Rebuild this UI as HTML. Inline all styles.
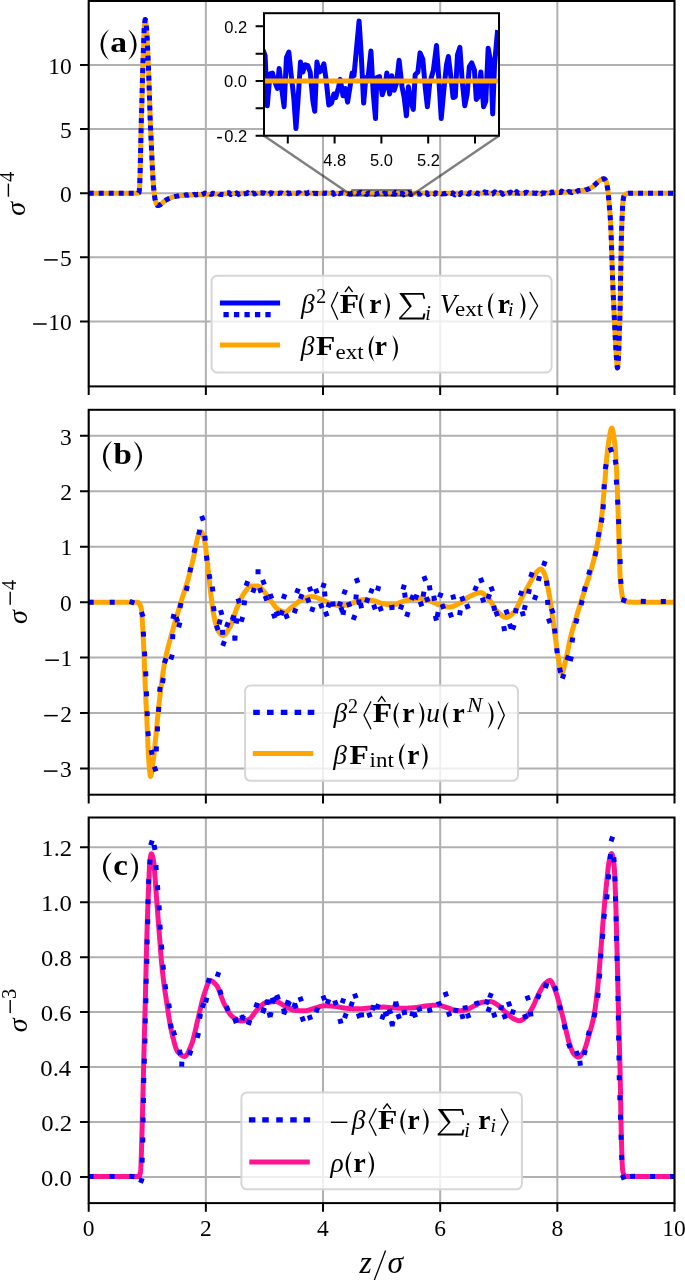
<!DOCTYPE html>
<html><head><meta charset="utf-8"><style>
html,body{margin:0;padding:0;background:#fff;}
body{width:685px;height:1280px;overflow:hidden;}
svg{display:block;will-change:transform;}
</style></head><body>
<svg width="685" height="1280" viewBox="0 0 685 1280">
<rect width="685" height="1280" fill="#fff"/>
<defs>
<clipPath id="clipa"><rect x="88.7" y="1.0" width="585.8" height="385.4"/></clipPath>
<clipPath id="clipb"><rect x="88.7" y="409.8" width="585.8" height="384.90000000000003"/></clipPath>
<clipPath id="clipc"><rect x="88.7" y="817.5" width="585.8" height="385.5999999999999"/></clipPath>
<clipPath id="clipi"><rect x="264" y="13.2" width="235" height="122.5"/></clipPath>
</defs>
<path d="M88.70,1.00V386.40M205.86,1.00V386.40M323.02,1.00V386.40M440.18,1.00V386.40M557.34,1.00V386.40M674.50,1.00V386.40M88.70,321.40H674.50M88.70,257.30H674.50M88.70,193.20H674.50M88.70,129.10H674.50M88.70,65.00H674.50" stroke="#b0b0b0" stroke-width="2" fill="none"/>
<g clip-path="url(#clipa)">
<path d="M88.70,193.20 L88.95,193.20 L89.20,193.20 L89.45,193.20 L89.70,193.20 L89.95,193.20 L90.20,193.20 L90.45,193.20 L90.70,193.20 L90.95,193.20 L91.20,193.20 L91.45,193.20 L91.70,193.20 L91.95,193.20 L92.20,193.20 L92.45,193.20 L92.70,193.20 L92.95,193.20 L93.20,193.20 L93.45,193.20 L93.70,193.20 L93.95,193.20 L94.20,193.20 L94.45,193.20 L94.70,193.20 L94.95,193.20 L95.20,193.20 L95.45,193.20 L95.70,193.20 L95.95,193.20 L96.20,193.20 L96.45,193.20 L96.70,193.20 L96.95,193.20 L97.20,193.20 L97.45,193.20 L97.70,193.20 L97.95,193.20 L98.20,193.20 L98.45,193.20 L98.70,193.20 L98.95,193.20 L99.20,193.20 L99.45,193.20 L99.70,193.20 L99.95,193.20 L100.20,193.20 L100.45,193.20 L100.70,193.20 L100.95,193.20 L101.20,193.20 L101.45,193.20 L101.70,193.20 L101.95,193.20 L102.20,193.20 L102.45,193.20 L102.70,193.20 L102.95,193.20 L103.20,193.20 L103.45,193.20 L103.70,193.20 L103.95,193.20 L104.20,193.20 L104.45,193.20 L104.70,193.20 L104.95,193.20 L105.20,193.20 L105.45,193.20 L105.70,193.20 L105.95,193.20 L106.20,193.20 L106.45,193.20 L106.70,193.20 L106.95,193.20 L107.20,193.20 L107.45,193.20 L107.70,193.20 L107.95,193.20 L108.20,193.20 L108.45,193.20 L108.70,193.20 L108.95,193.20 L109.20,193.20 L109.45,193.20 L109.70,193.20 L109.95,193.20 L110.20,193.20 L110.45,193.20 L110.70,193.20 L110.95,193.20 L111.20,193.20 L111.45,193.20 L111.70,193.20 L111.95,193.20 L112.20,193.20 L112.45,193.20 L112.70,193.20 L112.95,193.20 L113.20,193.20 L113.45,193.20 L113.70,193.20 L113.95,193.20 L114.20,193.20 L114.45,193.20 L114.70,193.20 L114.95,193.20 L115.20,193.20 L115.45,193.20 L115.70,193.20 L115.95,193.20 L116.20,193.20 L116.45,193.20 L116.70,193.20 L116.95,193.20 L117.20,193.20 L117.45,193.20 L117.70,193.20 L117.95,193.20 L118.20,193.20 L118.45,193.20 L118.70,193.20 L118.95,193.20 L119.20,193.20 L119.45,193.20 L119.70,193.20 L119.95,193.20 L120.20,193.20 L120.45,193.20 L120.70,193.20 L120.95,193.20 L121.20,193.20 L121.45,193.20 L121.70,193.20 L121.95,193.20 L122.20,193.20 L122.45,193.20 L122.70,193.20 L122.95,193.20 L123.20,193.20 L123.45,193.20 L123.70,193.20 L123.95,193.20 L124.20,193.20 L124.45,193.20 L124.70,193.20 L124.95,193.20 L125.20,193.20 L125.45,193.20 L125.70,193.20 L125.95,193.20 L126.20,193.20 L126.45,193.20 L126.70,193.20 L126.95,193.20 L127.20,193.20 L127.45,193.20 L127.70,193.20 L127.95,193.20 L128.20,193.20 L128.45,193.20 L128.70,193.20 L128.95,193.20 L129.20,193.20 L129.45,193.20 L129.70,193.20 L129.95,193.20 L130.20,193.20 L130.45,193.20 L130.70,193.20 L130.95,193.20 L131.20,193.20 L131.45,193.20 L131.70,193.20 L131.95,193.20 L132.20,193.20 L132.45,193.20 L132.70,193.20 L132.95,193.20 L133.20,193.20 L133.45,193.20 L133.70,193.20 L133.95,193.20 L134.20,193.20 L134.45,193.20 L134.70,193.20 L134.95,193.20 L135.20,193.20 L135.45,193.20 L135.70,193.20 L135.95,193.20 L136.20,193.20 L136.45,193.20 L136.70,193.20 L136.95,193.20 L137.20,193.20 L137.45,193.20 L137.70,193.19 L137.95,193.17 L138.20,193.12 L138.45,193.05 L138.70,192.90 L138.95,192.17 L139.20,190.87 L139.45,189.06 L139.70,184.87 L139.95,178.24 L140.20,170.30 L140.45,158.93 L140.70,146.20 L140.95,135.70 L141.20,125.94 L141.45,116.86 L141.70,108.49 L141.95,99.93 L142.20,90.12 L142.45,79.72 L142.70,70.73 L142.95,62.92 L143.20,55.70 L143.45,48.68 L143.70,41.17 L143.95,34.16 L144.20,29.20 L144.45,25.88 L144.70,22.94 L144.95,20.71 L145.20,19.52 L145.45,19.59 L145.70,20.68 L145.95,22.52 L146.20,24.89 L146.45,27.56 L146.70,30.41 L146.95,34.37 L147.20,39.26 L147.45,44.66 L147.70,50.10 L147.95,55.58 L148.20,61.41 L148.45,67.58 L148.70,74.10 L148.95,81.22 L149.20,88.87 L149.45,96.59 L149.70,104.29 L149.95,112.16 L150.20,119.54 L150.45,125.89 L150.70,131.52 L150.95,136.78 L151.20,141.94 L151.45,147.30 L151.70,153.01 L151.95,158.82 L152.20,164.39 L152.45,169.39 L152.70,173.81 L152.95,178.04 L153.20,181.98 L153.45,185.50 L153.70,188.48 L153.95,190.92 L154.20,193.17 L154.45,195.23 L154.70,197.07 L154.95,198.65 L155.20,199.93 L155.45,200.86 L155.70,201.66 L155.95,202.43 L156.20,203.14 L156.45,203.78 L156.70,204.35 L156.95,204.83 L157.20,205.20 L157.45,205.46 L157.70,205.59 L157.95,205.59 L158.20,205.56 L158.45,205.50 L158.70,205.42 L158.95,205.32 L159.20,205.21 L159.45,205.08 L159.70,204.96 L159.95,204.83 L160.20,204.70 L160.45,204.56 L160.70,204.41 L160.95,204.24 L161.20,204.04 L161.45,203.84 L161.70,203.62 L161.95,203.40 L162.20,203.17 L162.45,202.93 L162.70,202.68 L162.95,202.44 L163.20,202.20 L163.45,201.96 L163.70,201.73 L163.95,201.51 L164.20,201.29 L164.45,201.09 L164.70,200.90 L164.95,200.73 L165.20,200.57 L165.45,200.42 L165.70,200.26 L165.95,200.11 L166.20,199.96 L166.45,199.81 L166.70,199.67 L166.95,199.53 L167.20,199.38 L167.45,199.25 L167.70,199.11 L167.95,198.98 L168.20,198.85 L168.45,198.72 L168.70,198.60 L168.95,198.48 L169.20,198.36 L169.45,198.25 L169.70,198.14 L169.95,198.03 L170.20,197.93 L170.45,197.83 L170.70,197.74 L170.95,197.65 L171.20,197.57 L171.45,197.48 L171.70,197.41 L171.95,197.33 L172.20,197.25 L172.45,197.18 L172.70,197.11 L172.95,197.03 L173.20,196.96 L173.45,196.90 L173.70,196.83 L173.95,196.77 L174.20,196.70 L174.45,196.64 L174.70,196.58 L174.95,196.52 L175.20,196.47 L175.45,196.41 L175.70,196.36 L175.95,196.31 L176.20,196.26 L176.45,196.22 L176.70,196.17 L176.95,196.13 L177.20,196.09 L177.45,196.05 L177.70,196.01 L177.95,195.98 L178.20,195.95 L178.45,195.91 L178.70,195.88 L178.95,195.85 L179.20,195.82 L179.45,195.79 L179.70,195.76 L179.95,195.73 L180.20,195.71 L180.45,195.68 L180.70,195.65 L180.95,195.63 L181.20,195.60 L181.45,195.58 L181.70,195.56 L181.95,195.54 L182.20,195.51 L182.45,195.49 L182.70,195.47 L182.95,195.45 L183.20,195.43 L183.45,195.41 L183.70,195.39 L183.95,195.37 L184.20,195.36 L184.45,195.34 L184.70,195.32 L184.95,195.30 L185.20,195.29 L185.45,195.27 L185.70,195.25 L185.95,195.24 L186.20,195.22 L186.45,195.21 L186.70,195.19 L186.95,195.18 L187.20,195.16 L187.45,195.15 L187.70,195.13 L187.95,195.12 L188.20,195.11 L188.45,195.09 L188.70,195.08 L188.95,195.07 L189.20,195.05 L189.45,195.04 L189.70,195.03 L189.95,195.02 L190.20,195.00 L190.45,194.99 L190.70,194.98 L190.95,194.97 L191.20,194.96 L191.45,194.95 L191.70,194.93 L191.95,194.92 L192.20,194.91 L192.45,194.90 L192.70,194.89 L192.95,194.88 L193.20,194.87 L193.45,194.86 L193.70,194.85 L193.95,194.84 L194.20,194.83 L194.45,194.82 L194.70,194.81 L194.95,194.80 L195.20,194.79 L195.45,194.78 L195.70,194.77 L195.95,194.77 L196.20,194.76 L196.45,194.75 L196.70,194.74 L196.95,194.73 L197.20,194.73 L197.45,194.72 L197.70,194.71 L197.95,194.70 L198.20,194.70 L198.45,194.69 L198.70,194.68 L198.95,194.67 L199.20,194.67 L199.45,194.66 L199.70,194.65 L199.95,194.65 L200.20,194.64 L200.45,194.63 L200.70,194.63 L200.95,194.62 L201.20,194.61 L201.45,194.61 L201.70,194.60 L201.95,194.59 L202.20,194.59 L202.45,194.58 L202.70,194.57 L202.95,194.56 L203.20,194.56 L203.45,194.55 L203.70,194.54 L203.95,194.53 L204.20,194.53 L204.45,194.52 L204.70,194.51 L204.95,194.50 L205.20,194.49 L205.45,194.48 L205.70,194.48 L205.95,194.47 L206.20,194.46 L206.45,194.45 L206.70,194.44 L206.95,194.43 L207.20,194.42 L207.45,194.41 L207.70,194.40 L207.95,194.39 L208.20,194.38 L208.45,194.37 L208.70,194.36 L208.95,194.35 L209.20,194.34 L209.45,194.33 L209.70,194.32 L209.95,194.31 L210.20,194.30 L210.45,194.29 L210.70,194.28 L210.95,194.27 L211.20,194.26 L211.45,194.25 L211.70,194.24 L211.95,194.22 L212.20,194.21 L212.45,194.20 L212.70,194.19 L212.95,194.18 L213.20,194.17 L213.45,194.16 L213.70,194.15 L213.95,194.14 L214.20,194.13 L214.45,194.12 L214.70,194.11 L214.95,194.10 L215.20,194.09 L215.45,194.08 L215.70,194.07 L215.95,194.06 L216.20,194.05 L216.45,194.04 L216.70,194.03 L216.95,194.02 L217.20,194.01 L217.45,194.00 L217.70,193.99 L217.95,193.98 L218.20,193.97 L218.45,193.96 L218.70,193.95 L218.95,193.93 L219.20,193.92 L219.45,193.91 L219.70,193.90 L219.95,193.89 L220.20,193.88 L220.45,193.87 L220.70,193.86 L220.95,193.85 L221.20,193.84 L221.45,193.83 L221.70,193.82 L221.95,193.81 L222.20,193.80 L222.45,193.79 L222.70,193.78 L222.95,193.77 L223.20,193.76 L223.45,193.75 L223.70,193.74 L223.95,193.73 L224.20,193.72 L224.45,193.71 L224.70,193.70 L224.95,193.69 L225.20,193.68 L225.45,193.67 L225.70,193.67 L225.95,193.66 L226.20,193.65 L226.45,193.64 L226.70,193.64 L226.95,193.63 L227.20,193.62 L227.45,193.61 L227.70,193.61 L227.95,193.60 L228.20,193.60 L228.45,193.59 L228.70,193.58 L228.95,193.58 L229.20,193.57 L229.45,193.56 L229.70,193.56 L229.95,193.55 L230.20,193.55 L230.45,193.54 L230.70,193.53 L230.95,193.53 L231.20,193.52 L231.45,193.51 L231.70,193.51 L231.95,193.50 L232.20,193.50 L232.45,193.49 L232.70,193.48 L232.95,193.48 L233.20,193.47 L233.45,193.47 L233.70,193.46 L233.95,193.45 L234.20,193.45 L234.45,193.44 L234.70,193.44 L234.95,193.43 L235.20,193.43 L235.45,193.42 L235.70,193.42 L235.95,193.41 L236.20,193.41 L236.45,193.40 L236.70,193.40 L236.95,193.39 L237.20,193.39 L237.45,193.38 L237.70,193.38 L237.95,193.37 L238.20,193.37 L238.45,193.36 L238.70,193.36 L238.95,193.36 L239.20,193.35 L239.45,193.35 L239.70,193.34 L239.95,193.34 L240.20,193.34 L240.45,193.33 L240.70,193.33 L240.95,193.33 L241.20,193.32 L241.45,193.32 L241.70,193.32 L241.95,193.32 L242.20,193.31 L242.45,193.31 L242.70,193.31 L242.95,193.31 L243.20,193.31 L243.45,193.31 L243.70,193.30 L243.95,193.30 L244.20,193.30 L244.45,193.30 L244.70,193.30 L244.95,193.30 L245.20,193.30 L245.45,193.30 L245.70,193.30 L245.95,193.30 L246.20,193.30 L246.45,193.30 L246.70,193.30 L246.95,193.30 L247.20,193.30 L247.45,193.30 L247.70,193.30 L247.95,193.30 L248.20,193.30 L248.45,193.30 L248.70,193.30 L248.95,193.30 L249.20,193.30 L249.45,193.30 L249.70,193.30 L249.95,193.30 L250.20,193.30 L250.45,193.30 L250.70,193.29 L250.95,193.29 L251.20,193.29 L251.45,193.29 L251.70,193.29 L251.95,193.29 L252.20,193.29 L252.45,193.29 L252.70,193.29 L252.95,193.29 L253.20,193.29 L253.45,193.29 L253.70,193.29 L253.95,193.29 L254.20,193.29 L254.45,193.29 L254.70,193.29 L254.95,193.29 L255.20,193.29 L255.45,193.29 L255.70,193.29 L255.95,193.29 L256.20,193.29 L256.45,193.29 L256.70,193.29 L256.95,193.29 L257.20,193.29 L257.45,193.29 L257.70,193.29 L257.95,193.29 L258.20,193.29 L258.45,193.29 L258.70,193.29 L258.95,193.29 L259.20,193.29 L259.45,193.29 L259.70,193.29 L259.95,193.29 L260.20,193.29 L260.45,193.29 L260.70,193.29 L260.95,193.29 L261.20,193.29 L261.45,193.29 L261.70,193.29 L261.95,193.29 L262.20,193.29 L262.45,193.29 L262.70,193.29 L262.95,193.29 L263.20,193.28 L263.45,193.28 L263.70,193.28 L263.95,193.28 L264.20,193.28 L264.45,193.28 L264.70,193.28 L264.95,193.28 L265.20,193.28 L265.45,193.28 L265.70,193.28 L265.95,193.28 L266.20,193.28 L266.45,193.28 L266.70,193.28 L266.95,193.28 L267.20,193.28 L267.45,193.28 L267.70,193.28 L267.95,193.28 L268.20,193.28 L268.45,193.28 L268.70,193.28 L268.95,193.28 L269.20,193.28 L269.45,193.28 L269.70,193.28 L269.95,193.28 L270.20,193.28 L270.45,193.28 L270.70,193.28 L270.95,193.28 L271.20,193.28 L271.45,193.28 L271.70,193.28 L271.95,193.28 L272.20,193.28 L272.45,193.28 L272.70,193.28 L272.95,193.28 L273.20,193.28 L273.45,193.28 L273.70,193.28 L273.95,193.28 L274.20,193.28 L274.45,193.28 L274.70,193.28 L274.95,193.28 L275.20,193.28 L275.45,193.28 L275.70,193.28 L275.95,193.28 L276.20,193.28 L276.45,193.28 L276.70,193.28 L276.95,193.28 L277.20,193.28 L277.45,193.28 L277.70,193.28 L277.95,193.28 L278.20,193.28 L278.45,193.28 L278.70,193.27 L278.95,193.27 L279.20,193.27 L279.45,193.27 L279.70,193.27 L279.95,193.27 L280.20,193.27 L280.45,193.27 L280.70,193.27 L280.95,193.27 L281.20,193.27 L281.45,193.27 L281.70,193.27 L281.95,193.27 L282.20,193.27 L282.45,193.27 L282.70,193.27 L282.95,193.27 L283.20,193.27 L283.45,193.27 L283.70,193.27 L283.95,193.27 L284.20,193.27 L284.45,193.27 L284.70,193.27 L284.95,193.27 L285.20,193.27 L285.45,193.27 L285.70,193.27 L285.95,193.27 L286.20,193.27 L286.45,193.27 L286.70,193.27 L286.95,193.27 L287.20,193.27 L287.45,193.27 L287.70,193.27 L287.95,193.27 L288.20,193.27 L288.45,193.27 L288.70,193.27 L288.95,193.27 L289.20,193.27 L289.45,193.27 L289.70,193.27 L289.95,193.27 L290.20,193.27 L290.45,193.27 L290.70,193.27 L290.95,193.27 L291.20,193.27 L291.45,193.27 L291.70,193.27 L291.95,193.27 L292.20,193.27 L292.45,193.27 L292.70,193.27 L292.95,193.27 L293.20,193.27 L293.45,193.27 L293.70,193.27 L293.95,193.27 L294.20,193.27 L294.45,193.27 L294.70,193.27 L294.95,193.27 L295.20,193.27 L295.45,193.27 L295.70,193.27 L295.95,193.27 L296.20,193.27 L296.45,193.27 L296.70,193.27 L296.95,193.27 L297.20,193.27 L297.45,193.27 L297.70,193.27 L297.95,193.27 L298.20,193.27 L298.45,193.27 L298.70,193.27 L298.95,193.27 L299.20,193.27 L299.45,193.26 L299.70,193.26 L299.95,193.26 L300.20,193.26 L300.45,193.26 L300.70,193.26 L300.95,193.26 L301.20,193.26 L301.45,193.26 L301.70,193.26 L301.95,193.26 L302.20,193.26 L302.45,193.26 L302.70,193.26 L302.95,193.26 L303.20,193.26 L303.45,193.26 L303.70,193.26 L303.95,193.26 L304.20,193.26 L304.45,193.26 L304.70,193.26 L304.95,193.26 L305.20,193.26 L305.45,193.26 L305.70,193.26 L305.95,193.26 L306.20,193.26 L306.45,193.26 L306.70,193.26 L306.95,193.26 L307.20,193.26 L307.45,193.26 L307.70,193.26 L307.95,193.26 L308.20,193.26 L308.45,193.26 L308.70,193.26 L308.95,193.26 L309.20,193.26 L309.45,193.26 L309.70,193.26 L309.95,193.26 L310.20,193.26 L310.45,193.26 L310.70,193.26 L310.95,193.26 L311.20,193.26 L311.45,193.26 L311.70,193.26 L311.95,193.26 L312.20,193.26 L312.45,193.26 L312.70,193.26 L312.95,193.26 L313.20,193.26 L313.45,193.26 L313.70,193.26 L313.95,193.26 L314.20,193.26 L314.45,193.26 L314.70,193.26 L314.95,193.26 L315.20,193.26 L315.45,193.26 L315.70,193.26 L315.95,193.26 L316.20,193.26 L316.45,193.26 L316.70,193.26 L316.95,193.26 L317.20,193.26 L317.45,193.26 L317.70,193.26 L317.95,193.26 L318.20,193.26 L318.45,193.26 L318.70,193.26 L318.95,193.26 L319.20,193.26 L319.45,193.26 L319.70,193.26 L319.95,193.26 L320.20,193.26 L320.45,193.26 L320.70,193.26 L320.95,193.26 L321.20,193.26 L321.45,193.26 L321.70,193.26 L321.95,193.26 L322.20,193.26 L322.45,193.26 L322.70,193.26 L322.95,193.26 L323.20,193.26 L323.45,193.26 L323.70,193.26 L323.95,193.26 L324.20,193.26 L324.45,193.26 L324.70,193.26 L324.95,193.26 L325.20,193.26 L325.45,193.26 L325.70,193.26 L325.95,193.26 L326.20,193.26 L326.45,193.26 L326.70,193.26 L326.95,193.26 L327.20,193.26 L327.45,193.26 L327.70,193.26 L327.95,193.26 L328.20,193.26 L328.45,193.26 L328.70,193.26 L328.95,193.26 L329.20,193.26 L329.45,193.26 L329.70,193.26 L329.95,193.26 L330.20,193.26 L330.45,193.26 L330.70,193.26 L330.95,193.26 L331.20,193.26 L331.45,193.26 L331.70,193.26 L331.95,193.26 L332.20,193.26 L332.45,193.26 L332.70,193.26 L332.95,193.26 L333.20,193.26 L333.45,193.26 L333.70,193.26 L333.95,193.26 L334.20,193.26 L334.45,193.26 L334.70,193.26 L334.95,193.26 L335.20,193.26 L335.45,193.26 L335.70,193.26 L335.95,193.25 L336.20,193.25 L336.45,193.25 L336.70,193.25 L336.95,193.25 L337.20,193.25 L337.45,193.25 L337.70,193.25 L337.95,193.25 L338.20,193.25 L338.45,193.25 L338.70,193.25 L338.95,193.25 L339.20,193.25 L339.45,193.25 L339.70,193.25 L339.95,193.25 L340.20,193.25 L340.45,193.25 L340.70,193.25 L340.95,193.25 L341.20,193.25 L341.45,193.25 L341.70,193.25 L341.95,193.25 L342.20,193.25 L342.45,193.25 L342.70,193.25 L342.95,193.25 L343.20,193.25 L343.45,193.25 L343.70,193.25 L343.95,193.25 L344.20,193.25 L344.45,193.25 L344.70,193.25 L344.95,193.25 L345.20,193.25 L345.45,193.25 L345.70,193.25 L345.95,193.25 L346.20,193.25 L346.45,193.25 L346.70,193.25 L346.95,193.25 L347.20,193.25 L347.45,193.25 L347.70,193.25 L347.95,193.25 L348.20,193.25 L348.45,193.25 L348.70,193.25 L348.95,193.25 L349.20,193.25 L349.45,193.25 L349.70,193.25 L349.95,193.25 L350.20,193.25 L350.45,193.25 L350.70,193.25 L350.95,193.25 L351.20,193.25 L351.45,193.25 L351.70,193.25 L351.95,193.25 L352.20,193.25 L352.45,193.25 L352.70,193.25 L352.95,193.25 L353.20,193.25 L353.45,193.25 L353.70,193.25 L353.95,193.25 L354.20,193.25 L354.45,193.25 L354.70,193.25 L354.95,193.25 L355.20,193.25 L355.45,193.25 L355.70,193.25 L355.95,193.25 L356.20,193.25 L356.45,193.25 L356.70,193.25 L356.95,193.25 L357.20,193.25 L357.45,193.25 L357.70,193.25 L357.95,193.25 L358.20,193.25 L358.45,193.25 L358.70,193.25 L358.95,193.25 L359.20,193.25 L359.45,193.25 L359.70,193.25 L359.95,193.25 L360.20,193.25 L360.45,193.25 L360.70,193.25 L360.95,193.25 L361.20,193.25 L361.45,193.25 L361.70,193.25 L361.95,193.25 L362.20,193.25 L362.45,193.25 L362.70,193.25 L362.95,193.25 L363.20,193.25 L363.45,193.25 L363.70,193.25 L363.95,193.25 L364.20,193.25 L364.45,193.25 L364.70,193.25 L364.95,193.25 L365.20,193.25 L365.45,193.25 L365.70,193.25 L365.95,193.25 L366.20,193.25 L366.45,193.25 L366.70,193.25 L366.95,193.25 L367.20,193.25 L367.45,193.25 L367.70,193.25 L367.95,193.25 L368.20,193.25 L368.45,193.25 L368.70,193.25 L368.95,193.25 L369.20,193.25 L369.45,193.25 L369.70,193.25 L369.95,193.25 L370.20,193.25 L370.45,193.25 L370.70,193.25 L370.95,193.25 L371.20,193.25 L371.45,193.25 L371.70,193.25 L371.95,193.25 L372.20,193.25 L372.45,193.25 L372.70,193.25 L372.95,193.25 L373.20,193.25 L373.45,193.25 L373.70,193.25 L373.95,193.25 L374.20,193.25 L374.45,193.25 L374.70,193.25 L374.95,193.25 L375.20,193.25 L375.45,193.25 L375.70,193.25 L375.95,193.25 L376.20,193.25 L376.45,193.25 L376.70,193.25 L376.95,193.25 L377.20,193.25 L377.45,193.25 L377.70,193.25 L377.95,193.25 L378.20,193.25 L378.45,193.25 L378.70,193.25 L378.95,193.25 L379.20,193.25 L379.45,193.25 L379.70,193.25 L379.95,193.25 L380.20,193.25 L380.45,193.25 L380.70,193.25 L380.95,193.25 L381.20,193.25 L381.45,193.25 L381.70,193.25 L381.95,193.25 L382.20,193.25 L382.45,193.25 L382.70,193.25 L382.95,193.25 L383.20,193.25 L383.45,193.25 L383.70,193.25 L383.95,193.25 L384.20,193.25 L384.45,193.25 L384.70,193.25 L384.95,193.25 L385.20,193.25 L385.45,193.25 L385.70,193.25 L385.95,193.25 L386.20,193.25 L386.45,193.25 L386.70,193.25 L386.95,193.25 L387.20,193.25 L387.45,193.25 L387.70,193.25 L387.95,193.25 L388.20,193.25 L388.45,193.25 L388.70,193.25 L388.95,193.25 L389.20,193.25 L389.45,193.25 L389.70,193.25 L389.95,193.25 L390.20,193.25 L390.45,193.25 L390.70,193.25 L390.95,193.25 L391.20,193.25 L391.45,193.25 L391.70,193.25 L391.95,193.25 L392.20,193.25 L392.45,193.25 L392.70,193.25 L392.95,193.25 L393.20,193.25 L393.45,193.25 L393.70,193.25 L393.95,193.25 L394.20,193.25 L394.45,193.25 L394.70,193.25 L394.95,193.25 L395.20,193.25 L395.45,193.25 L395.70,193.25 L395.95,193.25 L396.20,193.25 L396.45,193.25 L396.70,193.25 L396.95,193.25 L397.20,193.25 L397.45,193.25 L397.70,193.25 L397.95,193.25 L398.20,193.25 L398.45,193.25 L398.70,193.25 L398.95,193.25 L399.20,193.25 L399.45,193.25 L399.70,193.25 L399.95,193.25 L400.20,193.25 L400.45,193.25 L400.70,193.25 L400.95,193.25 L401.20,193.25 L401.45,193.25 L401.70,193.25 L401.95,193.25 L402.20,193.25 L402.45,193.25 L402.70,193.25 L402.95,193.25 L403.20,193.25 L403.45,193.25 L403.70,193.25 L403.95,193.25 L404.20,193.25 L404.45,193.25 L404.70,193.25 L404.95,193.25 L405.20,193.25 L405.45,193.25 L405.70,193.25 L405.95,193.25 L406.20,193.25 L406.45,193.25 L406.70,193.25 L406.95,193.25 L407.20,193.25 L407.45,193.25 L407.70,193.25 L407.95,193.25 L408.20,193.25 L408.45,193.25 L408.70,193.25 L408.95,193.25 L409.20,193.25 L409.45,193.25 L409.70,193.25 L409.95,193.25 L410.20,193.25 L410.45,193.25 L410.70,193.25 L410.95,193.25 L411.20,193.25 L411.45,193.25 L411.70,193.25 L411.95,193.25 L412.20,193.25 L412.45,193.25 L412.70,193.25 L412.95,193.25 L413.20,193.25 L413.45,193.25 L413.70,193.25 L413.95,193.25 L414.20,193.25 L414.45,193.25 L414.70,193.25 L414.95,193.25 L415.20,193.25 L415.45,193.25 L415.70,193.25 L415.95,193.25 L416.20,193.25 L416.45,193.25 L416.70,193.25 L416.95,193.25 L417.20,193.25 L417.45,193.25 L417.70,193.25 L417.95,193.25 L418.20,193.25 L418.45,193.25 L418.70,193.25 L418.95,193.25 L419.20,193.25 L419.45,193.25 L419.70,193.25 L419.95,193.25 L420.20,193.25 L420.45,193.25 L420.70,193.25 L420.95,193.25 L421.20,193.25 L421.45,193.25 L421.70,193.25 L421.95,193.25 L422.20,193.25 L422.45,193.25 L422.70,193.25 L422.95,193.25 L423.20,193.25 L423.45,193.25 L423.70,193.25 L423.95,193.25 L424.20,193.25 L424.45,193.25 L424.70,193.25 L424.95,193.25 L425.20,193.25 L425.45,193.25 L425.70,193.25 L425.95,193.25 L426.20,193.25 L426.45,193.25 L426.70,193.25 L426.95,193.25 L427.20,193.25 L427.45,193.25 L427.70,193.25 L427.95,193.25 L428.20,193.25 L428.45,193.25 L428.70,193.25 L428.95,193.25 L429.20,193.25 L429.45,193.25 L429.70,193.25 L429.95,193.25 L430.20,193.25 L430.45,193.25 L430.70,193.25 L430.95,193.25 L431.20,193.25 L431.45,193.25 L431.70,193.25 L431.95,193.25 L432.20,193.25 L432.45,193.25 L432.70,193.25 L432.95,193.25 L433.20,193.25 L433.45,193.25 L433.70,193.25 L433.95,193.25 L434.20,193.25 L434.45,193.25 L434.70,193.25 L434.95,193.25 L435.20,193.25 L435.45,193.25 L435.70,193.25 L435.95,193.25 L436.20,193.25 L436.45,193.25 L436.70,193.25 L436.95,193.25 L437.20,193.25 L437.45,193.25 L437.70,193.25 L437.95,193.25 L438.20,193.25 L438.45,193.25 L438.70,193.25 L438.95,193.25 L439.20,193.25 L439.45,193.25 L439.70,193.25 L439.95,193.25 L440.20,193.25 L440.45,193.25 L440.70,193.25 L440.95,193.25 L441.20,193.25 L441.45,193.25 L441.70,193.25 L441.95,193.25 L442.20,193.25 L442.45,193.25 L442.70,193.25 L442.95,193.25 L443.20,193.25 L443.45,193.25 L443.70,193.25 L443.95,193.25 L444.20,193.25 L444.45,193.25 L444.70,193.25 L444.95,193.25 L445.20,193.25 L445.45,193.25 L445.70,193.25 L445.95,193.25 L446.20,193.25 L446.45,193.25 L446.70,193.25 L446.95,193.25 L447.20,193.25 L447.45,193.25 L447.70,193.25 L447.95,193.25 L448.20,193.25 L448.45,193.25 L448.70,193.25 L448.95,193.25 L449.20,193.25 L449.45,193.25 L449.70,193.25 L449.95,193.25 L450.20,193.25 L450.45,193.25 L450.70,193.25 L450.95,193.25 L451.20,193.24 L451.45,193.24 L451.70,193.24 L451.95,193.24 L452.20,193.24 L452.45,193.24 L452.70,193.24 L452.95,193.24 L453.20,193.24 L453.45,193.24 L453.70,193.24 L453.95,193.24 L454.20,193.24 L454.45,193.24 L454.70,193.24 L454.95,193.24 L455.20,193.24 L455.45,193.24 L455.70,193.24 L455.95,193.24 L456.20,193.24 L456.45,193.24 L456.70,193.24 L456.95,193.24 L457.20,193.24 L457.45,193.24 L457.70,193.24 L457.95,193.24 L458.20,193.24 L458.45,193.24 L458.70,193.24 L458.95,193.24 L459.20,193.24 L459.45,193.24 L459.70,193.24 L459.95,193.24 L460.20,193.24 L460.45,193.24 L460.70,193.24 L460.95,193.24 L461.20,193.24 L461.45,193.24 L461.70,193.24 L461.95,193.24 L462.20,193.24 L462.45,193.24 L462.70,193.24 L462.95,193.24 L463.20,193.24 L463.45,193.24 L463.70,193.24 L463.95,193.24 L464.20,193.24 L464.45,193.24 L464.70,193.24 L464.95,193.24 L465.20,193.24 L465.45,193.24 L465.70,193.24 L465.95,193.24 L466.20,193.24 L466.45,193.24 L466.70,193.24 L466.95,193.24 L467.20,193.24 L467.45,193.24 L467.70,193.24 L467.95,193.24 L468.20,193.24 L468.45,193.24 L468.70,193.24 L468.95,193.24 L469.20,193.24 L469.45,193.24 L469.70,193.24 L469.95,193.24 L470.20,193.24 L470.45,193.24 L470.70,193.24 L470.95,193.24 L471.20,193.24 L471.45,193.24 L471.70,193.24 L471.95,193.24 L472.20,193.24 L472.45,193.24 L472.70,193.24 L472.95,193.24 L473.20,193.24 L473.45,193.24 L473.70,193.24 L473.95,193.24 L474.20,193.24 L474.45,193.24 L474.70,193.24 L474.95,193.24 L475.20,193.24 L475.45,193.24 L475.70,193.24 L475.95,193.24 L476.20,193.24 L476.45,193.24 L476.70,193.24 L476.95,193.24 L477.20,193.24 L477.45,193.24 L477.70,193.24 L477.95,193.24 L478.20,193.24 L478.45,193.24 L478.70,193.24 L478.95,193.24 L479.20,193.24 L479.45,193.24 L479.70,193.24 L479.95,193.24 L480.20,193.24 L480.45,193.24 L480.70,193.24 L480.95,193.24 L481.20,193.24 L481.45,193.24 L481.70,193.24 L481.95,193.24 L482.20,193.24 L482.45,193.24 L482.70,193.24 L482.95,193.24 L483.20,193.24 L483.45,193.24 L483.70,193.24 L483.95,193.24 L484.20,193.24 L484.45,193.24 L484.70,193.24 L484.95,193.24 L485.20,193.24 L485.45,193.24 L485.70,193.24 L485.95,193.24 L486.20,193.23 L486.45,193.23 L486.70,193.23 L486.95,193.23 L487.20,193.23 L487.45,193.23 L487.70,193.23 L487.95,193.23 L488.20,193.23 L488.45,193.23 L488.70,193.23 L488.95,193.23 L489.20,193.23 L489.45,193.23 L489.70,193.23 L489.95,193.23 L490.20,193.23 L490.45,193.23 L490.70,193.23 L490.95,193.23 L491.20,193.23 L491.45,193.23 L491.70,193.23 L491.95,193.23 L492.20,193.23 L492.45,193.23 L492.70,193.23 L492.95,193.23 L493.20,193.23 L493.45,193.23 L493.70,193.23 L493.95,193.23 L494.20,193.23 L494.45,193.23 L494.70,193.23 L494.95,193.23 L495.20,193.23 L495.45,193.23 L495.70,193.23 L495.95,193.23 L496.20,193.23 L496.45,193.23 L496.70,193.23 L496.95,193.23 L497.20,193.23 L497.45,193.23 L497.70,193.23 L497.95,193.23 L498.20,193.23 L498.45,193.23 L498.70,193.23 L498.95,193.23 L499.20,193.23 L499.45,193.23 L499.70,193.23 L499.95,193.23 L500.20,193.23 L500.45,193.23 L500.70,193.23 L500.95,193.23 L501.20,193.23 L501.45,193.23 L501.70,193.23 L501.95,193.23 L502.20,193.23 L502.45,193.23 L502.70,193.23 L502.95,193.23 L503.20,193.23 L503.45,193.23 L503.70,193.23 L503.95,193.23 L504.20,193.23 L504.45,193.23 L504.70,193.23 L504.95,193.23 L505.20,193.23 L505.45,193.23 L505.70,193.23 L505.95,193.23 L506.20,193.23 L506.45,193.23 L506.70,193.22 L506.95,193.22 L507.20,193.22 L507.45,193.22 L507.70,193.22 L507.95,193.22 L508.20,193.22 L508.45,193.22 L508.70,193.22 L508.95,193.22 L509.20,193.22 L509.45,193.22 L509.70,193.22 L509.95,193.22 L510.20,193.22 L510.45,193.22 L510.70,193.22 L510.95,193.22 L511.20,193.22 L511.45,193.22 L511.70,193.22 L511.95,193.22 L512.20,193.22 L512.45,193.22 L512.70,193.22 L512.95,193.22 L513.20,193.22 L513.45,193.22 L513.70,193.22 L513.95,193.22 L514.20,193.22 L514.45,193.22 L514.70,193.22 L514.95,193.22 L515.20,193.22 L515.45,193.22 L515.70,193.22 L515.95,193.22 L516.20,193.22 L516.45,193.22 L516.70,193.22 L516.95,193.22 L517.20,193.22 L517.45,193.22 L517.70,193.22 L517.95,193.22 L518.20,193.22 L518.45,193.22 L518.70,193.22 L518.95,193.22 L519.20,193.22 L519.45,193.22 L519.70,193.22 L519.95,193.22 L520.20,193.22 L520.45,193.22 L520.70,193.22 L520.95,193.22 L521.20,193.22 L521.45,193.22 L521.70,193.22 L521.95,193.22 L522.20,193.21 L522.45,193.21 L522.70,193.21 L522.95,193.21 L523.20,193.21 L523.45,193.21 L523.70,193.21 L523.95,193.21 L524.20,193.21 L524.45,193.21 L524.70,193.21 L524.95,193.21 L525.20,193.21 L525.45,193.21 L525.70,193.21 L525.95,193.21 L526.20,193.21 L526.45,193.21 L526.70,193.21 L526.95,193.21 L527.20,193.21 L527.45,193.21 L527.70,193.21 L527.95,193.21 L528.20,193.21 L528.45,193.21 L528.70,193.21 L528.95,193.21 L529.20,193.21 L529.45,193.21 L529.70,193.21 L529.95,193.21 L530.20,193.21 L530.45,193.21 L530.70,193.21 L530.95,193.21 L531.20,193.21 L531.45,193.21 L531.70,193.21 L531.95,193.21 L532.20,193.21 L532.45,193.21 L532.70,193.21 L532.95,193.21 L533.20,193.21 L533.45,193.21 L533.70,193.21 L533.95,193.21 L534.20,193.21 L534.45,193.21 L534.70,193.20 L534.95,193.20 L535.20,193.20 L535.45,193.20 L535.70,193.20 L535.95,193.20 L536.20,193.20 L536.45,193.20 L536.70,193.20 L536.95,193.20 L537.20,193.20 L537.45,193.20 L537.70,193.20 L537.95,193.20 L538.20,193.20 L538.45,193.20 L538.70,193.20 L538.95,193.20 L539.20,193.20 L539.45,193.20 L539.70,193.20 L539.95,193.20 L540.20,193.20 L540.45,193.20 L540.70,193.20 L540.95,193.20 L541.20,193.20 L541.45,193.19 L541.70,193.19 L541.95,193.19 L542.20,193.19 L542.45,193.19 L542.70,193.18 L542.95,193.18 L543.20,193.18 L543.45,193.17 L543.70,193.17 L543.95,193.17 L544.20,193.16 L544.45,193.16 L544.70,193.15 L544.95,193.15 L545.20,193.14 L545.45,193.14 L545.70,193.13 L545.95,193.13 L546.20,193.12 L546.45,193.11 L546.70,193.11 L546.95,193.10 L547.20,193.10 L547.45,193.09 L547.70,193.08 L547.95,193.08 L548.20,193.07 L548.45,193.06 L548.70,193.05 L548.95,193.05 L549.20,193.04 L549.45,193.03 L549.70,193.02 L549.95,193.01 L550.20,193.01 L550.45,193.00 L550.70,192.99 L550.95,192.98 L551.20,192.97 L551.45,192.96 L551.70,192.95 L551.95,192.94 L552.20,192.93 L552.45,192.92 L552.70,192.91 L552.95,192.90 L553.20,192.89 L553.45,192.88 L553.70,192.87 L553.95,192.86 L554.20,192.85 L554.45,192.84 L554.70,192.83 L554.95,192.82 L555.20,192.81 L555.45,192.80 L555.70,192.79 L555.95,192.78 L556.20,192.77 L556.45,192.76 L556.70,192.75 L556.95,192.74 L557.20,192.73 L557.45,192.72 L557.70,192.70 L557.95,192.69 L558.20,192.68 L558.45,192.67 L558.70,192.66 L558.95,192.65 L559.20,192.64 L559.45,192.63 L559.70,192.61 L559.95,192.60 L560.20,192.59 L560.45,192.58 L560.70,192.57 L560.95,192.55 L561.20,192.54 L561.45,192.53 L561.70,192.51 L561.95,192.50 L562.20,192.48 L562.45,192.46 L562.70,192.45 L562.95,192.43 L563.20,192.41 L563.45,192.40 L563.70,192.38 L563.95,192.36 L564.20,192.34 L564.45,192.32 L564.70,192.30 L564.95,192.28 L565.20,192.26 L565.45,192.24 L565.70,192.22 L565.95,192.20 L566.20,192.18 L566.45,192.16 L566.70,192.13 L566.95,192.11 L567.20,192.09 L567.45,192.07 L567.70,192.04 L567.95,192.02 L568.20,192.00 L568.45,191.97 L568.70,191.95 L568.95,191.92 L569.20,191.90 L569.45,191.88 L569.70,191.85 L569.95,191.83 L570.20,191.80 L570.45,191.78 L570.70,191.75 L570.95,191.72 L571.20,191.70 L571.45,191.67 L571.70,191.65 L571.95,191.62 L572.20,191.59 L572.45,191.57 L572.70,191.54 L572.95,191.52 L573.20,191.49 L573.45,191.46 L573.70,191.44 L573.95,191.41 L574.20,191.38 L574.45,191.36 L574.70,191.33 L574.95,191.31 L575.20,191.28 L575.45,191.25 L575.70,191.23 L575.95,191.20 L576.20,191.18 L576.45,191.15 L576.70,191.12 L576.95,191.10 L577.20,191.07 L577.45,191.05 L577.70,191.02 L577.95,191.00 L578.20,190.97 L578.45,190.94 L578.70,190.92 L578.95,190.89 L579.20,190.86 L579.45,190.83 L579.70,190.80 L579.95,190.77 L580.20,190.74 L580.45,190.71 L580.70,190.68 L580.95,190.65 L581.20,190.62 L581.45,190.59 L581.70,190.55 L581.95,190.52 L582.20,190.48 L582.45,190.44 L582.70,190.40 L582.95,190.37 L583.20,190.33 L583.45,190.28 L583.70,190.24 L583.95,190.20 L584.20,190.15 L584.45,190.11 L584.70,190.06 L584.95,190.01 L585.20,189.96 L585.45,189.90 L585.70,189.84 L585.95,189.78 L586.20,189.72 L586.45,189.65 L586.70,189.57 L586.95,189.50 L587.20,189.42 L587.45,189.33 L587.70,189.24 L587.95,189.15 L588.20,189.06 L588.45,188.96 L588.70,188.86 L588.95,188.76 L589.20,188.66 L589.45,188.55 L589.70,188.43 L589.95,188.32 L590.20,188.20 L590.45,188.08 L590.70,187.96 L590.95,187.83 L591.20,187.70 L591.45,187.57 L591.70,187.43 L591.95,187.28 L592.20,187.11 L592.45,186.92 L592.70,186.73 L592.95,186.53 L593.20,186.32 L593.45,186.10 L593.70,185.88 L593.95,185.64 L594.20,185.41 L594.45,185.17 L594.70,184.93 L594.95,184.69 L595.20,184.45 L595.45,184.21 L595.70,183.97 L595.95,183.73 L596.20,183.50 L596.45,183.27 L596.70,183.05 L596.95,182.84 L597.20,182.63 L597.45,182.41 L597.70,182.19 L597.95,181.96 L598.20,181.72 L598.45,181.49 L598.70,181.26 L598.95,181.03 L599.20,180.81 L599.45,180.60 L599.70,180.40 L599.95,180.21 L600.20,180.03 L600.45,179.87 L600.70,179.74 L600.95,179.62 L601.20,179.52 L601.45,179.42 L601.70,179.32 L601.95,179.23 L602.20,179.14 L602.45,179.06 L602.70,178.98 L602.95,178.92 L603.20,178.87 L603.45,178.83 L603.70,178.81 L603.95,178.80 L604.20,178.86 L604.45,178.98 L604.70,179.18 L604.95,179.43 L605.20,179.74 L605.45,180.10 L605.70,180.49 L605.95,180.93 L606.20,181.41 L606.45,182.18 L606.70,183.22 L606.95,184.50 L607.20,185.96 L607.45,187.54 L607.70,189.20 L607.95,191.11 L608.20,193.40 L608.45,195.96 L608.70,198.68 L608.95,201.45 L609.20,204.19 L609.45,206.97 L609.70,209.90 L609.95,213.07 L610.20,216.58 L610.45,220.57 L610.70,225.26 L610.95,230.60 L611.20,236.64 L611.45,243.93 L611.70,251.87 L611.95,259.62 L612.20,267.45 L612.45,275.21 L612.70,282.20 L612.95,288.21 L613.20,293.65 L613.45,298.84 L613.70,304.05 L613.95,309.51 L614.20,315.13 L614.45,320.72 L614.70,326.16 L614.95,331.31 L615.20,336.40 L615.45,341.44 L615.70,346.23 L615.95,350.58 L616.20,354.30 L616.45,357.79 L616.70,361.32 L616.95,364.45 L617.20,366.77 L617.45,367.87 L617.70,367.25 L617.95,364.88 L618.20,361.29 L618.45,356.99 L618.70,352.23 L618.95,345.15 L619.20,336.76 L619.45,328.85 L619.70,322.46 L619.95,315.73 L620.20,306.20 L620.45,285.78 L620.70,271.60 L620.95,260.45 L621.20,247.85 L621.45,235.96 L621.70,227.90 L621.95,221.58 L622.20,215.73 L622.45,209.71 L622.70,204.58 L622.95,201.59 L623.20,199.73 L623.45,198.20 L623.70,197.00 L623.95,196.13 L624.20,195.60 L624.45,195.27 L624.70,194.97 L624.95,194.71 L625.20,194.47 L625.45,194.27 L625.70,194.10 L625.95,193.95 L626.20,193.83 L626.45,193.73 L626.70,193.65 L626.95,193.59 L627.20,193.53 L627.45,193.48 L627.70,193.44 L627.95,193.39 L628.20,193.35 L628.45,193.31 L628.70,193.28 L628.95,193.25 L629.20,193.23 L629.45,193.22 L629.70,193.20 L629.95,193.20 L630.20,193.20 L630.45,193.20 L630.70,193.20 L630.95,193.20 L631.20,193.20 L631.45,193.20 L631.70,193.20 L631.95,193.20 L632.20,193.20 L632.45,193.20 L632.70,193.20 L632.95,193.20 L633.20,193.20 L633.45,193.20 L633.70,193.20 L633.95,193.20 L634.20,193.20 L634.45,193.20 L634.70,193.20 L634.95,193.20 L635.20,193.20 L635.45,193.20 L635.70,193.20 L635.95,193.20 L636.20,193.20 L636.45,193.20 L636.70,193.20 L636.95,193.20 L637.20,193.20 L637.45,193.20 L637.70,193.20 L637.95,193.20 L638.20,193.20 L638.45,193.20 L638.70,193.20 L638.95,193.20 L639.20,193.20 L639.45,193.20 L639.70,193.20 L639.95,193.20 L640.20,193.20 L640.45,193.20 L640.70,193.20 L640.95,193.20 L641.20,193.20 L641.45,193.20 L641.70,193.20 L641.95,193.20 L642.20,193.20 L642.45,193.20 L642.70,193.20 L642.95,193.20 L643.20,193.20 L643.45,193.20 L643.70,193.20 L643.95,193.20 L644.20,193.20 L644.45,193.20 L644.70,193.20 L644.95,193.20 L645.20,193.20 L645.45,193.20 L645.70,193.20 L645.95,193.20 L646.20,193.20 L646.45,193.20 L646.70,193.20 L646.95,193.20 L647.20,193.20 L647.45,193.20 L647.70,193.20 L647.95,193.20 L648.20,193.20 L648.45,193.20 L648.70,193.20 L648.95,193.20 L649.20,193.20 L649.45,193.20 L649.70,193.20 L649.95,193.20 L650.20,193.20 L650.45,193.20 L650.70,193.20 L650.95,193.20 L651.20,193.20 L651.45,193.20 L651.70,193.20 L651.95,193.20 L652.20,193.20 L652.45,193.20 L652.70,193.20 L652.95,193.20 L653.20,193.20 L653.45,193.20 L653.70,193.20 L653.95,193.20 L654.20,193.20 L654.45,193.20 L654.70,193.20 L654.95,193.20 L655.20,193.20 L655.45,193.20 L655.70,193.20 L655.95,193.20 L656.20,193.20 L656.45,193.20 L656.70,193.20 L656.95,193.20 L657.20,193.20 L657.45,193.20 L657.70,193.20 L657.95,193.20 L658.20,193.20 L658.45,193.20 L658.70,193.20 L658.95,193.20 L659.20,193.20 L659.45,193.20 L659.70,193.20 L659.95,193.20 L660.20,193.20 L660.45,193.20 L660.70,193.20 L660.95,193.20 L661.20,193.20 L661.45,193.20 L661.70,193.20 L661.95,193.20 L662.20,193.20 L662.45,193.20 L662.70,193.20 L662.95,193.20 L663.20,193.20 L663.45,193.20 L663.70,193.20 L663.95,193.20 L664.20,193.20 L664.45,193.20 L664.70,193.20 L664.95,193.20 L665.20,193.20 L665.45,193.20 L665.70,193.20 L665.95,193.20 L666.20,193.20 L666.45,193.20 L666.70,193.20 L666.95,193.20 L667.20,193.20 L667.45,193.20 L667.70,193.20 L667.95,193.20 L668.20,193.20 L668.45,193.20 L668.70,193.20 L668.95,193.20 L669.20,193.20 L669.45,193.20 L669.70,193.20 L669.95,193.20 L670.20,193.20 L670.45,193.20 L670.70,193.20 L670.95,193.20 L671.20,193.20 L671.45,193.20 L671.70,193.20 L671.95,193.20 L672.20,193.20 L672.45,193.20 L672.70,193.20 L672.95,193.20 L673.20,193.20 L673.45,193.20 L673.70,193.20 L673.95,193.20 L674.20,193.20 L674.45,193.20 L674.50,193.20" stroke="#ffa500" stroke-width="5" fill="none" stroke-linejoin="round"/>
<path d="M88.70,193.20 L88.95,193.20 L89.20,193.20 L89.45,193.20 L89.70,193.20 L89.95,193.20 L90.20,193.20 L90.45,193.20 L90.70,193.20 L90.95,193.20 L91.20,193.20 L91.45,193.20 L91.70,193.20 L91.95,193.20 L92.20,193.20 L92.45,193.20 L92.70,193.20 L92.95,193.20 L93.20,193.20 L93.45,193.20 L93.70,193.20 L93.95,193.20 L94.20,193.20 L94.45,193.20 L94.70,193.20 L94.95,193.20 L95.20,193.20 L95.45,193.20 L95.70,193.20 L95.95,193.20 L96.20,193.20 L96.45,193.20 L96.70,193.20 L96.95,193.20 L97.20,193.20 L97.45,193.20 L97.70,193.20 L97.95,193.20 L98.20,193.20 L98.45,193.20 L98.70,193.20 L98.95,193.20 L99.20,193.20 L99.45,193.20 L99.70,193.20 L99.95,193.20 L100.20,193.20 L100.45,193.20 L100.70,193.20 L100.95,193.20 L101.20,193.20 L101.45,193.20 L101.70,193.20 L101.95,193.20 L102.20,193.20 L102.45,193.20 L102.70,193.20 L102.95,193.20 L103.20,193.20 L103.45,193.20 L103.70,193.20 L103.95,193.20 L104.20,193.20 L104.45,193.20 L104.70,193.20 L104.95,193.20 L105.20,193.20 L105.45,193.20 L105.70,193.20 L105.95,193.20 L106.20,193.20 L106.45,193.20 L106.70,193.20 L106.95,193.20 L107.20,193.20 L107.45,193.20 L107.70,193.20 L107.95,193.20 L108.20,193.20 L108.45,193.20 L108.70,193.20 L108.95,193.20 L109.20,193.20 L109.45,193.20 L109.70,193.20 L109.95,193.20 L110.20,193.20 L110.45,193.20 L110.70,193.20 L110.95,193.20 L111.20,193.20 L111.45,193.20 L111.70,193.20 L111.95,193.20 L112.20,193.20 L112.45,193.20 L112.70,193.20 L112.95,193.20 L113.20,193.20 L113.45,193.20 L113.70,193.20 L113.95,193.20 L114.20,193.20 L114.45,193.20 L114.70,193.20 L114.95,193.20 L115.20,193.20 L115.45,193.20 L115.70,193.20 L115.95,193.20 L116.20,193.20 L116.45,193.20 L116.70,193.20 L116.95,193.20 L117.20,193.20 L117.45,193.20 L117.70,193.20 L117.95,193.20 L118.20,193.20 L118.45,193.20 L118.70,193.20 L118.95,193.20 L119.20,193.20 L119.45,193.20 L119.70,193.20 L119.95,193.20 L120.20,193.20 L120.45,193.20 L120.70,193.20 L120.95,193.20 L121.20,193.20 L121.45,193.20 L121.70,193.20 L121.95,193.20 L122.20,193.20 L122.45,193.20 L122.70,193.20 L122.95,193.20 L123.20,193.20 L123.45,193.20 L123.70,193.20 L123.95,193.20 L124.20,193.20 L124.45,193.20 L124.70,193.20 L124.95,193.20 L125.20,193.20 L125.45,193.20 L125.70,193.20 L125.95,193.20 L126.20,193.20 L126.45,193.20 L126.70,193.20 L126.95,193.20 L127.20,193.20 L127.45,193.20 L127.70,193.20 L127.95,193.20 L128.20,193.20 L128.45,193.20 L128.70,193.20 L128.95,193.20 L129.20,193.20 L129.45,193.20 L129.70,193.20 L129.95,193.20 L130.20,193.20 L130.45,193.20 L130.70,193.20 L130.95,193.20 L131.20,193.20 L131.45,193.20 L131.70,193.20 L131.95,193.20 L132.20,193.20 L132.45,193.20 L132.70,193.20 L132.95,193.20 L133.20,193.20 L133.45,193.20 L133.70,193.20 L133.95,193.20 L134.20,193.20 L134.45,193.20 L134.70,193.20 L134.95,193.20 L135.20,193.20 L135.45,193.20 L135.70,193.20 L135.95,193.20 L136.20,193.20 L136.45,193.20 L136.70,193.20 L136.95,193.20 L137.20,193.20 L137.45,193.20 L137.70,193.19 L137.95,193.17 L138.20,193.12 L138.45,193.05 L138.70,192.90 L138.95,192.17 L139.20,190.87 L139.45,189.06 L139.70,184.87 L139.95,178.24 L140.20,170.30 L140.45,158.93 L140.70,146.20 L140.95,135.70 L141.20,125.94 L141.45,116.86 L141.70,108.49 L141.95,99.93 L142.20,90.12 L142.45,79.72 L142.70,70.73 L142.95,62.92 L143.20,55.70 L143.45,48.68 L143.70,41.17 L143.95,34.16 L144.20,29.20 L144.45,25.88 L144.70,22.94 L144.95,20.71 L145.20,19.52 L145.45,19.59 L145.70,20.68 L145.95,22.52 L146.20,24.89 L146.45,27.56 L146.70,30.41 L146.95,34.37 L147.20,39.26 L147.45,44.66 L147.70,50.10 L147.95,55.58 L148.20,61.41 L148.45,67.58 L148.70,74.10 L148.95,81.22 L149.20,88.87 L149.45,96.59 L149.70,104.29 L149.95,112.16 L150.20,119.54 L150.45,125.89 L150.70,131.52 L150.95,136.78 L151.20,141.94 L151.45,147.30 L151.70,153.01 L151.95,158.82 L152.20,164.39 L152.45,169.39 L152.70,173.81 L152.95,178.04 L153.20,181.98 L153.45,185.50 L153.70,188.48 L153.95,190.92 L154.20,193.17 L154.45,195.23 L154.70,197.07 L154.95,198.65 L155.20,199.93 L155.45,200.86 L155.70,201.66 L155.95,202.43 L156.20,203.14 L156.45,203.78 L156.70,204.35 L156.95,204.83 L157.20,205.20 L157.45,205.46 L157.70,205.59 L157.95,205.59 L158.20,205.56 L158.45,205.50 L158.70,205.42 L158.95,205.32 L159.20,205.21 L159.45,205.08 L159.70,204.96 L159.95,204.83 L160.20,204.70 L160.45,204.56 L160.70,204.41 L160.95,204.24 L161.20,204.04 L161.45,203.84 L161.70,203.62 L161.95,203.40 L162.20,203.17 L162.45,202.93 L162.70,202.68 L162.95,202.44 L163.20,202.20 L163.45,201.96 L163.70,201.73 L163.95,201.51 L164.20,201.29 L164.45,201.09 L164.70,200.90 L164.95,200.73 L165.20,200.57 L165.45,200.42 L165.70,200.26 L165.95,200.11 L166.20,199.96 L166.45,199.81 L166.70,199.67 L166.95,199.53 L167.20,199.38 L167.45,199.25 L167.70,199.11 L167.95,198.98 L168.20,198.85 L168.45,198.72 L168.70,198.60 L168.95,198.48 L169.20,198.36 L169.45,198.25 L169.70,198.14 L169.95,198.03 L170.20,197.93 L170.45,197.83 L170.70,197.74 L170.95,197.65 L171.20,197.57 L171.45,197.48 L171.70,197.41 L171.95,197.33 L172.20,197.25 L172.45,197.18 L172.70,197.11 L172.95,197.03 L173.20,196.96 L173.45,196.90 L173.70,196.83 L173.95,196.77 L174.20,196.70 L174.45,196.64 L174.70,196.58 L174.95,196.52 L175.70,196.35 L176.70,196.12 L177.70,195.98 L178.70,195.82 L179.70,195.56 L180.70,195.70 L181.70,195.77 L182.70,195.86 L183.70,195.55 L184.70,195.24 L185.70,195.08 L186.70,194.73 L187.70,195.22 L188.70,194.88 L189.70,194.51 L190.70,194.75 L191.70,195.42 L192.70,195.21 L193.70,194.50 L194.70,194.35 L195.70,194.91 L196.70,194.79 L197.70,194.33 L198.70,194.42 L199.70,194.97 L200.70,195.78 L201.70,194.39 L202.70,193.96 L203.70,193.98 L204.70,193.06 L205.70,193.45 L206.70,193.69 L207.70,194.76 L208.70,194.54 L209.70,193.44 L210.70,194.25 L211.70,194.19 L212.70,193.20 L213.70,193.45 L214.70,193.67 L215.70,193.48 L216.70,193.85 L217.70,192.82 L218.70,193.30 L219.70,194.37 L220.70,194.54 L221.70,194.59 L222.70,194.61 L223.70,194.77 L224.70,193.45 L225.70,193.86 L226.70,192.85 L227.70,192.87 L228.70,192.44 L229.70,193.68 L230.70,194.47 L231.70,193.70 L232.70,194.37 L233.70,193.51 L234.70,193.37 L235.70,193.53 L236.70,192.87 L237.70,193.37 L238.70,194.48 L239.70,193.24 L240.70,193.57 L241.70,193.44 L242.70,194.20 L243.70,193.96 L244.70,193.76 L245.70,193.79 L246.70,193.57 L247.70,192.62 L248.70,193.71 L249.70,192.89 L250.70,193.11 L251.70,193.67 L252.70,192.99 L253.70,193.18 L254.70,193.94 L255.70,193.54 L256.70,192.82 L257.70,191.56 L258.70,192.12 L259.70,192.76 L260.70,192.88 L261.70,192.67 L262.70,193.27 L263.70,193.07 L264.70,193.10 L265.70,193.62 L266.70,192.99 L267.70,192.93 L268.70,194.35 L269.70,194.23 L270.70,192.80 L271.70,192.95 L272.70,193.56 L273.70,194.05 L274.70,193.63 L275.70,193.03 L276.70,192.77 L277.70,193.45 L278.70,193.58 L279.70,193.07 L280.70,193.06 L281.70,193.01 L282.70,193.56 L283.70,193.07 L284.70,193.37 L285.70,193.83 L286.70,193.72 L287.70,192.94 L288.70,193.79 L289.70,193.22 L290.70,193.34 L291.70,192.97 L292.70,192.18 L293.70,192.99 L294.70,193.47 L295.70,193.29 L296.70,193.39 L297.70,192.99 L298.70,192.73 L299.70,193.01 L300.70,194.23 L301.70,194.12 L302.70,193.17 L303.70,193.44 L304.70,193.14 L305.70,192.91 L306.70,193.61 L307.70,193.18 L308.70,192.26 L309.70,192.41 L310.70,193.10 L311.70,193.35 L312.70,193.94 L313.70,193.16 L314.70,193.48 L315.70,193.65 L316.70,193.28 L317.70,193.66 L318.70,193.71 L319.70,192.92 L320.70,193.63 L321.70,192.86 L322.70,193.01 L323.70,193.27 L324.70,193.48 L325.70,192.97 L326.70,193.08 L327.70,193.17 L328.70,193.75 L329.70,193.06 L330.70,193.12 L331.70,193.13 L332.70,192.52 L333.70,194.37 L334.70,193.82 L335.70,192.46 L336.70,193.66 L337.70,193.01 L338.70,193.21 L339.70,193.79 L340.70,193.11 L341.70,192.88 L342.70,192.87 L343.70,193.06 L344.70,192.37 L345.70,192.24 L346.70,192.90 L347.70,193.77 L348.70,193.82 L349.70,194.30 L350.70,194.01 L351.70,193.14 L352.70,193.07 L353.70,192.16 L354.70,192.29 L355.70,192.50 L356.70,193.16 L357.70,193.65 L358.70,193.10 L359.70,192.82 L360.70,192.31 L361.70,192.84 L362.70,193.35 L363.70,193.54 L364.70,192.94 L365.70,194.12 L366.70,194.33 L367.70,193.47 L368.70,192.95 L369.70,192.96 L370.70,193.26 L371.70,193.28 L372.70,193.50 L373.70,193.76 L374.70,194.14 L375.70,194.16 L376.70,193.45 L377.70,193.43 L378.70,193.13 L379.70,192.86 L380.70,194.12 L381.70,193.44 L382.70,194.19 L383.70,193.52 L384.70,193.30 L385.70,193.88 L386.70,193.51 L387.70,193.46 L388.70,193.21 L389.70,192.95 L390.70,193.06 L391.70,192.87 L392.70,193.96 L393.70,193.53 L394.70,194.12 L395.70,192.23 L396.70,192.66 L397.70,193.55 L398.70,193.22 L399.70,193.76 L400.70,193.83 L401.70,193.25 L402.70,193.42 L403.70,194.82 L404.70,194.01 L405.70,193.46 L406.70,193.09 L407.70,193.22 L408.70,192.60 L409.70,192.86 L410.70,194.49 L411.70,194.36 L412.70,193.83 L413.70,193.97 L414.70,194.49 L415.70,193.98 L416.70,194.47 L417.70,194.28 L418.70,193.58 L419.70,194.19 L420.70,192.40 L421.70,192.42 L422.70,193.26 L423.70,192.83 L424.70,192.96 L425.70,192.88 L426.70,192.76 L427.70,194.52 L428.70,194.19 L429.70,193.36 L430.70,193.93 L431.70,193.42 L432.70,193.66 L433.70,193.63 L434.70,194.18 L435.70,192.87 L436.70,193.33 L437.70,193.48 L438.70,192.67 L439.70,193.55 L440.70,193.03 L441.70,193.90 L442.70,193.88 L443.70,193.73 L444.70,193.44 L445.70,193.74 L446.70,192.47 L447.70,192.87 L448.70,192.93 L449.70,193.25 L450.70,193.28 L451.70,193.56 L452.70,192.94 L453.70,194.02 L454.70,194.87 L455.70,193.66 L456.70,193.19 L457.70,193.39 L458.70,193.97 L459.70,194.52 L460.70,193.04 L461.70,192.65 L462.70,192.55 L463.70,192.42 L464.70,192.13 L465.70,193.06 L466.70,192.71 L467.70,193.77 L468.70,194.06 L469.70,192.90 L470.70,192.47 L471.70,192.69 L472.70,193.84 L473.70,193.11 L474.70,192.26 L475.70,192.88 L476.70,193.42 L477.70,192.98 L478.70,193.94 L479.70,193.73 L480.70,193.53 L481.70,192.89 L482.70,193.02 L483.70,193.14 L484.70,192.01 L485.70,192.87 L486.70,192.36 L487.70,192.82 L488.70,192.45 L489.70,193.96 L490.70,193.86 L491.70,193.76 L492.70,193.91 L493.70,192.74 L494.70,191.74 L495.70,192.54 L496.70,193.63 L497.70,193.48 L498.70,193.66 L499.70,193.90 L500.70,192.66 L501.70,193.04 L502.70,194.32 L503.70,193.37 L504.70,192.03 L505.70,192.65 L506.70,192.93 L507.70,193.34 L508.70,192.85 L509.70,193.07 L510.70,192.08 L511.70,193.17 L512.70,194.25 L513.70,194.26 L514.70,192.72 L515.70,193.05 L516.70,191.72 L517.70,192.70 L518.70,193.25 L519.70,192.68 L520.70,193.17 L521.70,193.37 L522.70,193.74 L523.70,193.49 L524.70,193.36 L525.70,192.24 L526.70,192.16 L527.70,192.70 L528.70,193.26 L529.70,193.27 L530.70,193.99 L531.70,193.09 L532.70,192.88 L533.70,193.29 L534.70,193.14 L535.70,193.41 L536.70,193.01 L537.70,193.82 L538.70,193.35 L539.70,193.71 L540.70,193.43 L541.70,193.97 L542.70,192.78 L543.70,193.13 L544.70,193.04 L545.70,193.16 L546.70,193.79 L547.70,192.75 L548.70,192.10 L549.70,192.20 L550.70,192.90 L551.70,192.02 L552.70,192.54 L553.70,192.22 L554.70,191.94 L555.70,192.34 L556.70,192.86 L557.70,192.46 L558.70,192.26 L559.70,192.48 L560.70,192.41 L561.70,191.04 L562.70,191.62 L563.70,192.33 L564.70,192.90 L565.70,193.54 L566.70,192.95 L567.70,192.24 L568.70,191.46 L569.70,191.68 L570.70,192.18 L571.70,192.49 L572.70,191.36 L573.70,191.36 L574.70,191.81 L575.70,192.39 L576.70,191.68 L577.70,190.81 L578.70,190.49 L579.70,190.52 L580.70,190.36 L581.70,190.75 L582.70,190.87 L583.70,190.59 L584.70,190.44 L585.70,189.86 L586.70,189.61 L587.70,189.21 L588.70,188.85 L589.70,188.53 L590.20,188.20 L590.45,188.08 L590.70,187.96 L590.95,187.83 L591.20,187.70 L591.45,187.57 L591.70,187.43 L591.95,187.28 L592.20,187.11 L592.45,186.92 L592.70,186.73 L592.95,186.53 L593.20,186.32 L593.45,186.10 L593.70,185.88 L593.95,185.64 L594.20,185.41 L594.45,185.17 L594.70,184.93 L594.95,184.69 L595.20,184.45 L595.45,184.21 L595.70,183.97 L595.95,183.73 L596.20,183.50 L596.45,183.27 L596.70,183.05 L596.95,182.84 L597.20,182.63 L597.45,182.41 L597.70,182.19 L597.95,181.96 L598.20,181.72 L598.45,181.49 L598.70,181.26 L598.95,181.03 L599.20,180.81 L599.45,180.60 L599.70,180.40 L599.95,180.21 L600.20,180.03 L600.45,179.87 L600.70,179.74 L600.95,179.62 L601.20,179.52 L601.45,179.42 L601.70,179.32 L601.95,179.23 L602.20,179.14 L602.45,179.06 L602.70,178.98 L602.95,178.92 L603.20,178.87 L603.45,178.83 L603.70,178.81 L603.95,178.80 L604.20,178.86 L604.45,178.98 L604.70,179.18 L604.95,179.43 L605.20,179.74 L605.45,180.10 L605.70,180.49 L605.95,180.93 L606.20,181.41 L606.45,182.18 L606.70,183.22 L606.95,184.50 L607.20,185.96 L607.45,187.54 L607.70,189.20 L607.95,191.11 L608.20,193.40 L608.45,195.96 L608.70,198.68 L608.95,201.45 L609.20,204.19 L609.45,206.97 L609.70,209.90 L609.95,213.07 L610.20,216.58 L610.45,220.57 L610.70,225.26 L610.95,230.60 L611.20,236.64 L611.45,243.93 L611.70,251.87 L611.95,259.62 L612.20,267.45 L612.45,275.21 L612.70,282.20 L612.95,288.21 L613.20,293.65 L613.45,298.84 L613.70,304.05 L613.95,309.51 L614.20,315.13 L614.45,320.72 L614.70,326.16 L614.95,331.31 L615.20,336.40 L615.45,341.44 L615.70,346.23 L615.95,350.58 L616.20,354.30 L616.45,357.79 L616.70,361.32 L616.95,364.45 L617.20,366.77 L617.45,367.87 L617.70,367.25 L617.95,364.88 L618.20,361.29 L618.45,356.99 L618.70,352.23 L618.95,345.15 L619.20,336.76 L619.45,328.85 L619.70,322.46 L619.95,315.73 L620.20,306.20 L620.45,285.78 L620.70,271.60 L620.95,260.45 L621.20,247.85 L621.45,235.96 L621.70,227.90 L621.95,221.58 L622.20,215.73 L622.45,209.71 L622.70,204.58 L622.95,201.59 L623.20,199.73 L623.45,198.20 L623.70,197.00 L623.95,196.13 L624.20,195.60 L624.45,195.27 L624.70,194.97 L624.95,194.71 L625.20,194.47 L625.45,194.27 L625.70,194.10 L625.95,193.95 L626.20,193.83 L626.45,193.73 L626.70,193.65 L626.95,193.59 L627.20,193.53 L627.45,193.48 L627.70,193.44 L627.95,193.39 L628.20,193.35 L628.45,193.31 L628.70,193.28 L628.95,193.25 L629.20,193.23 L629.45,193.22 L629.70,193.20 L629.95,193.20 L630.20,193.20 L630.45,193.20 L630.70,193.20 L630.95,193.20 L631.20,193.20 L631.45,193.20 L631.70,193.20 L631.95,193.20 L632.20,193.20 L632.45,193.20 L632.70,193.20 L632.95,193.20 L633.20,193.20 L633.45,193.20 L633.70,193.20 L633.95,193.20 L634.20,193.20 L634.45,193.20 L634.70,193.20 L634.95,193.20 L635.20,193.20 L635.45,193.20 L635.70,193.20 L635.95,193.20 L636.20,193.20 L636.45,193.20 L636.70,193.20 L636.95,193.20 L637.20,193.20 L637.45,193.20 L637.70,193.20 L637.95,193.20 L638.20,193.20 L638.45,193.20 L638.70,193.20 L638.95,193.20 L639.20,193.20 L639.45,193.20 L639.70,193.20 L639.95,193.20 L640.20,193.20 L640.45,193.20 L640.70,193.20 L640.95,193.20 L641.20,193.20 L641.45,193.20 L641.70,193.20 L641.95,193.20 L642.20,193.20 L642.45,193.20 L642.70,193.20 L642.95,193.20 L643.20,193.20 L643.45,193.20 L643.70,193.20 L643.95,193.20 L644.20,193.20 L644.45,193.20 L644.70,193.20 L644.95,193.20 L645.20,193.20 L645.45,193.20 L645.70,193.20 L645.95,193.20 L646.20,193.20 L646.45,193.20 L646.70,193.20 L646.95,193.20 L647.20,193.20 L647.45,193.20 L647.70,193.20 L647.95,193.20 L648.20,193.20 L648.45,193.20 L648.70,193.20 L648.95,193.20 L649.20,193.20 L649.45,193.20 L649.70,193.20 L649.95,193.20 L650.20,193.20 L650.45,193.20 L650.70,193.20 L650.95,193.20 L651.20,193.20 L651.45,193.20 L651.70,193.20 L651.95,193.20 L652.20,193.20 L652.45,193.20 L652.70,193.20 L652.95,193.20 L653.20,193.20 L653.45,193.20 L653.70,193.20 L653.95,193.20 L654.20,193.20 L654.45,193.20 L654.70,193.20 L654.95,193.20 L655.20,193.20 L655.45,193.20 L655.70,193.20 L655.95,193.20 L656.20,193.20 L656.45,193.20 L656.70,193.20 L656.95,193.20 L657.20,193.20 L657.45,193.20 L657.70,193.20 L657.95,193.20 L658.20,193.20 L658.45,193.20 L658.70,193.20 L658.95,193.20 L659.20,193.20 L659.45,193.20 L659.70,193.20 L659.95,193.20 L660.20,193.20 L660.45,193.20 L660.70,193.20 L660.95,193.20 L661.20,193.20 L661.45,193.20 L661.70,193.20 L661.95,193.20 L662.20,193.20 L662.45,193.20 L662.70,193.20 L662.95,193.20 L663.20,193.20 L663.45,193.20 L663.70,193.20 L663.95,193.20 L664.20,193.20 L664.45,193.20 L664.70,193.20 L664.95,193.20 L665.20,193.20 L665.45,193.20 L665.70,193.20 L665.95,193.20 L666.20,193.20 L666.45,193.20 L666.70,193.20 L666.95,193.20 L667.20,193.20 L667.45,193.20 L667.70,193.20 L667.95,193.20 L668.20,193.20 L668.45,193.20 L668.70,193.20 L668.95,193.20 L669.20,193.20 L669.45,193.20 L669.70,193.20 L669.95,193.20 L670.20,193.20 L670.45,193.20 L670.70,193.20 L670.95,193.20 L671.20,193.20 L671.45,193.20 L671.70,193.20 L671.95,193.20 L672.20,193.20 L672.45,193.20 L672.70,193.20 L672.95,193.20 L673.20,193.20 L673.45,193.20 L673.70,193.20 L673.95,193.20 L674.20,193.20 L674.45,193.20 L674.50,193.20" stroke="#0000ff" stroke-width="5" fill="none" stroke-dasharray="5 5" stroke-linejoin="round"/>
</g>
<path d="M264,135.7L352.31,195.76M499,135.7L410.89,195.76" stroke="#000" stroke-opacity="0.5" stroke-width="2.4" fill="none"/>
<rect x="352.31" y="189.99" width="58.58" height="5.77" stroke="#000" stroke-width="2" fill="none" stroke-opacity="0.5"/>
<rect x="88.70" y="1.00" width="585.80" height="385.40" stroke="#000" stroke-width="2" fill="none"/><path d="M80.00,321.40H88.70M80.00,257.30H88.70M80.00,193.20H88.70M80.00,129.10H88.70M80.00,65.00H88.70M88.70,386.40V395.10M205.86,386.40V395.10M323.02,386.40V395.10M440.18,386.40V395.10M557.34,386.40V395.10M674.50,386.40V395.10" stroke="#000" stroke-width="2" fill="none"/><text x="48.20" y="330.10" font-family='"Liberation Serif", serif' font-size="23.5" fill="#000" >10</text><rect x="33.06" y="323.25" width="13.6" height="1.5" fill="#000"/><text x="59.97" y="266.00" font-family='"Liberation Serif", serif' font-size="23.5" fill="#000" >5</text><rect x="44.13" y="259.15" width="13.6" height="1.5" fill="#000"/><text x="59.95" y="201.90" font-family='"Liberation Serif", serif' font-size="23.5" fill="#000" >0</text><text x="59.97" y="137.80" font-family='"Liberation Serif", serif' font-size="23.5" fill="#000" >5</text><text x="48.20" y="73.70" font-family='"Liberation Serif", serif' font-size="23.5" fill="#000" >10</text>
<path d="M108.90,29.50A18.04,18.04 0 0 0 108.90,60.00L108.26,59.04A22.37,22.37 0 0 1 108.26,30.46Z" fill="#000"/>
<text transform="translate(110.32,52.00) scale(1.12,1)" font-family='"Liberation Serif", serif' font-size="30" font-weight="bold" fill="#000" >a</text>
<path d="M128.20,29.50A18.04,18.04 0 0 1 128.20,60.00L128.84,59.04A22.37,22.37 0 0 0 128.84,30.46Z" fill="#000"/>
<rect x="211.6" y="275.7" width="340" height="96.8" rx="5.5" ry="5.5" fill="#fff" fill-opacity="0.8" stroke="#d6d6d6" stroke-width="2"/>
<path d="M219.9,303H280.1" stroke="#0000ff" stroke-width="5.2"/>
<path d="M223.45,314.70L228.75,314.70M233.95,314.70L239.25,314.70M244.45,314.70L249.75,314.70M254.95,314.70L260.25,314.70M265.35,314.70L270.65,314.70" stroke="blue" stroke-width="5.3" fill="none" stroke-linecap="butt"/>
<path d="M219.9,345.1H280.1" stroke="#ffa500" stroke-width="5"/>
<rect x="264" y="13.2" width="235" height="122.5" fill="#fff"/>
<g clip-path="url(#clipi)">
<path d="M263.00,50.00 L265.11,55.62 L267.30,105.80 L270.04,73.87 L272.41,72.96 L274.60,81.17 L277.34,88.47 L279.16,68.39 L281.90,90.29 L284.09,106.72 L286.46,57.45 L288.83,51.97 L291.02,73.87 L293.76,97.59 L295.95,128.61 L298.32,95.77 L300.51,62.01 L302.88,72.04 L305.26,64.74 L307.81,65.66 L310.18,72.04 L312.92,101.24 L314.74,111.28 L316.93,62.01 L319.31,72.04 L321.50,70.22 L323.87,63.83 L326.06,79.34 L328.80,104.89 L331.53,103.07 L333.91,93.94 L335.73,97.59 L338.47,87.55 L340.29,79.34 L343.03,95.77 L345.22,88.47 L347.59,102.15 L350.33,84.82 L352.15,72.96 L353.98,75.69 L356.72,46.50 L359.09,20.95 L361.28,55.62 L363.65,103.07 L365.84,77.52 L368.21,76.61 L370.95,51.06 L373.14,92.12 L375.51,118.58 L376.82,77.52 L379.56,76.61 L382.30,94.85 L385.04,85.73 L386.86,72.96 L389.60,93.94 L391.79,75.69 L394.16,90.29 L396.53,82.99 L399.09,60.18 L402.01,86.64 L404.20,97.59 L406.39,115.84 L408.39,86.64 L410.58,101.24 L413.32,109.45 L415.15,74.78 L417.88,72.04 L420.07,52.88 L422.81,59.27 L425.18,86.64 L427.37,106.72 L429.74,82.99 L433.39,70.22 L436.50,45.58 L438.87,79.34 L441.24,118.58 L443.98,88.47 L446.53,64.74 L448.36,56.53 L450.73,75.69 L453.10,97.59 L455.29,96.68 L457.48,54.71 L459.85,47.41 L462.23,81.17 L464.78,105.80 L467.15,93.94 L469.34,66.57 L471.72,62.92 L474.45,70.22 L476.28,99.42 L478.47,96.68 L480.84,72.04 L483.58,106.72 L485.77,101.24 L488.14,48.32 L490.88,62.92 L492.70,114.01 L494.53,64.74 L497.63,30.07" stroke="#0000ff" stroke-width="5" fill="none" stroke-linejoin="round"/>
<path d="M264,81H499" stroke="#ffa500" stroke-width="5"/>
</g>
<rect x="264" y="13.2" width="235" height="122.5" stroke="#000" stroke-width="2" fill="none"/>
<path d="M255.6,135.70H264M255.6,108.35H264M255.6,81.00H264M255.6,53.65H264M255.6,26.30H264M287.80,135.7V143.5M334.60,135.7V143.5M381.40,135.7V143.5M428.20,135.7V143.5M475.00,135.7V143.5" stroke="#000" stroke-width="2" fill="none"/>
<text x="224.29" y="32.50" font-family='"Liberation Sans", sans-serif' font-size="16.5" fill="#000" >0.2</text>
<text x="224.11" y="87.00" font-family='"Liberation Sans", sans-serif' font-size="16.5" fill="#000" >0.0</text>
<text x="224.29" y="141.50" font-family='"Liberation Sans", sans-serif' font-size="16.5" fill="#000" >0.2</text>
<rect x="217.1" y="136.9" width="4.8" height="1.5" fill="#000"/>
<text x="323.30" y="165.80" font-family='"Liberation Sans", sans-serif' font-size="16.5" fill="#000" >4.8</text>
<text x="370.12" y="165.80" font-family='"Liberation Sans", sans-serif' font-size="16.5" fill="#000" >5.0</text>
<text x="417.02" y="165.80" font-family='"Liberation Sans", sans-serif' font-size="16.5" fill="#000" >5.2</text>
<path d="M88.70,409.80V794.70M205.86,409.80V794.70M323.02,409.80V794.70M440.18,409.80V794.70M557.34,409.80V794.70M674.50,409.80V794.70M88.70,768.50H674.50M88.70,713.05H674.50M88.70,657.60H674.50M88.70,602.15H674.50M88.70,546.70H674.50M88.70,491.25H674.50M88.70,435.80H674.50" stroke="#b0b0b0" stroke-width="2" fill="none"/>
<g clip-path="url(#clipb)">
<path d="M88.70,602.20 L88.95,602.20 L89.20,602.20 L89.45,602.20 L89.70,602.20 L89.95,602.20 L90.20,602.20 L90.45,602.20 L90.70,602.20 L90.95,602.20 L91.20,602.20 L91.45,602.20 L91.70,602.20 L91.95,602.20 L92.20,602.20 L92.45,602.20 L92.70,602.20 L92.95,602.20 L93.20,602.20 L93.45,602.20 L93.70,602.20 L93.95,602.20 L94.20,602.20 L94.45,602.20 L94.70,602.20 L94.95,602.20 L95.20,602.20 L95.45,602.20 L95.70,602.20 L95.95,602.20 L96.20,602.20 L96.45,602.20 L96.70,602.20 L96.95,602.20 L97.20,602.20 L97.45,602.20 L97.70,602.20 L97.95,602.20 L98.20,602.20 L98.45,602.20 L98.70,602.20 L98.95,602.20 L99.20,602.20 L99.45,602.20 L99.70,602.20 L99.95,602.20 L100.20,602.20 L100.45,602.20 L100.70,602.20 L100.95,602.20 L101.20,602.20 L101.45,602.20 L101.70,602.20 L101.95,602.20 L102.20,602.20 L102.45,602.20 L102.70,602.20 L102.95,602.20 L103.20,602.20 L103.45,602.20 L103.70,602.20 L103.95,602.20 L104.20,602.20 L104.45,602.20 L104.70,602.20 L104.95,602.20 L105.20,602.20 L105.45,602.20 L105.70,602.20 L105.95,602.20 L106.20,602.20 L106.45,602.20 L106.70,602.20 L106.95,602.20 L107.20,602.20 L107.45,602.20 L107.70,602.20 L107.95,602.20 L108.20,602.20 L108.45,602.20 L108.70,602.20 L108.95,602.20 L109.20,602.20 L109.45,602.20 L109.70,602.20 L109.95,602.20 L110.20,602.20 L110.45,602.20 L110.70,602.20 L110.95,602.20 L111.20,602.20 L111.45,602.20 L111.70,602.20 L111.95,602.20 L112.20,602.20 L112.45,602.20 L112.70,602.20 L112.95,602.20 L113.20,602.20 L113.45,602.20 L113.70,602.20 L113.95,602.20 L114.20,602.20 L114.45,602.20 L114.70,602.20 L114.95,602.20 L115.20,602.20 L115.45,602.20 L115.70,602.20 L115.95,602.20 L116.20,602.20 L116.45,602.20 L116.70,602.20 L116.95,602.20 L117.20,602.20 L117.45,602.20 L117.70,602.20 L117.95,602.20 L118.20,602.20 L118.45,602.20 L118.70,602.20 L118.95,602.20 L119.20,602.20 L119.45,602.20 L119.70,602.20 L119.95,602.20 L120.20,602.20 L120.45,602.20 L120.70,602.20 L120.95,602.20 L121.20,602.20 L121.45,602.20 L121.70,602.20 L121.95,602.20 L122.20,602.20 L122.45,602.20 L122.70,602.20 L122.95,602.20 L123.20,602.20 L123.45,602.20 L123.70,602.20 L123.95,602.20 L124.20,602.20 L124.45,602.20 L124.70,602.20 L124.95,602.20 L125.20,602.20 L125.45,602.20 L125.70,602.20 L125.95,602.20 L126.20,602.20 L126.45,602.20 L126.70,602.20 L126.95,602.20 L127.20,602.20 L127.45,602.20 L127.70,602.20 L127.95,602.20 L128.20,602.20 L128.45,602.20 L128.70,602.20 L128.95,602.20 L129.20,602.20 L129.45,602.20 L129.70,602.20 L129.95,602.20 L130.20,602.20 L130.45,602.20 L130.70,602.20 L130.95,602.20 L131.20,602.20 L131.45,602.20 L131.70,602.20 L131.95,602.20 L132.20,602.20 L132.45,602.20 L132.70,602.20 L132.95,602.20 L133.20,602.20 L133.45,602.20 L133.70,602.20 L133.95,602.20 L134.20,602.20 L134.45,602.20 L134.70,602.20 L134.95,602.20 L135.20,602.20 L135.45,602.20 L135.70,602.20 L135.95,602.20 L136.20,602.20 L136.45,602.20 L136.70,602.20 L136.95,602.20 L137.20,602.20 L137.45,602.20 L137.70,602.22 L137.95,602.29 L138.20,602.43 L138.45,602.61 L138.70,602.86 L138.95,603.15 L139.20,603.50 L139.45,603.91 L139.70,604.36 L139.95,604.86 L140.20,605.42 L140.45,606.02 L140.70,606.67 L140.95,607.36 L141.20,608.18 L141.45,609.77 L141.70,612.20 L141.95,615.32 L142.20,619.02 L142.45,623.15 L142.70,627.60 L142.95,632.23 L143.20,636.91 L143.45,641.53 L143.70,646.72 L143.95,652.64 L144.20,659.05 L144.45,665.74 L144.70,672.48 L144.95,679.04 L145.20,685.20 L145.45,690.81 L145.70,696.13 L145.95,701.27 L146.20,706.29 L146.45,711.29 L146.70,716.35 L146.95,721.54 L147.20,727.07 L147.45,733.09 L147.70,739.27 L147.95,745.28 L148.20,750.80 L148.45,755.51 L148.70,759.18 L148.95,762.67 L149.20,766.08 L149.45,769.25 L149.70,772.03 L149.95,774.26 L150.20,775.80 L150.45,776.48 L150.70,776.35 L150.95,775.76 L151.20,774.80 L151.45,773.53 L151.70,772.00 L151.95,770.29 L152.20,768.46 L152.45,766.56 L152.70,764.67 L152.95,762.85 L153.20,761.05 L153.45,759.09 L153.70,756.98 L153.95,754.74 L154.20,752.40 L154.45,749.98 L154.70,747.49 L154.95,744.96 L155.20,742.42 L155.45,739.88 L155.70,737.36 L155.95,734.89 L156.20,732.44 L156.45,729.93 L156.70,727.37 L156.95,724.78 L157.20,722.18 L157.45,719.58 L157.70,716.99 L157.95,714.44 L158.20,711.93 L158.45,709.49 L158.70,707.12 L158.95,704.83 L159.20,702.58 L159.45,700.36 L159.70,698.17 L159.95,696.01 L160.20,693.89 L160.45,691.81 L160.70,689.77 L160.95,687.77 L161.20,685.82 L161.45,683.92 L161.70,682.06 L161.95,680.22 L162.20,678.40 L162.45,676.60 L162.70,674.83 L162.95,673.09 L163.20,671.38 L163.45,669.72 L163.70,668.11 L163.95,666.55 L164.20,665.04 L164.45,663.60 L164.70,662.23 L164.95,660.92 L165.20,659.67 L165.45,658.45 L165.70,657.27 L165.95,656.12 L166.20,655.01 L166.45,653.92 L166.70,652.86 L166.95,651.82 L167.20,650.81 L167.45,649.81 L167.70,648.82 L167.95,647.84 L168.20,646.87 L168.45,645.90 L168.70,644.94 L168.95,643.97 L169.20,643.00 L169.45,642.03 L169.70,641.07 L169.95,640.12 L170.20,639.18 L170.45,638.26 L170.70,637.33 L170.95,636.42 L171.20,635.51 L171.45,634.62 L171.70,633.72 L171.95,632.84 L172.20,631.95 L172.45,631.08 L172.70,630.20 L172.95,629.33 L173.20,628.46 L173.45,627.60 L173.70,626.74 L173.95,625.87 L174.20,625.01 L174.45,624.15 L174.70,623.28 L174.95,622.42 L175.20,621.55 L175.45,620.69 L175.70,619.83 L175.95,618.97 L176.20,618.11 L176.45,617.25 L176.70,616.40 L176.95,615.54 L177.20,614.69 L177.45,613.85 L177.70,613.00 L177.95,612.15 L178.20,611.31 L178.45,610.47 L178.70,609.63 L178.95,608.80 L179.20,607.96 L179.45,607.13 L179.70,606.30 L179.95,605.47 L180.20,604.64 L180.45,603.81 L180.70,602.99 L180.95,602.16 L181.20,601.34 L181.45,600.52 L181.70,599.71 L181.95,598.89 L182.20,598.08 L182.45,597.27 L182.70,596.48 L182.95,595.69 L183.20,594.91 L183.45,594.14 L183.70,593.38 L183.95,592.61 L184.20,591.85 L184.45,591.10 L184.70,590.34 L184.95,589.58 L185.20,588.81 L185.45,588.05 L185.70,587.27 L185.95,586.50 L186.20,585.71 L186.45,584.91 L186.70,584.11 L186.95,583.29 L187.20,582.46 L187.45,581.61 L187.70,580.75 L187.95,579.88 L188.20,578.98 L188.45,578.07 L188.70,577.15 L188.95,576.21 L189.20,575.25 L189.45,574.28 L189.70,573.30 L189.95,572.31 L190.20,571.31 L190.45,570.30 L190.70,569.28 L190.95,568.25 L191.20,567.21 L191.45,566.17 L191.70,565.12 L191.95,564.07 L192.20,563.01 L192.45,561.95 L192.70,560.89 L192.95,559.82 L193.20,558.76 L193.45,557.69 L193.70,556.63 L193.95,555.55 L194.20,554.41 L194.45,553.22 L194.70,551.98 L194.95,550.70 L195.20,549.41 L195.45,548.10 L195.70,546.78 L195.95,545.48 L196.20,544.20 L196.45,542.94 L196.70,541.73 L196.95,540.57 L197.20,539.47 L197.45,538.45 L197.70,537.51 L197.95,536.67 L198.20,535.93 L198.45,535.31 L198.70,534.77 L198.95,534.23 L199.20,533.71 L199.45,533.22 L199.70,532.76 L199.95,532.36 L200.20,532.03 L200.45,531.79 L200.70,531.64 L200.95,531.60 L201.20,531.68 L201.45,531.88 L201.70,532.18 L201.95,532.57 L202.20,533.05 L202.45,533.61 L202.70,534.24 L202.95,534.93 L203.20,535.68 L203.45,536.48 L203.70,537.31 L203.95,538.18 L204.20,539.07 L204.45,539.99 L204.70,541.11 L204.95,542.49 L205.20,544.11 L205.45,545.92 L205.70,547.88 L205.95,549.97 L206.20,552.14 L206.45,554.35 L206.70,556.57 L206.95,558.77 L207.20,560.90 L207.45,563.05 L207.70,565.30 L207.95,567.65 L208.20,570.05 L208.45,572.50 L208.70,574.97 L208.95,577.44 L209.20,579.89 L209.45,582.29 L209.70,584.62 L209.95,586.87 L210.20,589.00 L210.45,591.08 L210.70,593.17 L210.95,595.27 L211.20,597.35 L211.45,599.41 L211.70,601.44 L211.95,603.41 L212.20,605.32 L212.45,607.16 L212.70,608.91 L212.95,610.57 L213.20,612.11 L213.45,613.52 L213.70,614.80 L213.95,616.00 L214.20,617.17 L214.45,618.33 L214.70,619.46 L214.95,620.56 L215.20,621.62 L215.45,622.66 L215.70,623.65 L215.95,624.61 L216.20,625.52 L216.45,626.39 L216.70,627.20 L216.95,627.97 L217.20,628.67 L217.45,629.32 L217.70,629.91 L217.95,630.43 L218.20,630.89 L218.45,631.27 L218.70,631.63 L218.95,631.98 L219.20,632.33 L219.45,632.67 L219.70,632.99 L219.95,633.30 L220.20,633.60 L220.45,633.89 L220.70,634.15 L220.95,634.40 L221.20,634.62 L221.45,634.83 L221.70,635.01 L221.95,635.16 L222.20,635.29 L222.45,635.39 L222.70,635.46 L222.95,635.49 L223.20,635.50 L223.45,635.46 L223.70,635.40 L223.95,635.30 L224.20,635.16 L224.45,635.00 L224.70,634.81 L224.95,634.59 L225.20,634.34 L225.45,634.07 L225.70,633.78 L225.95,633.47 L226.20,633.13 L226.45,632.78 L226.70,632.42 L226.95,632.03 L227.20,631.64 L227.45,631.23 L227.70,630.81 L227.95,630.39 L228.20,629.96 L228.45,629.52 L228.70,629.08 L228.95,628.63 L229.20,628.19 L229.45,627.74 L229.70,627.30 L229.95,626.86 L230.20,626.42 L230.45,625.95 L230.70,625.45 L230.95,624.90 L231.20,624.33 L231.45,623.72 L231.70,623.08 L231.95,622.42 L232.20,621.74 L232.45,621.03 L232.70,620.31 L232.95,619.57 L233.20,618.82 L233.45,618.06 L233.70,617.30 L233.95,616.53 L234.20,615.75 L234.45,614.98 L234.70,614.21 L234.95,613.44 L235.20,612.68 L235.45,611.94 L235.70,611.20 L235.95,610.49 L236.20,609.79 L236.45,609.11 L236.70,608.46 L236.95,607.83 L237.20,607.23 L237.45,606.66 L237.70,606.09 L237.95,605.52 L238.20,604.95 L238.45,604.38 L238.70,603.82 L238.95,603.26 L239.20,602.70 L239.45,602.14 L239.70,601.60 L239.95,601.05 L240.20,600.51 L240.45,599.98 L240.70,599.45 L240.95,598.93 L241.20,598.42 L241.45,597.92 L241.70,597.42 L241.95,596.94 L242.20,596.46 L242.45,596.00 L242.70,595.54 L242.95,595.10 L243.20,594.67 L243.45,594.25 L243.70,593.85 L243.95,593.46 L244.20,593.08 L244.45,592.72 L244.70,592.37 L244.95,592.03 L245.20,591.70 L245.45,591.36 L245.70,591.02 L245.95,590.68 L246.20,590.33 L246.45,589.99 L246.70,589.65 L246.95,589.31 L247.20,588.98 L247.45,588.66 L247.70,588.35 L247.95,588.04 L248.20,587.75 L248.45,587.48 L248.70,587.22 L248.95,586.98 L249.20,586.76 L249.45,586.56 L249.70,586.38 L249.95,586.23 L250.20,586.11 L250.45,586.01 L250.70,585.94 L250.95,585.91 L251.20,585.90 L251.45,585.90 L251.70,585.90 L251.95,585.90 L252.20,585.90 L252.45,585.90 L252.70,585.90 L252.95,585.90 L253.20,585.90 L253.45,585.90 L253.70,585.90 L253.95,585.90 L254.20,585.90 L254.45,585.90 L254.70,585.90 L254.95,585.90 L255.20,585.90 L255.45,585.90 L255.70,585.90 L255.95,585.90 L256.20,585.90 L256.45,585.90 L256.70,585.90 L256.95,585.90 L257.20,585.90 L257.45,585.91 L257.70,585.94 L257.95,585.99 L258.20,586.07 L258.45,586.18 L258.70,586.31 L258.95,586.45 L259.20,586.62 L259.45,586.80 L259.70,587.00 L259.95,587.21 L260.20,587.44 L260.45,587.67 L260.70,587.92 L260.95,588.18 L261.20,588.44 L261.45,588.70 L261.70,588.97 L261.95,589.25 L262.20,589.52 L262.45,589.79 L262.70,590.07 L262.95,590.33 L263.20,590.59 L263.45,590.85 L263.70,591.10 L263.95,591.37 L264.20,591.65 L264.45,591.94 L264.70,592.24 L264.95,592.54 L265.20,592.86 L265.45,593.19 L265.70,593.52 L265.95,593.86 L266.20,594.20 L266.45,594.55 L266.70,594.91 L266.95,595.26 L267.20,595.62 L267.45,595.99 L267.70,596.35 L267.95,596.72 L268.20,597.08 L268.45,597.44 L268.70,597.80 L268.95,598.16 L269.20,598.52 L269.45,598.87 L269.70,599.22 L269.95,599.56 L270.20,599.90 L270.45,600.23 L270.70,600.55 L270.95,600.86 L271.20,601.18 L271.45,601.50 L271.70,601.82 L271.95,602.15 L272.20,602.49 L272.45,602.82 L272.70,603.16 L272.95,603.50 L273.20,603.84 L273.45,604.18 L273.70,604.51 L273.95,604.85 L274.20,605.18 L274.45,605.50 L274.70,605.83 L274.95,606.14 L275.20,606.45 L275.45,606.76 L275.70,607.05 L275.95,607.34 L276.20,607.61 L276.45,607.88 L276.70,608.13 L276.95,608.38 L277.20,608.60 L277.45,608.82 L277.70,609.02 L277.95,609.21 L278.20,609.38 L278.45,609.53 L278.70,609.68 L278.95,609.82 L279.20,609.97 L279.45,610.12 L279.70,610.26 L279.95,610.40 L280.20,610.54 L280.45,610.68 L280.70,610.81 L280.95,610.94 L281.20,611.07 L281.45,611.18 L281.70,611.30 L281.95,611.40 L282.20,611.50 L282.45,611.59 L282.70,611.68 L282.95,611.75 L283.20,611.82 L283.45,611.88 L283.70,611.92 L283.95,611.96 L284.20,611.98 L284.45,612.00 L284.70,612.00 L284.95,611.98 L285.20,611.94 L285.45,611.88 L285.70,611.80 L285.95,611.70 L286.20,611.59 L286.45,611.46 L286.70,611.32 L286.95,611.17 L287.20,611.00 L287.45,610.82 L287.70,610.63 L287.95,610.44 L288.20,610.24 L288.45,610.03 L288.70,609.81 L288.95,609.59 L289.20,609.37 L289.45,609.14 L289.70,608.92 L289.95,608.69 L290.20,608.47 L290.45,608.25 L290.70,608.03 L290.95,607.82 L291.20,607.61 L291.45,607.41 L291.70,607.22 L291.95,607.04 L292.20,606.86 L292.45,606.68 L292.70,606.49 L292.95,606.30 L293.20,606.11 L293.45,605.91 L293.70,605.71 L293.95,605.51 L294.20,605.30 L294.45,605.10 L294.70,604.89 L294.95,604.68 L295.20,604.47 L295.45,604.26 L295.70,604.05 L295.95,603.83 L296.20,603.62 L296.45,603.41 L296.70,603.21 L296.95,603.00 L297.20,602.79 L297.45,602.59 L297.70,602.39 L297.95,602.19 L298.20,601.99 L298.45,601.80 L298.70,601.61 L298.95,601.42 L299.20,601.24 L299.45,601.06 L299.70,600.89 L299.95,600.73 L300.20,600.57 L300.45,600.41 L300.70,600.26 L300.95,600.12 L301.20,599.98 L301.45,599.86 L301.70,599.73 L301.95,599.62 L302.20,599.51 L302.45,599.41 L302.70,599.30 L302.95,599.19 L303.20,599.08 L303.45,598.97 L303.70,598.86 L303.95,598.76 L304.20,598.65 L304.45,598.54 L304.70,598.44 L304.95,598.33 L305.20,598.23 L305.45,598.13 L305.70,598.03 L305.95,597.94 L306.20,597.84 L306.45,597.75 L306.70,597.66 L306.95,597.57 L307.20,597.48 L307.45,597.40 L307.70,597.32 L307.95,597.24 L308.20,597.17 L308.45,597.10 L308.70,597.04 L308.95,596.98 L309.20,596.92 L309.45,596.86 L309.70,596.82 L309.95,596.77 L310.20,596.73 L310.45,596.70 L310.70,596.67 L310.95,596.64 L311.20,596.62 L311.45,596.61 L311.70,596.60 L311.95,596.60 L312.20,596.60 L312.45,596.62 L312.70,596.63 L312.95,596.66 L313.20,596.69 L313.45,596.72 L313.70,596.76 L313.95,596.81 L314.20,596.86 L314.45,596.92 L314.70,596.98 L314.95,597.04 L315.20,597.11 L315.45,597.19 L315.70,597.26 L315.95,597.34 L316.20,597.43 L316.45,597.51 L316.70,597.60 L316.95,597.69 L317.20,597.78 L317.45,597.88 L317.70,597.98 L317.95,598.07 L318.20,598.17 L318.45,598.27 L318.70,598.37 L318.95,598.48 L319.20,598.58 L319.45,598.68 L319.70,598.78 L319.95,598.88 L320.20,598.98 L320.45,599.09 L320.70,599.18 L320.95,599.28 L321.20,599.38 L321.45,599.47 L321.70,599.56 L321.95,599.65 L322.20,599.75 L322.45,599.85 L322.70,599.95 L322.95,600.06 L323.20,600.17 L323.45,600.28 L323.70,600.40 L323.95,600.51 L324.20,600.63 L324.45,600.76 L324.70,600.88 L324.95,601.01 L325.20,601.13 L325.45,601.26 L325.70,601.39 L325.95,601.52 L326.20,601.65 L326.45,601.77 L326.70,601.90 L326.95,602.03 L327.20,602.16 L327.45,602.28 L327.70,602.41 L327.95,602.53 L328.20,602.65 L328.45,602.77 L328.70,602.89 L328.95,603.00 L329.20,603.11 L329.45,603.22 L329.70,603.32 L329.95,603.42 L330.20,603.52 L330.45,603.61 L330.70,603.70 L330.95,603.78 L331.20,603.86 L331.45,603.93 L331.70,604.00 L331.95,604.06 L332.20,604.13 L332.45,604.19 L332.70,604.26 L332.95,604.32 L333.20,604.39 L333.45,604.45 L333.70,604.52 L333.95,604.58 L334.20,604.64 L334.45,604.70 L334.70,604.77 L334.95,604.83 L335.20,604.89 L335.45,604.95 L335.70,605.00 L335.95,605.06 L336.20,605.11 L336.45,605.17 L336.70,605.22 L336.95,605.27 L337.20,605.32 L337.45,605.37 L337.70,605.41 L337.95,605.46 L338.20,605.50 L338.45,605.54 L338.70,605.57 L338.95,605.61 L339.20,605.64 L339.45,605.67 L339.70,605.69 L339.95,605.72 L340.20,605.74 L340.45,605.76 L340.70,605.77 L340.95,605.78 L341.20,605.79 L341.45,605.80 L341.70,605.80 L341.95,605.80 L342.20,605.79 L342.45,605.77 L342.70,605.75 L342.95,605.73 L343.20,605.70 L343.45,605.66 L343.70,605.62 L343.95,605.58 L344.20,605.53 L344.45,605.48 L344.70,605.42 L344.95,605.36 L345.20,605.30 L345.45,605.24 L345.70,605.17 L345.95,605.10 L346.20,605.02 L346.45,604.95 L346.70,604.87 L346.95,604.79 L347.20,604.71 L347.45,604.63 L347.70,604.55 L347.95,604.47 L348.20,604.38 L348.45,604.30 L348.70,604.21 L348.95,604.13 L349.20,604.05 L349.45,603.96 L349.70,603.88 L349.95,603.80 L350.20,603.72 L350.45,603.64 L350.70,603.56 L350.95,603.49 L351.20,603.41 L351.45,603.34 L351.70,603.27 L351.95,603.20 L352.20,603.13 L352.45,603.05 L352.70,602.97 L352.95,602.89 L353.20,602.80 L353.45,602.71 L353.70,602.62 L353.95,602.53 L354.20,602.44 L354.45,602.34 L354.70,602.25 L354.95,602.15 L355.20,602.05 L355.45,601.95 L355.70,601.85 L355.95,601.75 L356.20,601.65 L356.45,601.55 L356.70,601.46 L356.95,601.36 L357.20,601.26 L357.45,601.16 L357.70,601.07 L357.95,600.97 L358.20,600.88 L358.45,600.79 L358.70,600.70 L358.95,600.61 L359.20,600.52 L359.45,600.44 L359.70,600.36 L359.95,600.28 L360.20,600.21 L360.45,600.14 L360.70,600.07 L360.95,600.01 L361.20,599.95 L361.45,599.89 L361.70,599.84 L361.95,599.79 L362.20,599.75 L362.45,599.71 L362.70,599.68 L362.95,599.65 L363.20,599.63 L363.45,599.61 L363.70,599.60 L363.95,599.60 L364.20,599.60 L364.45,599.60 L364.70,599.61 L364.95,599.62 L365.20,599.63 L365.45,599.64 L365.70,599.65 L365.95,599.67 L366.20,599.68 L366.45,599.70 L366.70,599.72 L366.95,599.75 L367.20,599.77 L367.45,599.80 L367.70,599.82 L367.95,599.85 L368.20,599.88 L368.45,599.92 L368.70,599.95 L368.95,599.98 L369.20,600.02 L369.45,600.05 L369.70,600.09 L369.95,600.13 L370.20,600.17 L370.45,600.21 L370.70,600.25 L370.95,600.29 L371.20,600.33 L371.45,600.37 L371.70,600.41 L371.95,600.46 L372.20,600.50 L372.45,600.54 L372.70,600.59 L372.95,600.63 L373.20,600.68 L373.45,600.72 L373.70,600.76 L373.95,600.81 L374.20,600.86 L374.45,600.91 L374.70,600.97 L374.95,601.03 L375.20,601.10 L375.45,601.17 L375.70,601.25 L375.95,601.33 L376.20,601.41 L376.45,601.50 L376.70,601.59 L376.95,601.68 L377.20,601.78 L377.45,601.87 L377.70,601.97 L377.95,602.07 L378.20,602.17 L378.45,602.27 L378.70,602.37 L378.95,602.47 L379.20,602.57 L379.45,602.67 L379.70,602.77 L379.95,602.87 L380.20,602.96 L380.45,603.06 L380.70,603.15 L380.95,603.24 L381.20,603.33 L381.45,603.41 L381.70,603.49 L381.95,603.57 L382.20,603.64 L382.45,603.71 L382.70,603.78 L382.95,603.84 L383.20,603.89 L383.45,603.94 L383.70,603.98 L383.95,604.02 L384.20,604.06 L384.45,604.10 L384.70,604.14 L384.95,604.17 L385.20,604.21 L385.45,604.25 L385.70,604.29 L385.95,604.32 L386.20,604.36 L386.45,604.39 L386.70,604.43 L386.95,604.46 L387.20,604.49 L387.45,604.53 L387.70,604.56 L387.95,604.59 L388.20,604.62 L388.45,604.65 L388.70,604.68 L388.95,604.71 L389.20,604.73 L389.45,604.76 L389.70,604.79 L389.95,604.81 L390.20,604.83 L390.45,604.85 L390.70,604.87 L390.95,604.89 L391.20,604.91 L391.45,604.92 L391.70,604.94 L391.95,604.95 L392.20,604.96 L392.45,604.97 L392.70,604.98 L392.95,604.99 L393.20,604.99 L393.45,605.00 L393.70,605.00 L393.95,605.00 L394.20,604.98 L394.45,604.94 L394.70,604.89 L394.95,604.83 L395.20,604.75 L395.45,604.66 L395.70,604.56 L395.95,604.46 L396.20,604.34 L396.45,604.22 L396.70,604.09 L396.95,603.96 L397.20,603.82 L397.45,603.69 L397.70,603.55 L397.95,603.41 L398.20,603.28 L398.45,603.15 L398.70,603.02 L398.95,602.90 L399.20,602.78 L399.45,602.67 L399.70,602.57 L399.95,602.48 L400.20,602.40 L400.45,602.31 L400.70,602.22 L400.95,602.14 L401.20,602.05 L401.45,601.97 L401.70,601.88 L401.95,601.80 L402.20,601.71 L402.45,601.63 L402.70,601.55 L402.95,601.46 L403.20,601.38 L403.45,601.30 L403.70,601.22 L403.95,601.14 L404.20,601.06 L404.45,600.98 L404.70,600.91 L404.95,600.83 L405.20,600.75 L405.45,600.68 L405.70,600.61 L405.95,600.54 L406.20,600.47 L406.45,600.40 L406.70,600.33 L406.95,600.26 L407.20,600.20 L407.45,600.13 L407.70,600.07 L407.95,600.01 L408.20,599.95 L408.45,599.89 L408.70,599.84 L408.95,599.79 L409.20,599.73 L409.45,599.68 L409.70,599.64 L409.95,599.59 L410.20,599.55 L410.45,599.50 L410.70,599.45 L410.95,599.41 L411.20,599.36 L411.45,599.32 L411.70,599.27 L411.95,599.22 L412.20,599.18 L412.45,599.13 L412.70,599.09 L412.95,599.04 L413.20,599.00 L413.45,598.95 L413.70,598.91 L413.95,598.87 L414.20,598.83 L414.45,598.79 L414.70,598.75 L414.95,598.71 L415.20,598.67 L415.45,598.64 L415.70,598.60 L415.95,598.57 L416.20,598.54 L416.45,598.51 L416.70,598.48 L416.95,598.46 L417.20,598.43 L417.45,598.41 L417.70,598.39 L417.95,598.37 L418.20,598.35 L418.45,598.34 L418.70,598.32 L418.95,598.32 L419.20,598.31 L419.45,598.30 L419.70,598.30 L419.95,598.30 L420.20,598.31 L420.45,598.32 L420.70,598.33 L420.95,598.36 L421.20,598.38 L421.45,598.41 L421.70,598.45 L421.95,598.49 L422.20,598.53 L422.45,598.58 L422.70,598.63 L422.95,598.68 L423.20,598.74 L423.45,598.80 L423.70,598.86 L423.95,598.93 L424.20,599.00 L424.45,599.07 L424.70,599.14 L424.95,599.22 L425.20,599.30 L425.45,599.38 L425.70,599.46 L425.95,599.54 L426.20,599.62 L426.45,599.70 L426.70,599.79 L426.95,599.87 L427.20,599.96 L427.45,600.05 L427.70,600.13 L427.95,600.22 L428.20,600.30 L428.45,600.39 L428.70,600.47 L428.95,600.56 L429.20,600.64 L429.45,600.72 L429.70,600.80 L429.95,600.88 L430.20,600.97 L430.45,601.06 L430.70,601.15 L430.95,601.25 L431.20,601.35 L431.45,601.45 L431.70,601.56 L431.95,601.67 L432.20,601.78 L432.45,601.90 L432.70,602.01 L432.95,602.13 L433.20,602.25 L433.45,602.37 L433.70,602.49 L433.95,602.61 L434.20,602.73 L434.45,602.86 L434.70,602.98 L434.95,603.10 L435.20,603.22 L435.45,603.34 L435.70,603.46 L435.95,603.58 L436.20,603.70 L436.45,603.81 L436.70,603.93 L436.95,604.04 L437.20,604.14 L437.45,604.25 L437.70,604.35 L437.95,604.45 L438.20,604.54 L438.45,604.64 L438.70,604.72 L438.95,604.81 L439.20,604.88 L439.45,604.96 L439.70,605.03 L439.95,605.10 L440.20,605.16 L440.45,605.23 L440.70,605.30 L440.95,605.37 L441.20,605.44 L441.45,605.51 L441.70,605.58 L441.95,605.65 L442.20,605.72 L442.45,605.79 L442.70,605.86 L442.95,605.93 L443.20,605.99 L443.45,606.06 L443.70,606.12 L443.95,606.18 L444.20,606.25 L444.45,606.30 L444.70,606.36 L444.95,606.42 L445.20,606.47 L445.45,606.53 L445.70,606.58 L445.95,606.63 L446.20,606.67 L446.45,606.71 L446.70,606.76 L446.95,606.79 L447.20,606.83 L447.45,606.86 L447.70,606.89 L447.95,606.92 L448.20,606.94 L448.45,606.96 L448.70,606.97 L448.95,606.99 L449.20,606.99 L449.45,607.00 L449.70,607.00 L449.95,606.99 L450.20,606.98 L450.45,606.95 L450.70,606.93 L450.95,606.89 L451.20,606.85 L451.45,606.80 L451.70,606.74 L451.95,606.68 L452.20,606.61 L452.45,606.54 L452.70,606.46 L452.95,606.38 L453.20,606.29 L453.45,606.20 L453.70,606.10 L453.95,606.00 L454.20,605.90 L454.45,605.79 L454.70,605.68 L454.95,605.57 L455.20,605.45 L455.45,605.33 L455.70,605.21 L455.95,605.09 L456.20,604.97 L456.45,604.84 L456.70,604.71 L456.95,604.59 L457.20,604.46 L457.45,604.33 L457.70,604.20 L457.95,604.07 L458.20,603.95 L458.45,603.82 L458.70,603.69 L458.95,603.57 L459.20,603.45 L459.45,603.32 L459.70,603.20 L459.95,603.07 L460.20,602.93 L460.45,602.79 L460.70,602.64 L460.95,602.49 L461.20,602.33 L461.45,602.16 L461.70,601.99 L461.95,601.82 L462.20,601.64 L462.45,601.46 L462.70,601.28 L462.95,601.09 L463.20,600.90 L463.45,600.71 L463.70,600.52 L463.95,600.32 L464.20,600.13 L464.45,599.94 L464.70,599.74 L464.95,599.55 L465.20,599.36 L465.45,599.16 L465.70,598.97 L465.95,598.79 L466.20,598.60 L466.45,598.42 L466.70,598.24 L466.95,598.06 L467.20,597.89 L467.45,597.72 L467.70,597.56 L467.95,597.40 L468.20,597.25 L468.45,597.10 L468.70,596.96 L468.95,596.82 L469.20,596.70 L469.45,596.58 L469.70,596.46 L469.95,596.34 L470.20,596.22 L470.45,596.10 L470.70,595.97 L470.95,595.85 L471.20,595.73 L471.45,595.60 L471.70,595.48 L471.95,595.36 L472.20,595.23 L472.45,595.11 L472.70,594.99 L472.95,594.87 L473.20,594.75 L473.45,594.63 L473.70,594.52 L473.95,594.40 L474.20,594.29 L474.45,594.18 L474.70,594.07 L474.95,593.96 L475.20,593.86 L475.45,593.76 L475.70,593.66 L475.95,593.56 L476.20,593.47 L476.45,593.39 L476.70,593.30 L476.95,593.22 L477.20,593.14 L477.45,593.07 L477.70,593.00 L477.95,592.94 L478.20,592.88 L478.45,592.83 L478.70,592.78 L478.95,592.74 L479.20,592.70 L479.45,592.67 L479.70,592.64 L479.95,592.62 L480.20,592.61 L480.45,592.60 L480.70,592.60 L480.95,592.62 L481.20,592.65 L481.45,592.71 L481.70,592.78 L481.95,592.87 L482.20,592.97 L482.45,593.09 L482.70,593.22 L482.95,593.37 L483.20,593.53 L483.45,593.70 L483.70,593.88 L483.95,594.08 L484.20,594.28 L484.45,594.50 L484.70,594.72 L484.95,594.95 L485.20,595.19 L485.45,595.44 L485.70,595.69 L485.95,595.95 L486.20,596.21 L486.45,596.48 L486.70,596.75 L486.95,597.02 L487.20,597.30 L487.45,597.57 L487.70,597.85 L487.95,598.13 L488.20,598.41 L488.45,598.68 L488.70,598.96 L488.95,599.23 L489.20,599.49 L489.45,599.76 L489.70,600.05 L489.95,600.36 L490.20,600.69 L490.45,601.04 L490.70,601.40 L490.95,601.78 L491.20,602.17 L491.45,602.57 L491.70,602.99 L491.95,603.41 L492.20,603.83 L492.45,604.26 L492.70,604.70 L492.95,605.13 L493.20,605.57 L493.45,606.00 L493.70,606.43 L493.95,606.85 L494.20,607.27 L494.45,607.68 L494.70,608.08 L494.95,608.46 L495.20,608.84 L495.45,609.20 L495.70,609.54 L495.95,609.86 L496.20,610.16 L496.45,610.44 L496.70,610.70 L496.95,610.95 L497.20,611.19 L497.45,611.44 L497.70,611.69 L497.95,611.94 L498.20,612.20 L498.45,612.45 L498.70,612.70 L498.95,612.94 L499.20,613.19 L499.45,613.43 L499.70,613.67 L499.95,613.91 L500.20,614.15 L500.45,614.38 L500.70,614.60 L500.95,614.82 L501.20,615.03 L501.45,615.24 L501.70,615.44 L501.95,615.64 L502.20,615.83 L502.45,616.00 L502.70,616.17 L502.95,616.34 L503.20,616.49 L503.45,616.63 L503.70,616.76 L503.95,616.88 L504.20,616.99 L504.45,617.09 L504.70,617.17 L504.95,617.24 L505.20,617.30 L505.45,617.35 L505.70,617.38 L505.95,617.40 L506.20,617.40 L506.45,617.38 L506.70,617.35 L506.95,617.31 L507.20,617.25 L507.45,617.18 L507.70,617.09 L507.95,616.99 L508.20,616.88 L508.45,616.76 L508.70,616.63 L508.95,616.48 L509.20,616.33 L509.45,616.16 L509.70,615.99 L509.95,615.81 L510.20,615.62 L510.45,615.42 L510.70,615.22 L510.95,615.00 L511.20,614.79 L511.45,614.56 L511.70,614.34 L511.95,614.10 L512.20,613.87 L512.45,613.63 L512.70,613.39 L512.95,613.14 L513.20,612.90 L513.45,612.65 L513.70,612.40 L513.95,612.15 L514.20,611.90 L514.45,611.62 L514.70,611.32 L514.95,610.99 L515.20,610.64 L515.45,610.27 L515.70,609.87 L515.95,609.46 L516.20,609.03 L516.45,608.58 L516.70,608.11 L516.95,607.63 L517.20,607.14 L517.45,606.64 L517.70,606.13 L517.95,605.61 L518.20,605.09 L518.45,604.56 L518.70,604.03 L518.95,603.49 L519.20,602.96 L519.45,602.43 L519.70,601.90 L519.95,601.37 L520.20,600.85 L520.45,600.34 L520.70,599.83 L520.95,599.34 L521.20,598.86 L521.45,598.39 L521.70,597.93 L521.95,597.47 L522.20,597.02 L522.45,596.56 L522.70,596.10 L522.95,595.64 L523.20,595.18 L523.45,594.72 L523.70,594.26 L523.95,593.80 L524.20,593.34 L524.45,592.88 L524.70,592.42 L524.95,591.96 L525.20,591.51 L525.45,591.05 L525.70,590.59 L525.95,590.14 L526.20,589.69 L526.45,589.23 L526.70,588.78 L526.95,588.33 L527.20,587.88 L527.45,587.44 L527.70,586.99 L527.95,586.55 L528.20,586.10 L528.45,585.66 L528.70,585.22 L528.95,584.79 L529.20,584.35 L529.45,583.90 L529.70,583.45 L529.95,582.99 L530.20,582.52 L530.45,582.05 L530.70,581.58 L530.95,581.10 L531.20,580.63 L531.45,580.15 L531.70,579.67 L531.95,579.20 L532.20,578.73 L532.45,578.26 L532.70,577.80 L532.95,577.35 L533.20,576.90 L533.45,576.46 L533.70,576.03 L533.95,575.62 L534.20,575.21 L534.45,574.82 L534.70,574.44 L534.95,574.07 L535.20,573.72 L535.45,573.39 L535.70,573.07 L535.95,572.78 L536.20,572.50 L536.45,572.25 L536.70,572.00 L536.95,571.75 L537.20,571.49 L537.45,571.23 L537.70,570.98 L537.95,570.74 L538.20,570.50 L538.45,570.27 L538.70,570.05 L538.95,569.85 L539.20,569.66 L539.45,569.49 L539.70,569.35 L539.95,569.22 L540.20,569.12 L540.45,569.05 L540.70,569.01 L540.95,569.00 L541.20,569.05 L541.45,569.16 L541.70,569.33 L541.95,569.55 L542.20,569.83 L542.45,570.15 L542.70,570.51 L542.95,570.91 L543.20,571.34 L543.45,571.80 L543.70,572.29 L543.95,572.79 L544.20,573.32 L544.45,573.85 L544.70,574.38 L544.95,574.94 L545.20,575.60 L545.45,576.35 L545.70,577.20 L545.95,578.13 L546.20,579.14 L546.45,580.21 L546.70,581.35 L546.95,582.54 L547.20,583.78 L547.45,585.06 L547.70,586.38 L547.95,587.72 L548.20,589.07 L548.45,590.44 L548.70,591.81 L548.95,593.18 L549.20,594.55 L549.45,595.97 L549.70,597.46 L549.95,599.01 L550.20,600.61 L550.45,602.26 L550.70,603.96 L550.95,605.69 L551.20,607.46 L551.45,609.25 L551.70,611.06 L551.95,612.89 L552.20,614.72 L552.45,616.56 L552.70,618.40 L552.95,620.23 L553.20,622.04 L553.45,623.84 L553.70,625.61 L553.95,627.35 L554.20,629.10 L554.45,630.88 L554.70,632.69 L554.95,634.51 L555.20,636.34 L555.45,638.17 L555.70,640.00 L555.95,641.82 L556.20,643.61 L556.45,645.39 L556.70,647.12 L556.95,648.82 L557.20,650.48 L557.45,652.08 L557.70,653.62 L557.95,655.09 L558.20,656.62 L558.45,658.22 L558.70,659.87 L558.95,661.55 L559.20,663.22 L559.45,664.86 L559.70,666.43 L559.95,667.91 L560.20,669.27 L560.45,670.48 L560.70,671.51 L560.95,672.33 L561.20,672.92 L561.45,673.25 L561.70,673.29 L561.95,673.14 L562.20,672.84 L562.45,672.41 L562.70,671.85 L562.95,671.17 L563.20,670.40 L563.45,669.54 L563.70,668.60 L563.95,667.60 L564.20,666.54 L564.45,665.45 L564.70,664.34 L564.95,663.21 L565.20,662.08 L565.45,660.96 L565.70,659.87 L565.95,658.81 L566.20,657.80 L566.45,656.79 L566.70,655.73 L566.95,654.63 L567.20,653.48 L567.45,652.30 L567.70,651.09 L567.95,649.86 L568.20,648.62 L568.45,647.36 L568.70,646.11 L568.95,644.85 L569.20,643.61 L569.45,642.38 L569.70,641.18 L569.95,640.00 L570.20,638.86 L570.45,637.76 L570.70,636.71 L570.95,635.70 L571.20,634.72 L571.45,633.75 L571.70,632.80 L571.95,631.86 L572.20,630.94 L572.45,630.03 L572.70,629.13 L572.95,628.25 L573.20,627.38 L573.45,626.51 L573.70,625.66 L573.95,624.81 L574.20,623.97 L574.45,623.13 L574.70,622.30 L574.95,621.47 L575.20,620.65 L575.45,619.82 L575.70,619.00 L575.95,618.18 L576.20,617.35 L576.45,616.53 L576.70,615.70 L576.95,614.87 L577.20,614.03 L577.45,613.20 L577.70,612.38 L577.95,611.55 L578.20,610.73 L578.45,609.92 L578.70,609.11 L578.95,608.30 L579.20,607.49 L579.45,606.68 L579.70,605.88 L579.95,605.08 L580.20,604.28 L580.45,603.49 L580.70,602.69 L580.95,601.90 L581.20,601.11 L581.45,600.32 L581.70,599.53 L581.95,598.73 L582.20,597.94 L582.45,597.15 L582.70,596.36 L582.95,595.57 L583.20,594.78 L583.45,593.99 L583.70,593.19 L583.95,592.40 L584.20,591.60 L584.45,590.80 L584.70,590.00 L584.95,589.20 L585.20,588.41 L585.45,587.63 L585.70,586.85 L585.95,586.08 L586.20,585.31 L586.45,584.55 L586.70,583.79 L586.95,583.03 L587.20,582.27 L587.45,581.51 L587.70,580.76 L587.95,580.00 L588.20,579.23 L588.45,578.47 L588.70,577.70 L588.95,576.92 L589.20,576.15 L589.45,575.36 L589.70,574.57 L589.95,573.76 L590.20,572.95 L590.45,572.13 L590.70,571.30 L590.95,570.46 L591.20,569.60 L591.45,568.73 L591.70,567.85 L591.95,566.96 L592.20,566.04 L592.45,565.11 L592.70,564.17 L592.95,563.22 L593.20,562.27 L593.45,561.30 L593.70,560.32 L593.95,559.33 L594.20,558.32 L594.45,557.30 L594.70,556.27 L594.95,555.21 L595.20,554.15 L595.45,553.06 L595.70,551.95 L595.95,550.83 L596.20,549.68 L596.45,548.51 L596.70,547.31 L596.95,546.10 L597.20,544.86 L597.45,543.59 L597.70,542.29 L597.95,540.97 L598.20,539.61 L598.45,538.23 L598.70,536.81 L598.95,535.34 L599.20,533.84 L599.45,532.30 L599.70,530.70 L599.95,529.06 L600.20,527.37 L600.45,525.63 L600.70,523.82 L600.95,521.96 L601.20,520.04 L601.45,518.05 L601.70,516.00 L601.95,513.82 L602.20,511.45 L602.45,508.94 L602.70,506.29 L602.95,503.54 L603.20,500.70 L603.45,497.80 L603.70,494.86 L603.95,491.91 L604.20,488.97 L604.45,486.07 L604.70,483.22 L604.95,480.40 L605.20,477.44 L605.45,474.36 L605.70,471.21 L605.95,468.04 L606.20,464.89 L606.45,461.80 L606.70,458.82 L606.95,456.00 L607.20,453.38 L607.45,451.01 L607.70,448.94 L607.95,447.13 L608.20,445.34 L608.45,443.55 L608.70,441.77 L608.95,440.03 L609.20,438.35 L609.45,436.73 L609.70,435.19 L609.95,433.76 L610.20,432.45 L610.45,431.28 L610.70,430.27 L610.95,429.43 L611.20,428.78 L611.45,428.34 L611.70,428.12 L611.95,428.16 L612.20,428.49 L612.45,429.11 L612.70,429.99 L612.95,431.10 L613.20,432.42 L613.45,433.92 L613.70,435.59 L613.95,437.40 L614.20,439.32 L614.45,441.33 L614.70,443.41 L614.95,445.54 L615.20,448.10 L615.45,451.23 L615.70,454.87 L615.95,458.98 L616.20,463.48 L616.45,468.32 L616.70,473.45 L616.95,478.80 L617.20,484.43 L617.45,491.10 L617.70,498.71 L617.95,506.89 L618.20,515.30 L618.45,523.56 L618.70,531.49 L618.95,540.22 L619.20,549.44 L619.45,558.49 L619.70,566.67 L619.95,573.31 L620.20,577.70 L620.45,580.65 L620.70,583.42 L620.95,585.98 L621.20,588.34 L621.45,590.50 L621.70,592.43 L621.95,594.15 L622.20,595.63 L622.45,596.89 L622.70,597.90 L622.95,598.66 L623.20,599.17 L623.45,599.46 L623.70,599.72 L623.95,599.96 L624.20,600.19 L624.45,600.40 L624.70,600.60 L624.95,600.78 L625.20,600.95 L625.45,601.10 L625.70,601.24 L625.95,601.37 L626.20,601.48 L626.45,601.58 L626.70,601.66 L626.95,601.74 L627.20,601.80 L627.45,601.84 L627.70,601.88 L627.95,601.90 L628.20,601.92 L628.45,601.94 L628.70,601.96 L628.95,601.98 L629.20,602.00 L629.45,602.02 L629.70,602.03 L629.95,602.05 L630.20,602.06 L630.45,602.08 L630.70,602.09 L630.95,602.10 L631.20,602.11 L631.45,602.12 L631.70,602.13 L631.95,602.14 L632.20,602.15 L632.45,602.16 L632.70,602.17 L632.95,602.17 L633.20,602.18 L633.45,602.19 L633.70,602.19 L633.95,602.19 L634.20,602.20 L634.45,602.20 L634.70,602.20 L634.95,602.20 L635.20,602.20 L635.45,602.20 L635.70,602.20 L635.95,602.20 L636.20,602.20 L636.45,602.20 L636.70,602.20 L636.95,602.20 L637.20,602.20 L637.45,602.20 L637.70,602.20 L637.95,602.20 L638.20,602.20 L638.45,602.20 L638.70,602.20 L638.95,602.20 L639.20,602.20 L639.45,602.20 L639.70,602.20 L639.95,602.20 L640.20,602.20 L640.45,602.20 L640.70,602.20 L640.95,602.20 L641.20,602.20 L641.45,602.20 L641.70,602.20 L641.95,602.20 L642.20,602.20 L642.45,602.20 L642.70,602.20 L642.95,602.20 L643.20,602.20 L643.45,602.20 L643.70,602.20 L643.95,602.20 L644.20,602.20 L644.45,602.20 L644.70,602.20 L644.95,602.20 L645.20,602.20 L645.45,602.20 L645.70,602.20 L645.95,602.20 L646.20,602.20 L646.45,602.20 L646.70,602.20 L646.95,602.20 L647.20,602.20 L647.45,602.20 L647.70,602.20 L647.95,602.20 L648.20,602.20 L648.45,602.20 L648.70,602.20 L648.95,602.20 L649.20,602.20 L649.45,602.20 L649.70,602.20 L649.95,602.20 L650.20,602.20 L650.45,602.20 L650.70,602.20 L650.95,602.20 L651.20,602.20 L651.45,602.20 L651.70,602.20 L651.95,602.20 L652.20,602.20 L652.45,602.20 L652.70,602.20 L652.95,602.20 L653.20,602.20 L653.45,602.20 L653.70,602.20 L653.95,602.20 L654.20,602.20 L654.45,602.20 L654.70,602.20 L654.95,602.20 L655.20,602.20 L655.45,602.20 L655.70,602.20 L655.95,602.20 L656.20,602.20 L656.45,602.20 L656.70,602.20 L656.95,602.20 L657.20,602.20 L657.45,602.20 L657.70,602.20 L657.95,602.20 L658.20,602.20 L658.45,602.20 L658.70,602.20 L658.95,602.20 L659.20,602.20 L659.45,602.20 L659.70,602.20 L659.95,602.20 L660.20,602.20 L660.45,602.20 L660.70,602.20 L660.95,602.20 L661.20,602.20 L661.45,602.20 L661.70,602.20 L661.95,602.20 L662.20,602.20 L662.45,602.20 L662.70,602.20 L662.95,602.20 L663.20,602.20 L663.45,602.20 L663.70,602.20 L663.95,602.20 L664.20,602.20 L664.45,602.20 L664.70,602.20 L664.95,602.20 L665.20,602.20 L665.45,602.20 L665.70,602.20 L665.95,602.20 L666.20,602.20 L666.45,602.20 L666.70,602.20 L666.95,602.20 L667.20,602.20 L667.45,602.20 L667.70,602.20 L667.95,602.20 L668.20,602.20 L668.45,602.20 L668.70,602.20 L668.95,602.20 L669.20,602.20 L669.45,602.20 L669.70,602.20 L669.95,602.20 L670.20,602.20 L670.45,602.20 L670.70,602.20 L670.95,602.20 L671.20,602.20 L671.45,602.20 L671.70,602.20 L671.95,602.20 L672.20,602.20 L672.45,602.20 L672.70,602.20 L672.95,602.20 L673.20,602.20 L673.45,602.20 L673.70,602.20 L673.95,602.20 L674.20,602.20 L674.45,602.20 L674.50,602.20" stroke="#ffa500" stroke-width="5" fill="none" stroke-linejoin="round"/>
<path d="M88.70,602.20L93.70,602.20M109.70,602.20L114.70,602.20M129.65,601.34L134.35,603.06M141.42,612.01L143.11,616.72M143.29,631.56L143.58,636.55M144.46,651.48L144.75,656.47M145.66,671.40L145.90,676.39M146.39,691.31L146.57,696.31M147.08,711.24L147.29,716.23M147.84,731.17L148.41,736.14M151.15,749.95L152.13,754.85M152.81,769.90L157.50,768.18M156.18,751.38L156.47,746.39M157.35,731.46L157.64,726.47M158.52,711.78L158.82,706.78M159.48,691.83L160.20,686.89M162.42,682.91L163.35,678.00M164.37,663.12L166.09,658.42M170.82,659.41L172.30,654.63M172.61,639.13L172.85,634.13M172.83,618.90L174.03,614.05M176.09,617.17L177.81,621.87M178.69,627.34L179.90,622.49M179.96,607.91L180.97,603.01M186.13,590.76L187.46,585.94M189.81,572.29L190.81,567.39M193.95,552.82L195.10,547.95M198.61,534.77L199.81,529.91M201.64,515.93L203.35,520.63M204.81,535.71L205.33,540.69M206.42,555.64L207.00,560.60M209.06,574.18L209.99,579.09M212.25,586.58L212.90,591.53M213.44,606.26L214.04,611.22M216.40,625.38L218.12,630.07M218.97,624.28L220.23,619.45M220.55,610.09L221.94,614.89M222.46,629.92L222.84,634.90M222.73,645.77L224.44,641.08M226.48,627.03L228.19,622.33M232.10,620.00L233.82,615.30M233.50,615.67L233.95,620.65M234.68,635.78L234.99,640.77M234.77,640.51L235.16,635.52M235.98,623.14L236.43,618.16M236.17,623.64L236.79,618.68M236.31,601.56L241.06,600.02M239.55,618.58L244.27,620.23M244.05,605.26L244.73,600.30M246.02,585.77L247.73,581.08M252.72,592.72L254.43,588.02M255.54,571.76L260.54,571.76M259.42,588.02L261.13,592.72M262.64,579.84L264.36,584.53M265.12,595.96L266.84,600.66M270.09,593.98L271.80,598.68M273.33,613.33L275.01,618.04M274.80,614.55L279.49,612.84M280.76,615.05L282.47,610.36M281.75,595.72L286.44,597.43M285.72,613.83L287.43,618.53M294.16,613.07L295.87,608.37M296.64,593.22L298.35,588.52M298.87,595.72L303.56,597.43M305.82,601.16L310.51,599.44M309.29,586.78L311.01,591.48M310.00,608.72L314.76,610.24M314.00,591.97L318.70,590.26M318.97,606.61L323.66,604.90M322.83,587.81L324.26,583.01M324.55,591.61L325.03,596.58M325.42,611.60L327.13,616.29M327.90,607.36L329.62,602.66M330.49,604.24L335.47,603.80M337.58,603.16L342.27,604.88M340.81,607.13L342.52,611.83M342.98,614.92L343.82,609.99M343.78,594.46L345.50,589.76M348.25,602.17L349.96,606.86M353.21,619.77L354.93,615.07M355.85,599.56L356.26,594.58M356.19,578.10L357.90,582.80M358.64,599.56L359.42,604.50M358.57,606.28L363.46,605.24M366.36,602.65L368.08,597.95M369.09,590.01L373.79,591.73M372.07,607.85L376.77,606.14M375.73,587.71L380.55,589.06M379.76,606.39L381.48,611.08M389.30,607.77L394.27,607.22M389.49,607.63L394.48,607.36M400.31,609.35L402.02,604.65M402.90,589.53L404.39,584.76M404.55,592.61L405.23,597.56M405.00,613.65L409.74,615.23M411.48,599.92L413.19,595.22M413.71,596.21L418.40,597.93M418.67,604.88L423.37,603.16M423.14,596.57L423.86,591.62M423.88,576.11L425.60,580.81M426.36,597.20L428.08,601.90M427.24,588.33L432.16,587.45M433.67,595.86L434.67,600.76M435.38,615.72L436.43,620.61M437.17,616.90L438.12,611.99M439.51,597.44L441.23,592.74M442.00,604.15L443.71,608.85M448.45,615.80L453.14,614.08M450.85,597.66L455.70,596.48M457.52,612.24L462.43,613.17M460.11,599.67L464.81,597.95M465.07,607.36L469.77,605.64M474.75,590.74L476.47,586.04M480.46,577.85L482.17,582.55M482.19,597.70L483.91,602.40M487.90,598.92L489.62,594.23M490.88,586.53L492.59,591.23M493.73,605.79L494.71,610.69M495.84,611.35L497.56,616.05M501.68,629.02L506.61,628.15M504.28,612.82L508.97,611.10M509.49,623.76L511.20,628.45M512.49,629.70L514.16,624.99M515.25,613.16L516.36,608.28M518.67,592.49L523.37,594.21M522.12,611.28L523.39,616.11M524.07,609.90L525.41,605.09M528.46,593.81L529.46,588.92M529.09,573.88L533.79,575.60M532.81,596.71L537.51,598.43M538.23,580.88L539.54,576.05M541.99,562.72L546.69,564.43M546.47,580.75L547.09,585.71M546.70,580.93L546.94,585.92M547.55,599.85L547.87,604.84M548.39,618.50L550.11,623.20M551.48,608.63L553.19,613.33M554.51,628.54L555.09,633.51M556.63,648.28L557.29,653.24M559.46,667.76L560.63,672.62M562.27,678.70L563.98,674.01M566.89,660.20L568.61,655.50M570.21,661.20L571.46,656.36M572.02,642.44L572.74,637.49M575.78,623.28L576.99,618.42M580.99,605.07L582.26,600.24M584.09,591.51L585.33,586.67M588.61,574.83L590.06,570.05M594.91,556.06L596.10,551.20M598.14,536.97L599.04,532.05M601.26,522.48L602.08,517.55M603.03,509.25L603.40,504.26M603.98,489.21L604.29,484.22M605.23,469.13L606.13,464.21M608.57,450.57L613.27,448.85M615.12,459.58L615.97,464.51M616.34,479.59L616.61,484.59M617.57,499.64L617.84,504.63M618.53,519.06L618.73,524.06M619.15,538.80L619.34,543.79M620.08,559.15L620.27,564.14M620.55,578.89L621.03,583.87M621.52,599.33L626.22,601.05M640.80,601.34L645.80,601.50M660.84,601.42L665.84,601.42" stroke="blue" stroke-width="5" fill="none" stroke-linecap="butt"/>
</g>
<rect x="88.70" y="409.80" width="585.80" height="384.90" stroke="#000" stroke-width="2" fill="none"/><path d="M80.00,768.50H88.70M80.00,713.05H88.70M80.00,657.60H88.70M80.00,602.15H88.70M80.00,546.70H88.70M80.00,491.25H88.70M80.00,435.80H88.70M88.70,794.70V803.40M205.86,794.70V803.40M323.02,794.70V803.40M440.18,794.70V803.40M557.34,794.70V803.40M674.50,794.70V803.40" stroke="#000" stroke-width="2" fill="none"/><text x="59.97" y="777.20" font-family='"Liberation Serif", serif' font-size="23.5" fill="#000" >3</text><rect x="43.89" y="770.35" width="13.6" height="1.5" fill="#000"/><text x="60.35" y="721.75" font-family='"Liberation Serif", serif' font-size="23.5" fill="#000" >2</text><rect x="44.18" y="714.90" width="13.6" height="1.5" fill="#000"/><text x="60.46" y="666.30" font-family='"Liberation Serif", serif' font-size="23.5" fill="#000" >1</text><rect x="45.33" y="659.45" width="13.6" height="1.5" fill="#000"/><text x="59.95" y="610.85" font-family='"Liberation Serif", serif' font-size="23.5" fill="#000" >0</text><text x="60.46" y="555.40" font-family='"Liberation Serif", serif' font-size="23.5" fill="#000" >1</text><text x="60.35" y="499.95" font-family='"Liberation Serif", serif' font-size="23.5" fill="#000" >2</text><text x="59.97" y="444.50" font-family='"Liberation Serif", serif' font-size="23.5" fill="#000" >3</text>
<path d="M111.80,441.00A18.05,18.05 0 0 0 111.80,472.00L111.16,471.04A21.79,21.79 0 0 1 111.16,441.96Z" fill="#000"/>
<text transform="translate(113.58,464.00) scale(1.1,1)" font-family='"Liberation Serif", serif' font-size="30" font-weight="bold" fill="#000" >b</text>
<path d="M133.70,441.00A18.50,18.50 0 0 1 133.70,472.00L134.34,471.04A23.07,23.07 0 0 0 134.34,441.96Z" fill="#000"/>
<rect x="245.1" y="685.5" width="272.9" height="95.3" rx="5.5" ry="5.5" fill="#fff" fill-opacity="0.8" stroke="#d6d6d6" stroke-width="2"/>
<path d="M253.20,712.40L259.80,712.40M267.00,712.40L273.60,712.40M280.80,712.40L287.40,712.40M294.60,712.40L301.20,712.40M307.70,712.40L314.30,712.40" stroke="blue" stroke-width="5.1" fill="none" stroke-linecap="butt"/>
<path d="M252.8,753.4H313.3" stroke="#ffa500" stroke-width="5"/>
<path d="M88.70,817.50V1203.10M205.86,817.50V1203.10M323.02,817.50V1203.10M440.18,817.50V1203.10M557.34,817.50V1203.10M674.50,817.50V1203.10M88.70,1176.90H674.50M88.70,1121.97H674.50M88.70,1067.03H674.50M88.70,1012.10H674.50M88.70,957.16H674.50M88.70,902.23H674.50M88.70,847.30H674.50" stroke="#b0b0b0" stroke-width="2" fill="none"/>
<g clip-path="url(#clipc)">
<path d="M88.70,1176.60 L88.95,1176.60 L89.20,1176.60 L89.45,1176.60 L89.70,1176.60 L89.95,1176.60 L90.20,1176.60 L90.45,1176.60 L90.70,1176.60 L90.95,1176.60 L91.20,1176.60 L91.45,1176.60 L91.70,1176.60 L91.95,1176.60 L92.20,1176.60 L92.45,1176.60 L92.70,1176.60 L92.95,1176.60 L93.20,1176.60 L93.45,1176.60 L93.70,1176.60 L93.95,1176.60 L94.20,1176.60 L94.45,1176.60 L94.70,1176.60 L94.95,1176.60 L95.20,1176.60 L95.45,1176.60 L95.70,1176.60 L95.95,1176.60 L96.20,1176.60 L96.45,1176.60 L96.70,1176.60 L96.95,1176.60 L97.20,1176.60 L97.45,1176.60 L97.70,1176.60 L97.95,1176.60 L98.20,1176.60 L98.45,1176.60 L98.70,1176.60 L98.95,1176.60 L99.20,1176.60 L99.45,1176.60 L99.70,1176.60 L99.95,1176.60 L100.20,1176.60 L100.45,1176.60 L100.70,1176.60 L100.95,1176.60 L101.20,1176.60 L101.45,1176.60 L101.70,1176.60 L101.95,1176.60 L102.20,1176.60 L102.45,1176.60 L102.70,1176.60 L102.95,1176.60 L103.20,1176.60 L103.45,1176.60 L103.70,1176.60 L103.95,1176.60 L104.20,1176.60 L104.45,1176.60 L104.70,1176.60 L104.95,1176.60 L105.20,1176.60 L105.45,1176.60 L105.70,1176.60 L105.95,1176.60 L106.20,1176.60 L106.45,1176.60 L106.70,1176.60 L106.95,1176.60 L107.20,1176.60 L107.45,1176.60 L107.70,1176.60 L107.95,1176.60 L108.20,1176.60 L108.45,1176.60 L108.70,1176.60 L108.95,1176.60 L109.20,1176.60 L109.45,1176.60 L109.70,1176.60 L109.95,1176.60 L110.20,1176.60 L110.45,1176.60 L110.70,1176.60 L110.95,1176.60 L111.20,1176.60 L111.45,1176.60 L111.70,1176.60 L111.95,1176.60 L112.20,1176.60 L112.45,1176.60 L112.70,1176.60 L112.95,1176.60 L113.20,1176.60 L113.45,1176.60 L113.70,1176.60 L113.95,1176.60 L114.20,1176.60 L114.45,1176.60 L114.70,1176.60 L114.95,1176.60 L115.20,1176.60 L115.45,1176.60 L115.70,1176.60 L115.95,1176.60 L116.20,1176.60 L116.45,1176.60 L116.70,1176.60 L116.95,1176.60 L117.20,1176.60 L117.45,1176.60 L117.70,1176.60 L117.95,1176.60 L118.20,1176.60 L118.45,1176.60 L118.70,1176.60 L118.95,1176.60 L119.20,1176.60 L119.45,1176.60 L119.70,1176.60 L119.95,1176.60 L120.20,1176.60 L120.45,1176.60 L120.70,1176.60 L120.95,1176.60 L121.20,1176.60 L121.45,1176.60 L121.70,1176.60 L121.95,1176.60 L122.20,1176.60 L122.45,1176.60 L122.70,1176.60 L122.95,1176.60 L123.20,1176.60 L123.45,1176.60 L123.70,1176.60 L123.95,1176.60 L124.20,1176.60 L124.45,1176.60 L124.70,1176.60 L124.95,1176.60 L125.20,1176.60 L125.45,1176.60 L125.70,1176.60 L125.95,1176.60 L126.20,1176.60 L126.45,1176.60 L126.70,1176.60 L126.95,1176.60 L127.20,1176.60 L127.45,1176.60 L127.70,1176.60 L127.95,1176.60 L128.20,1176.60 L128.45,1176.60 L128.70,1176.60 L128.95,1176.60 L129.20,1176.60 L129.45,1176.60 L129.70,1176.60 L129.95,1176.60 L130.20,1176.60 L130.45,1176.60 L130.70,1176.60 L130.95,1176.60 L131.20,1176.60 L131.45,1176.60 L131.70,1176.60 L131.95,1176.60 L132.20,1176.60 L132.45,1176.60 L132.70,1176.60 L132.95,1176.60 L133.20,1176.60 L133.45,1176.60 L133.70,1176.60 L133.95,1176.60 L134.20,1176.60 L134.45,1176.60 L134.70,1176.60 L134.95,1176.60 L135.20,1176.60 L135.45,1176.60 L135.70,1176.60 L135.95,1176.60 L136.20,1176.60 L136.45,1176.60 L136.70,1176.60 L136.95,1176.60 L137.20,1176.60 L137.45,1176.60 L137.70,1176.60 L137.95,1176.60 L138.20,1176.60 L138.45,1176.60 L138.70,1176.60 L138.95,1176.60 L139.20,1176.57 L139.45,1176.23 L139.70,1175.55 L139.95,1174.57 L140.20,1173.33 L140.45,1171.87 L140.70,1169.99 L140.95,1165.83 L141.20,1159.46 L141.45,1151.51 L141.70,1142.61 L141.95,1133.40 L142.20,1124.50 L142.45,1115.38 L142.70,1105.31 L142.95,1094.64 L143.20,1083.73 L143.45,1072.94 L143.70,1062.60 L143.95,1052.75 L144.20,1043.09 L144.45,1033.55 L144.70,1024.03 L144.95,1014.43 L145.20,1004.67 L145.45,994.57 L145.70,983.92 L145.95,973.01 L146.20,962.21 L146.45,951.86 L146.70,942.31 L146.95,933.76 L147.20,925.68 L147.45,918.01 L147.70,910.73 L147.95,903.84 L148.20,897.34 L148.45,891.19 L148.70,884.95 L148.95,878.69 L149.20,872.79 L149.45,867.63 L149.70,863.59 L149.95,860.99 L150.20,859.02 L150.45,857.24 L150.70,855.73 L150.95,854.59 L151.20,853.88 L151.45,853.71 L151.70,853.90 L151.95,854.35 L152.20,855.02 L152.45,855.87 L152.70,856.89 L152.95,858.04 L153.20,859.28 L153.45,860.59 L153.70,861.99 L153.95,863.92 L154.20,866.38 L154.45,869.30 L154.70,872.55 L154.95,876.05 L155.20,879.69 L155.45,883.37 L155.70,886.99 L155.95,890.45 L156.20,893.67 L156.45,896.87 L156.70,900.11 L156.95,903.37 L157.20,906.65 L157.45,909.94 L157.70,913.24 L157.95,916.52 L158.20,919.80 L158.45,923.05 L158.70,926.27 L158.95,929.46 L159.20,932.60 L159.45,935.75 L159.70,938.95 L159.95,942.17 L160.20,945.41 L160.45,948.62 L160.70,951.80 L160.95,954.92 L161.20,957.96 L161.45,960.89 L161.70,963.70 L161.95,966.36 L162.20,968.86 L162.45,971.18 L162.70,973.42 L162.95,975.58 L163.20,977.67 L163.45,979.70 L163.70,981.67 L163.95,983.59 L164.20,985.46 L164.45,987.28 L164.70,989.06 L164.95,990.81 L165.20,992.53 L165.45,994.22 L165.70,995.90 L165.95,997.56 L166.20,999.20 L166.45,1000.84 L166.70,1002.48 L166.95,1004.13 L167.20,1005.78 L167.45,1007.44 L167.70,1009.10 L167.95,1010.75 L168.20,1012.40 L168.45,1014.03 L168.70,1015.65 L168.95,1017.24 L169.20,1018.81 L169.45,1020.35 L169.70,1021.86 L169.95,1023.32 L170.20,1024.74 L170.45,1026.12 L170.70,1027.44 L170.95,1028.71 L171.20,1029.91 L171.45,1031.05 L171.70,1032.13 L171.95,1033.19 L172.20,1034.25 L172.45,1035.31 L172.70,1036.36 L172.95,1037.40 L173.20,1038.42 L173.45,1039.43 L173.70,1040.43 L173.95,1041.40 L174.20,1042.35 L174.45,1043.27 L174.70,1044.17 L174.95,1045.03 L175.20,1045.86 L175.45,1046.65 L175.70,1047.41 L175.95,1048.12 L176.20,1048.78 L176.45,1049.40 L176.70,1049.97 L176.95,1050.48 L177.20,1050.94 L177.45,1051.34 L177.70,1051.68 L177.95,1051.97 L178.20,1052.25 L178.45,1052.52 L178.70,1052.79 L178.95,1053.05 L179.20,1053.30 L179.45,1053.55 L179.70,1053.79 L179.95,1054.03 L180.20,1054.25 L180.45,1054.47 L180.70,1054.67 L180.95,1054.87 L181.20,1055.06 L181.45,1055.24 L181.70,1055.41 L181.95,1055.56 L182.20,1055.71 L182.45,1055.84 L182.70,1055.96 L182.95,1056.06 L183.20,1056.15 L183.45,1056.23 L183.70,1056.30 L183.95,1056.35 L184.20,1056.38 L184.45,1056.40 L184.70,1056.40 L184.95,1056.35 L185.20,1056.26 L185.45,1056.13 L185.70,1055.95 L185.95,1055.73 L186.20,1055.48 L186.45,1055.19 L186.70,1054.86 L186.95,1054.50 L187.20,1054.11 L187.45,1053.69 L187.70,1053.24 L187.95,1052.77 L188.20,1052.27 L188.45,1051.76 L188.70,1051.22 L188.95,1050.67 L189.20,1050.10 L189.45,1049.52 L189.70,1048.93 L189.95,1048.32 L190.20,1047.71 L190.45,1047.10 L190.70,1046.48 L190.95,1045.86 L191.20,1045.23 L191.45,1044.62 L191.70,1044.00 L191.95,1043.36 L192.20,1042.66 L192.45,1041.90 L192.70,1041.10 L192.95,1040.24 L193.20,1039.35 L193.45,1038.41 L193.70,1037.44 L193.95,1036.44 L194.20,1035.41 L194.45,1034.36 L194.70,1033.28 L194.95,1032.19 L195.20,1031.08 L195.45,1029.97 L195.70,1028.84 L195.95,1027.72 L196.20,1026.60 L196.45,1025.48 L196.70,1024.37 L196.95,1023.28 L197.20,1022.20 L197.45,1021.14 L197.70,1020.11 L197.95,1019.10 L198.20,1018.09 L198.45,1017.05 L198.70,1016.00 L198.95,1014.94 L199.20,1013.86 L199.45,1012.78 L199.70,1011.69 L199.95,1010.60 L200.20,1009.50 L200.45,1008.41 L200.70,1007.33 L200.95,1006.25 L201.20,1005.18 L201.45,1004.13 L201.70,1003.09 L201.95,1002.07 L202.20,1001.07 L202.45,1000.10 L202.70,999.16 L202.95,998.24 L203.20,997.36 L203.45,996.51 L203.70,995.71 L203.95,994.94 L204.20,994.21 L204.45,993.48 L204.70,992.73 L204.95,991.97 L205.20,991.20 L205.45,990.44 L205.70,989.67 L205.95,988.91 L206.20,988.16 L206.45,987.42 L206.70,986.70 L206.95,986.00 L207.20,985.32 L207.45,984.68 L207.70,984.06 L207.95,983.49 L208.20,982.95 L208.45,982.46 L208.70,982.02 L208.95,981.63 L209.20,981.30 L209.45,981.02 L209.70,980.81 L209.95,980.67 L210.20,980.61 L210.45,980.60 L210.70,980.63 L210.95,980.68 L211.20,980.74 L211.45,980.83 L211.70,980.94 L211.95,981.06 L212.20,981.20 L212.45,981.36 L212.70,981.53 L212.95,981.72 L213.20,981.92 L213.45,982.13 L213.70,982.35 L213.95,982.59 L214.20,982.83 L214.45,983.08 L214.70,983.33 L214.95,983.60 L215.20,983.87 L215.45,984.14 L215.70,984.42 L215.95,984.70 L216.20,984.98 L216.45,985.26 L216.70,985.57 L216.95,985.93 L217.20,986.33 L217.45,986.77 L217.70,987.24 L217.95,987.75 L218.20,988.30 L218.45,988.87 L218.70,989.46 L218.95,990.08 L219.20,990.72 L219.45,991.38 L219.70,992.06 L219.95,992.74 L220.20,993.44 L220.45,994.14 L220.70,994.85 L220.95,995.56 L221.20,996.28 L221.45,996.98 L221.70,997.69 L221.95,998.38 L222.20,999.06 L222.45,999.73 L222.70,1000.38 L222.95,1001.01 L223.20,1001.63 L223.45,1002.21 L223.70,1002.77 L223.95,1003.30 L224.20,1003.80 L224.45,1004.28 L224.70,1004.77 L224.95,1005.25 L225.20,1005.74 L225.45,1006.22 L225.70,1006.71 L225.95,1007.19 L226.20,1007.68 L226.45,1008.15 L226.70,1008.63 L226.95,1009.10 L227.20,1009.56 L227.45,1010.02 L227.70,1010.47 L227.95,1010.91 L228.20,1011.34 L228.45,1011.77 L228.70,1012.18 L228.95,1012.58 L229.20,1012.97 L229.45,1013.35 L229.70,1013.71 L229.95,1014.06 L230.20,1014.40 L230.45,1014.71 L230.70,1015.01 L230.95,1015.30 L231.20,1015.56 L231.45,1015.81 L231.70,1016.03 L231.95,1016.24 L232.20,1016.44 L232.45,1016.64 L232.70,1016.83 L232.95,1017.03 L233.20,1017.22 L233.45,1017.41 L233.70,1017.60 L233.95,1017.79 L234.20,1017.97 L234.45,1018.15 L234.70,1018.33 L234.95,1018.50 L235.20,1018.68 L235.45,1018.84 L235.70,1019.01 L235.95,1019.16 L236.20,1019.32 L236.45,1019.47 L236.70,1019.61 L236.95,1019.75 L237.20,1019.88 L237.45,1020.01 L237.70,1020.12 L237.95,1020.24 L238.20,1020.34 L238.45,1020.44 L238.70,1020.54 L238.95,1020.62 L239.20,1020.70 L239.45,1020.77 L239.70,1020.83 L239.95,1020.88 L240.20,1020.92 L240.45,1020.96 L240.70,1020.98 L240.95,1020.99 L241.20,1021.00 L241.45,1021.00 L241.70,1020.99 L241.95,1020.98 L242.20,1020.96 L242.45,1020.95 L242.70,1020.92 L242.95,1020.89 L243.20,1020.86 L243.45,1020.83 L243.70,1020.79 L243.95,1020.75 L244.20,1020.70 L244.45,1020.66 L244.70,1020.61 L244.95,1020.55 L245.20,1020.49 L245.45,1020.43 L245.70,1020.37 L245.95,1020.31 L246.20,1020.24 L246.45,1020.17 L246.70,1020.10 L246.95,1020.03 L247.20,1019.95 L247.45,1019.87 L247.70,1019.80 L247.95,1019.72 L248.20,1019.63 L248.45,1019.55 L248.70,1019.46 L248.95,1019.36 L249.20,1019.23 L249.45,1019.07 L249.70,1018.90 L249.95,1018.70 L250.20,1018.49 L250.45,1018.25 L250.70,1018.00 L250.95,1017.74 L251.20,1017.46 L251.45,1017.17 L251.70,1016.86 L251.95,1016.55 L252.20,1016.22 L252.45,1015.89 L252.70,1015.55 L252.95,1015.21 L253.20,1014.86 L253.45,1014.51 L253.70,1014.15 L253.95,1013.80 L254.20,1013.45 L254.45,1013.09 L254.70,1012.74 L254.95,1012.40 L255.20,1012.06 L255.45,1011.73 L255.70,1011.40 L255.95,1011.09 L256.20,1010.79 L256.45,1010.49 L256.70,1010.21 L256.95,1009.95 L257.20,1009.70 L257.45,1009.46 L257.70,1009.22 L257.95,1008.97 L258.20,1008.72 L258.45,1008.47 L258.70,1008.22 L258.95,1007.97 L259.20,1007.71 L259.45,1007.45 L259.70,1007.20 L259.95,1006.94 L260.20,1006.69 L260.45,1006.44 L260.70,1006.19 L260.95,1005.94 L261.20,1005.70 L261.45,1005.46 L261.70,1005.23 L261.95,1005.00 L262.20,1004.78 L262.45,1004.56 L262.70,1004.36 L262.95,1004.16 L263.20,1003.97 L263.45,1003.79 L263.70,1003.61 L263.95,1003.45 L264.20,1003.30 L264.45,1003.16 L264.70,1003.04 L264.95,1002.92 L265.20,1002.82 L265.45,1002.74 L265.70,1002.67 L265.95,1002.61 L266.20,1002.56 L266.45,1002.52 L266.70,1002.48 L266.95,1002.43 L267.20,1002.39 L267.45,1002.35 L267.70,1002.31 L267.95,1002.27 L268.20,1002.23 L268.45,1002.19 L268.70,1002.16 L268.95,1002.12 L269.20,1002.09 L269.45,1002.05 L269.70,1002.02 L269.95,1001.99 L270.20,1001.96 L270.45,1001.93 L270.70,1001.90 L270.95,1001.87 L271.20,1001.85 L271.45,1001.82 L271.70,1001.80 L271.95,1001.78 L272.20,1001.76 L272.45,1001.74 L272.70,1001.72 L272.95,1001.70 L273.20,1001.68 L273.45,1001.67 L273.70,1001.66 L273.95,1001.64 L274.20,1001.63 L274.45,1001.62 L274.70,1001.62 L274.95,1001.61 L275.20,1001.61 L275.45,1001.60 L275.70,1001.60 L275.95,1001.60 L276.20,1001.61 L276.45,1001.63 L276.70,1001.67 L276.95,1001.72 L277.20,1001.78 L277.45,1001.85 L277.70,1001.93 L277.95,1002.02 L278.20,1002.12 L278.45,1002.22 L278.70,1002.34 L278.95,1002.46 L279.20,1002.59 L279.45,1002.73 L279.70,1002.87 L279.95,1003.01 L280.20,1003.16 L280.45,1003.31 L280.70,1003.47 L280.95,1003.63 L281.20,1003.79 L281.45,1003.95 L281.70,1004.11 L281.95,1004.27 L282.20,1004.43 L282.45,1004.59 L282.70,1004.74 L282.95,1004.90 L283.20,1005.05 L283.45,1005.19 L283.70,1005.34 L283.95,1005.47 L284.20,1005.60 L284.45,1005.73 L284.70,1005.85 L284.95,1005.97 L285.20,1006.09 L285.45,1006.22 L285.70,1006.35 L285.95,1006.49 L286.20,1006.62 L286.45,1006.76 L286.70,1006.90 L286.95,1007.04 L287.20,1007.18 L287.45,1007.33 L287.70,1007.47 L287.95,1007.62 L288.20,1007.76 L288.45,1007.90 L288.70,1008.05 L288.95,1008.19 L289.20,1008.33 L289.45,1008.46 L289.70,1008.60 L289.95,1008.73 L290.20,1008.86 L290.45,1008.99 L290.70,1009.11 L290.95,1009.23 L291.20,1009.34 L291.45,1009.45 L291.70,1009.56 L291.95,1009.66 L292.20,1009.75 L292.45,1009.84 L292.70,1009.92 L292.95,1010.00 L293.20,1010.07 L293.45,1010.13 L293.70,1010.18 L293.95,1010.23 L294.20,1010.27 L294.45,1010.30 L294.70,1010.32 L294.95,1010.34 L295.20,1010.36 L295.45,1010.38 L295.70,1010.40 L295.95,1010.43 L296.20,1010.45 L296.45,1010.46 L296.70,1010.48 L296.95,1010.50 L297.20,1010.52 L297.45,1010.54 L297.70,1010.56 L297.95,1010.57 L298.20,1010.59 L298.45,1010.60 L298.70,1010.62 L298.95,1010.63 L299.20,1010.65 L299.45,1010.66 L299.70,1010.68 L299.95,1010.69 L300.20,1010.70 L300.45,1010.71 L300.70,1010.72 L300.95,1010.73 L301.20,1010.74 L301.45,1010.75 L301.70,1010.76 L301.95,1010.76 L302.20,1010.77 L302.45,1010.78 L302.70,1010.78 L302.95,1010.79 L303.20,1010.79 L303.45,1010.79 L303.70,1010.80 L303.95,1010.80 L304.20,1010.80 L304.45,1010.80 L304.70,1010.80 L304.95,1010.79 L305.20,1010.77 L305.45,1010.75 L305.70,1010.72 L305.95,1010.69 L306.20,1010.65 L306.45,1010.61 L306.70,1010.57 L306.95,1010.52 L307.20,1010.46 L307.45,1010.41 L307.70,1010.35 L307.95,1010.28 L308.20,1010.22 L308.45,1010.15 L308.70,1010.08 L308.95,1010.00 L309.20,1009.93 L309.45,1009.85 L309.70,1009.77 L309.95,1009.69 L310.20,1009.61 L310.45,1009.53 L310.70,1009.44 L310.95,1009.36 L311.20,1009.28 L311.45,1009.19 L311.70,1009.11 L311.95,1009.03 L312.20,1008.95 L312.45,1008.87 L312.70,1008.79 L312.95,1008.71 L313.20,1008.63 L313.45,1008.56 L313.70,1008.49 L313.95,1008.42 L314.20,1008.35 L314.45,1008.29 L314.70,1008.22 L314.95,1008.15 L315.20,1008.08 L315.45,1008.01 L315.70,1007.94 L315.95,1007.86 L316.20,1007.78 L316.45,1007.70 L316.70,1007.62 L316.95,1007.53 L317.20,1007.45 L317.45,1007.37 L317.70,1007.28 L317.95,1007.20 L318.20,1007.12 L318.45,1007.03 L318.70,1006.95 L318.95,1006.87 L319.20,1006.79 L319.45,1006.71 L319.70,1006.63 L319.95,1006.55 L320.20,1006.48 L320.45,1006.41 L320.70,1006.34 L320.95,1006.28 L321.20,1006.21 L321.45,1006.16 L321.70,1006.10 L321.95,1006.05 L322.20,1006.00 L322.45,1005.96 L322.70,1005.92 L322.95,1005.89 L323.20,1005.86 L323.45,1005.84 L323.70,1005.82 L323.95,1005.81 L324.20,1005.80 L324.45,1005.80 L324.70,1005.80 L324.95,1005.80 L325.20,1005.81 L325.45,1005.81 L325.70,1005.81 L325.95,1005.82 L326.20,1005.83 L326.45,1005.83 L326.70,1005.84 L326.95,1005.85 L327.20,1005.86 L327.45,1005.87 L327.70,1005.88 L327.95,1005.89 L328.20,1005.90 L328.45,1005.91 L328.70,1005.93 L328.95,1005.94 L329.20,1005.95 L329.45,1005.97 L329.70,1005.98 L329.95,1006.00 L330.20,1006.01 L330.45,1006.03 L330.70,1006.05 L330.95,1006.06 L331.20,1006.08 L331.45,1006.10 L331.70,1006.12 L331.95,1006.13 L332.20,1006.15 L332.45,1006.17 L332.70,1006.19 L332.95,1006.21 L333.20,1006.22 L333.45,1006.24 L333.70,1006.26 L333.95,1006.28 L334.20,1006.30 L334.45,1006.32 L334.70,1006.34 L334.95,1006.37 L335.20,1006.40 L335.45,1006.43 L335.70,1006.46 L335.95,1006.49 L336.20,1006.53 L336.45,1006.57 L336.70,1006.61 L336.95,1006.65 L337.20,1006.69 L337.45,1006.73 L337.70,1006.78 L337.95,1006.82 L338.20,1006.87 L338.45,1006.92 L338.70,1006.97 L338.95,1007.02 L339.20,1007.07 L339.45,1007.12 L339.70,1007.17 L339.95,1007.22 L340.20,1007.28 L340.45,1007.33 L340.70,1007.38 L340.95,1007.43 L341.20,1007.48 L341.45,1007.53 L341.70,1007.58 L341.95,1007.63 L342.20,1007.68 L342.45,1007.73 L342.70,1007.78 L342.95,1007.82 L343.20,1007.87 L343.45,1007.91 L343.70,1007.95 L343.95,1007.99 L344.20,1008.03 L344.45,1008.07 L344.70,1008.10 L344.95,1008.14 L345.20,1008.17 L345.45,1008.20 L345.70,1008.22 L345.95,1008.25 L346.20,1008.27 L346.45,1008.29 L346.70,1008.31 L346.95,1008.32 L347.20,1008.34 L347.45,1008.35 L347.70,1008.37 L347.95,1008.39 L348.20,1008.40 L348.45,1008.42 L348.70,1008.43 L348.95,1008.45 L349.20,1008.46 L349.45,1008.48 L349.70,1008.49 L349.95,1008.50 L350.20,1008.52 L350.45,1008.53 L350.70,1008.55 L350.95,1008.56 L351.20,1008.57 L351.45,1008.59 L351.70,1008.60 L351.95,1008.61 L352.20,1008.62 L352.45,1008.63 L352.70,1008.65 L352.95,1008.66 L353.20,1008.67 L353.45,1008.68 L353.70,1008.69 L353.95,1008.70 L354.20,1008.71 L354.45,1008.72 L354.70,1008.72 L354.95,1008.73 L355.20,1008.74 L355.45,1008.75 L355.70,1008.75 L355.95,1008.76 L356.20,1008.77 L356.45,1008.77 L356.70,1008.78 L356.95,1008.78 L357.20,1008.79 L357.45,1008.79 L357.70,1008.79 L357.95,1008.80 L358.20,1008.80 L358.45,1008.80 L358.70,1008.80 L358.95,1008.80 L359.20,1008.80 L359.45,1008.80 L359.70,1008.79 L359.95,1008.79 L360.20,1008.78 L360.45,1008.77 L360.70,1008.76 L360.95,1008.75 L361.20,1008.74 L361.45,1008.72 L361.70,1008.71 L361.95,1008.69 L362.20,1008.68 L362.45,1008.66 L362.70,1008.64 L362.95,1008.62 L363.20,1008.60 L363.45,1008.57 L363.70,1008.55 L363.95,1008.53 L364.20,1008.50 L364.45,1008.48 L364.70,1008.45 L364.95,1008.43 L365.20,1008.40 L365.45,1008.38 L365.70,1008.35 L365.95,1008.32 L366.20,1008.30 L366.45,1008.27 L366.70,1008.24 L366.95,1008.22 L367.20,1008.19 L367.45,1008.16 L367.70,1008.13 L367.95,1008.11 L368.20,1008.08 L368.45,1008.06 L368.70,1008.03 L368.95,1008.01 L369.20,1007.98 L369.45,1007.96 L369.70,1007.94 L369.95,1007.91 L370.20,1007.89 L370.45,1007.87 L370.70,1007.85 L370.95,1007.83 L371.20,1007.81 L371.45,1007.80 L371.70,1007.78 L371.95,1007.76 L372.20,1007.75 L372.45,1007.73 L372.70,1007.71 L372.95,1007.69 L373.20,1007.67 L373.45,1007.65 L373.70,1007.64 L373.95,1007.62 L374.20,1007.60 L374.45,1007.58 L374.70,1007.56 L374.95,1007.54 L375.20,1007.52 L375.45,1007.50 L375.70,1007.48 L375.95,1007.47 L376.20,1007.45 L376.45,1007.43 L376.70,1007.41 L376.95,1007.39 L377.20,1007.37 L377.45,1007.36 L377.70,1007.34 L377.95,1007.32 L378.20,1007.31 L378.45,1007.29 L378.70,1007.28 L378.95,1007.26 L379.20,1007.25 L379.45,1007.23 L379.70,1007.22 L379.95,1007.21 L380.20,1007.19 L380.45,1007.18 L380.70,1007.17 L380.95,1007.16 L381.20,1007.15 L381.45,1007.14 L381.70,1007.13 L381.95,1007.13 L382.20,1007.12 L382.45,1007.11 L382.70,1007.11 L382.95,1007.11 L383.20,1007.10 L383.45,1007.10 L383.70,1007.10 L383.95,1007.10 L384.20,1007.10 L384.45,1007.11 L384.70,1007.12 L384.95,1007.13 L385.20,1007.15 L385.45,1007.17 L385.70,1007.18 L385.95,1007.21 L386.20,1007.23 L386.45,1007.25 L386.70,1007.28 L386.95,1007.30 L387.20,1007.33 L387.45,1007.36 L387.70,1007.38 L387.95,1007.41 L388.20,1007.44 L388.45,1007.46 L388.70,1007.49 L388.95,1007.51 L389.20,1007.54 L389.45,1007.56 L389.70,1007.58 L389.95,1007.60 L390.20,1007.61 L390.45,1007.63 L390.70,1007.65 L390.95,1007.67 L391.20,1007.68 L391.45,1007.70 L391.70,1007.72 L391.95,1007.74 L392.20,1007.76 L392.45,1007.78 L392.70,1007.80 L392.95,1007.82 L393.20,1007.84 L393.45,1007.85 L393.70,1007.87 L393.95,1007.89 L394.20,1007.91 L394.45,1007.93 L394.70,1007.95 L394.95,1007.97 L395.20,1007.98 L395.45,1008.00 L395.70,1008.02 L395.95,1008.04 L396.20,1008.06 L396.45,1008.07 L396.70,1008.09 L396.95,1008.10 L397.20,1008.12 L397.45,1008.13 L397.70,1008.15 L397.95,1008.16 L398.20,1008.18 L398.45,1008.19 L398.70,1008.20 L398.95,1008.21 L399.20,1008.23 L399.45,1008.24 L399.70,1008.25 L399.95,1008.26 L400.20,1008.26 L400.45,1008.27 L400.70,1008.28 L400.95,1008.28 L401.20,1008.29 L401.45,1008.29 L401.70,1008.30 L401.95,1008.30 L402.20,1008.30 L402.45,1008.30 L402.70,1008.30 L402.95,1008.30 L403.20,1008.30 L403.45,1008.29 L403.70,1008.29 L403.95,1008.28 L404.20,1008.28 L404.45,1008.27 L404.70,1008.26 L404.95,1008.26 L405.20,1008.25 L405.45,1008.24 L405.70,1008.23 L405.95,1008.22 L406.20,1008.21 L406.45,1008.20 L406.70,1008.19 L406.95,1008.17 L407.20,1008.16 L407.45,1008.15 L407.70,1008.13 L407.95,1008.12 L408.20,1008.10 L408.45,1008.09 L408.70,1008.07 L408.95,1008.05 L409.20,1008.04 L409.45,1008.02 L409.70,1008.00 L409.95,1007.98 L410.20,1007.97 L410.45,1007.95 L410.70,1007.93 L410.95,1007.91 L411.20,1007.89 L411.45,1007.87 L411.70,1007.85 L411.95,1007.83 L412.20,1007.81 L412.45,1007.79 L412.70,1007.77 L412.95,1007.75 L413.20,1007.73 L413.45,1007.71 L413.70,1007.69 L413.95,1007.67 L414.20,1007.65 L414.45,1007.63 L414.70,1007.61 L414.95,1007.59 L415.20,1007.57 L415.45,1007.54 L415.70,1007.52 L415.95,1007.49 L416.20,1007.46 L416.45,1007.43 L416.70,1007.40 L416.95,1007.37 L417.20,1007.33 L417.45,1007.30 L417.70,1007.26 L417.95,1007.22 L418.20,1007.19 L418.45,1007.15 L418.70,1007.11 L418.95,1007.07 L419.20,1007.03 L419.45,1006.99 L419.70,1006.94 L419.95,1006.90 L420.20,1006.86 L420.45,1006.81 L420.70,1006.77 L420.95,1006.73 L421.20,1006.68 L421.45,1006.64 L421.70,1006.60 L421.95,1006.55 L422.20,1006.51 L422.45,1006.47 L422.70,1006.43 L422.95,1006.38 L423.20,1006.34 L423.45,1006.30 L423.70,1006.26 L423.95,1006.22 L424.20,1006.18 L424.45,1006.14 L424.70,1006.11 L424.95,1006.07 L425.20,1006.04 L425.45,1006.00 L425.70,1005.97 L425.95,1005.94 L426.20,1005.91 L426.45,1005.88 L426.70,1005.85 L426.95,1005.82 L427.20,1005.80 L427.45,1005.78 L427.70,1005.75 L427.95,1005.73 L428.20,1005.70 L428.45,1005.68 L428.70,1005.66 L428.95,1005.63 L429.20,1005.61 L429.45,1005.58 L429.70,1005.56 L429.95,1005.53 L430.20,1005.51 L430.45,1005.49 L430.70,1005.46 L430.95,1005.44 L431.20,1005.42 L431.45,1005.39 L431.70,1005.37 L431.95,1005.35 L432.20,1005.33 L432.45,1005.31 L432.70,1005.29 L432.95,1005.27 L433.20,1005.25 L433.45,1005.24 L433.70,1005.22 L433.95,1005.20 L434.20,1005.19 L434.45,1005.17 L434.70,1005.16 L434.95,1005.15 L435.20,1005.14 L435.45,1005.13 L435.70,1005.12 L435.95,1005.12 L436.20,1005.11 L436.45,1005.10 L436.70,1005.10 L436.95,1005.10 L437.20,1005.10 L437.45,1005.11 L437.70,1005.12 L437.95,1005.13 L438.20,1005.15 L438.45,1005.18 L438.70,1005.21 L438.95,1005.25 L439.20,1005.29 L439.45,1005.33 L439.70,1005.38 L439.95,1005.43 L440.20,1005.48 L440.45,1005.54 L440.70,1005.60 L440.95,1005.67 L441.20,1005.74 L441.45,1005.81 L441.70,1005.88 L441.95,1005.95 L442.20,1006.03 L442.45,1006.11 L442.70,1006.18 L442.95,1006.27 L443.20,1006.35 L443.45,1006.43 L443.70,1006.51 L443.95,1006.60 L444.20,1006.68 L444.45,1006.76 L444.70,1006.85 L444.95,1006.93 L445.20,1007.01 L445.45,1007.09 L445.70,1007.17 L445.95,1007.25 L446.20,1007.33 L446.45,1007.41 L446.70,1007.48 L446.95,1007.56 L447.20,1007.63 L447.45,1007.70 L447.70,1007.78 L447.95,1007.87 L448.20,1007.95 L448.45,1008.05 L448.70,1008.14 L448.95,1008.24 L449.20,1008.34 L449.45,1008.44 L449.70,1008.54 L449.95,1008.65 L450.20,1008.76 L450.45,1008.86 L450.70,1008.97 L450.95,1009.08 L451.20,1009.19 L451.45,1009.30 L451.70,1009.40 L451.95,1009.51 L452.20,1009.61 L452.45,1009.71 L452.70,1009.81 L452.95,1009.91 L453.20,1010.00 L453.45,1010.09 L453.70,1010.18 L453.95,1010.26 L454.20,1010.34 L454.45,1010.41 L454.70,1010.48 L454.95,1010.54 L455.20,1010.60 L455.45,1010.65 L455.70,1010.69 L455.95,1010.73 L456.20,1010.76 L456.45,1010.78 L456.70,1010.79 L456.95,1010.80 L457.20,1010.80 L457.45,1010.80 L457.70,1010.79 L457.95,1010.79 L458.20,1010.78 L458.45,1010.78 L458.70,1010.77 L458.95,1010.76 L459.20,1010.75 L459.45,1010.73 L459.70,1010.72 L459.95,1010.71 L460.20,1010.69 L460.45,1010.67 L460.70,1010.65 L460.95,1010.64 L461.20,1010.62 L461.45,1010.60 L461.70,1010.57 L461.95,1010.55 L462.20,1010.53 L462.45,1010.51 L462.70,1010.48 L462.95,1010.46 L463.20,1010.43 L463.45,1010.40 L463.70,1010.38 L463.95,1010.35 L464.20,1010.32 L464.45,1010.29 L464.70,1010.26 L464.95,1010.22 L465.20,1010.17 L465.45,1010.11 L465.70,1010.04 L465.95,1009.97 L466.20,1009.89 L466.45,1009.81 L466.70,1009.72 L466.95,1009.62 L467.20,1009.52 L467.45,1009.42 L467.70,1009.30 L467.95,1009.19 L468.20,1009.07 L468.45,1008.95 L468.70,1008.82 L468.95,1008.69 L469.20,1008.56 L469.45,1008.43 L469.70,1008.29 L469.95,1008.15 L470.20,1008.02 L470.45,1007.88 L470.70,1007.74 L470.95,1007.60 L471.20,1007.46 L471.45,1007.32 L471.70,1007.18 L471.95,1007.04 L472.20,1006.90 L472.45,1006.76 L472.70,1006.63 L472.95,1006.50 L473.20,1006.37 L473.45,1006.24 L473.70,1006.12 L473.95,1006.00 L474.20,1005.89 L474.45,1005.78 L474.70,1005.67 L474.95,1005.55 L475.20,1005.43 L475.45,1005.31 L475.70,1005.18 L475.95,1005.06 L476.20,1004.93 L476.45,1004.80 L476.70,1004.67 L476.95,1004.54 L477.20,1004.40 L477.45,1004.27 L477.70,1004.14 L477.95,1004.01 L478.20,1003.88 L478.45,1003.75 L478.70,1003.62 L478.95,1003.50 L479.20,1003.38 L479.45,1003.26 L479.70,1003.14 L479.95,1003.03 L480.20,1002.93 L480.45,1002.82 L480.70,1002.72 L480.95,1002.63 L481.20,1002.54 L481.45,1002.46 L481.70,1002.39 L481.95,1002.32 L482.20,1002.26 L482.45,1002.20 L482.70,1002.16 L482.95,1002.12 L483.20,1002.09 L483.45,1002.06 L483.70,1002.03 L483.95,1002.01 L484.20,1001.98 L484.45,1001.95 L484.70,1001.93 L484.95,1001.90 L485.20,1001.88 L485.45,1001.86 L485.70,1001.83 L485.95,1001.81 L486.20,1001.79 L486.45,1001.77 L486.70,1001.75 L486.95,1001.73 L487.20,1001.72 L487.45,1001.70 L487.70,1001.69 L487.95,1001.67 L488.20,1001.66 L488.45,1001.65 L488.70,1001.64 L488.95,1001.63 L489.20,1001.62 L489.45,1001.61 L489.70,1001.61 L489.95,1001.60 L490.20,1001.60 L490.45,1001.60 L490.70,1001.60 L490.95,1001.62 L491.20,1001.65 L491.45,1001.69 L491.70,1001.74 L491.95,1001.81 L492.20,1001.88 L492.45,1001.96 L492.70,1002.06 L492.95,1002.16 L493.20,1002.27 L493.45,1002.38 L493.70,1002.51 L493.95,1002.64 L494.20,1002.77 L494.45,1002.91 L494.70,1003.06 L494.95,1003.21 L495.20,1003.36 L495.45,1003.52 L495.70,1003.68 L495.95,1003.84 L496.20,1004.00 L496.45,1004.16 L496.70,1004.33 L496.95,1004.49 L497.20,1004.65 L497.45,1004.81 L497.70,1004.97 L497.95,1005.13 L498.20,1005.29 L498.45,1005.47 L498.70,1005.65 L498.95,1005.84 L499.20,1006.04 L499.45,1006.25 L499.70,1006.46 L499.95,1006.68 L500.20,1006.91 L500.45,1007.14 L500.70,1007.38 L500.95,1007.62 L501.20,1007.87 L501.45,1008.11 L501.70,1008.36 L501.95,1008.62 L502.20,1008.87 L502.45,1009.12 L502.70,1009.38 L502.95,1009.63 L503.20,1009.89 L503.45,1010.14 L503.70,1010.39 L503.95,1010.64 L504.20,1010.88 L504.45,1011.13 L504.70,1011.36 L504.95,1011.60 L505.20,1011.82 L505.45,1012.04 L505.70,1012.27 L505.95,1012.49 L506.20,1012.72 L506.45,1012.95 L506.70,1013.18 L506.95,1013.42 L507.20,1013.66 L507.45,1013.89 L507.70,1014.13 L507.95,1014.37 L508.20,1014.60 L508.45,1014.84 L508.70,1015.07 L508.95,1015.30 L509.20,1015.53 L509.45,1015.75 L509.70,1015.97 L509.95,1016.19 L510.20,1016.40 L510.45,1016.61 L510.70,1016.81 L510.95,1017.00 L511.20,1017.19 L511.45,1017.37 L511.70,1017.54 L511.95,1017.71 L512.20,1017.86 L512.45,1018.01 L512.70,1018.15 L512.95,1018.28 L513.20,1018.41 L513.45,1018.54 L513.70,1018.67 L513.95,1018.80 L514.20,1018.93 L514.45,1019.06 L514.70,1019.19 L514.95,1019.32 L515.20,1019.44 L515.45,1019.56 L515.70,1019.68 L515.95,1019.79 L516.20,1019.90 L516.45,1020.01 L516.70,1020.10 L516.95,1020.20 L517.20,1020.28 L517.45,1020.36 L517.70,1020.44 L517.95,1020.50 L518.20,1020.56 L518.45,1020.61 L518.70,1020.64 L518.95,1020.67 L519.20,1020.69 L519.45,1020.70 L519.70,1020.69 L519.95,1020.67 L520.20,1020.64 L520.45,1020.58 L520.70,1020.52 L520.95,1020.44 L521.20,1020.34 L521.45,1020.24 L521.70,1020.12 L521.95,1019.99 L522.20,1019.85 L522.45,1019.71 L522.70,1019.55 L522.95,1019.38 L523.20,1019.21 L523.45,1019.03 L523.70,1018.85 L523.95,1018.66 L524.20,1018.47 L524.45,1018.27 L524.70,1018.07 L524.95,1017.86 L525.20,1017.66 L525.45,1017.45 L525.70,1017.25 L525.95,1017.04 L526.20,1016.83 L526.45,1016.60 L526.70,1016.35 L526.95,1016.09 L527.20,1015.81 L527.45,1015.52 L527.70,1015.21 L527.95,1014.88 L528.20,1014.55 L528.45,1014.20 L528.70,1013.84 L528.95,1013.47 L529.20,1013.08 L529.45,1012.69 L529.70,1012.29 L529.95,1011.89 L530.20,1011.47 L530.45,1011.05 L530.70,1010.62 L530.95,1010.19 L531.20,1009.76 L531.45,1009.32 L531.70,1008.88 L531.95,1008.43 L532.20,1007.99 L532.45,1007.54 L532.70,1007.10 L532.95,1006.64 L533.20,1006.17 L533.45,1005.67 L533.70,1005.15 L533.95,1004.61 L534.20,1004.06 L534.45,1003.50 L534.70,1002.92 L534.95,1002.34 L535.20,1001.75 L535.45,1001.15 L535.70,1000.55 L535.95,999.95 L536.20,999.35 L536.45,998.75 L536.70,998.15 L536.95,997.57 L537.20,996.98 L537.45,996.41 L537.70,995.86 L537.95,995.31 L538.20,994.78 L538.45,994.27 L538.70,993.78 L538.95,993.31 L539.20,992.84 L539.45,992.37 L539.70,991.90 L539.95,991.43 L540.20,990.96 L540.45,990.49 L540.70,990.02 L540.95,989.56 L541.20,989.10 L541.45,988.65 L541.70,988.21 L541.95,987.77 L542.20,987.35 L542.45,986.93 L542.70,986.53 L542.95,986.14 L543.20,985.77 L543.45,985.41 L543.70,985.06 L543.95,984.74 L544.20,984.43 L544.45,984.14 L544.70,983.88 L544.95,983.63 L545.20,983.41 L545.45,983.19 L545.70,982.97 L545.95,982.76 L546.20,982.54 L546.45,982.33 L546.70,982.12 L546.95,981.92 L547.20,981.72 L547.45,981.54 L547.70,981.36 L547.95,981.20 L548.20,981.05 L548.45,980.92 L548.70,980.80 L548.95,980.70 L549.20,980.62 L549.45,980.56 L549.70,980.52 L549.95,980.50 L550.20,980.52 L550.45,980.62 L550.70,980.78 L550.95,981.01 L551.20,981.29 L551.45,981.63 L551.70,982.02 L551.95,982.46 L552.20,982.94 L552.45,983.45 L552.70,984.00 L552.95,984.57 L553.20,985.17 L553.45,985.79 L553.70,986.43 L553.95,987.07 L554.20,987.72 L554.45,988.38 L554.70,989.03 L554.95,989.67 L555.20,990.30 L555.45,990.92 L555.70,991.56 L555.95,992.24 L556.20,992.96 L556.45,993.70 L556.70,994.48 L556.95,995.28 L557.20,996.11 L557.45,996.96 L557.70,997.83 L557.95,998.71 L558.20,999.61 L558.45,1000.52 L558.70,1001.43 L558.95,1002.35 L559.20,1003.27 L559.45,1004.19 L559.70,1005.11 L559.95,1006.02 L560.20,1006.93 L560.45,1007.85 L560.70,1008.79 L560.95,1009.74 L561.20,1010.70 L561.45,1011.67 L561.70,1012.65 L561.95,1013.64 L562.20,1014.64 L562.45,1015.64 L562.70,1016.64 L562.95,1017.65 L563.20,1018.66 L563.45,1019.67 L563.70,1020.68 L563.95,1021.69 L564.20,1022.70 L564.45,1023.70 L564.70,1024.70 L564.95,1025.71 L565.20,1026.74 L565.45,1027.80 L565.70,1028.88 L565.95,1029.96 L566.20,1031.05 L566.45,1032.15 L566.70,1033.24 L566.95,1034.32 L567.20,1035.39 L567.45,1036.44 L567.70,1037.47 L567.95,1038.47 L568.20,1039.44 L568.45,1040.37 L568.70,1041.26 L568.95,1042.11 L569.20,1042.90 L569.45,1043.64 L569.70,1044.39 L569.95,1045.12 L570.20,1045.86 L570.45,1046.58 L570.70,1047.29 L570.95,1047.99 L571.20,1048.66 L571.45,1049.32 L571.70,1049.95 L571.95,1050.56 L572.20,1051.13 L572.45,1051.67 L572.70,1052.18 L572.95,1052.64 L573.20,1053.07 L573.45,1053.44 L573.70,1053.77 L573.95,1054.05 L574.20,1054.31 L574.45,1054.57 L574.70,1054.82 L574.95,1055.07 L575.20,1055.30 L575.45,1055.53 L575.70,1055.75 L575.95,1055.96 L576.20,1056.15 L576.45,1056.33 L576.70,1056.50 L576.95,1056.64 L577.20,1056.77 L577.45,1056.88 L577.70,1056.97 L577.95,1057.04 L578.20,1057.08 L578.45,1057.10 L578.70,1057.09 L578.95,1057.04 L579.20,1056.95 L579.45,1056.83 L579.70,1056.67 L579.95,1056.49 L580.20,1056.28 L580.45,1056.04 L580.70,1055.78 L580.95,1055.50 L581.20,1055.20 L581.45,1054.88 L581.70,1054.55 L581.95,1054.21 L582.20,1053.86 L582.45,1053.50 L582.70,1053.14 L582.95,1052.77 L583.20,1052.40 L583.45,1052.00 L583.70,1051.56 L583.95,1051.06 L584.20,1050.51 L584.45,1049.93 L584.70,1049.30 L584.95,1048.63 L585.20,1047.93 L585.45,1047.19 L585.70,1046.43 L585.95,1045.64 L586.20,1044.82 L586.45,1043.98 L586.70,1043.13 L586.95,1042.26 L587.20,1041.38 L587.45,1040.49 L587.70,1039.59 L587.95,1038.69 L588.20,1037.79 L588.45,1036.90 L588.70,1036.00 L588.95,1035.12 L589.20,1034.25 L589.45,1033.38 L589.70,1032.53 L589.95,1031.68 L590.20,1030.82 L590.45,1029.96 L590.70,1029.10 L590.95,1028.22 L591.20,1027.33 L591.45,1026.42 L591.70,1025.49 L591.95,1024.54 L592.20,1023.56 L592.45,1022.55 L592.70,1021.51 L592.95,1020.42 L593.20,1019.30 L593.45,1018.14 L593.70,1016.92 L593.95,1015.66 L594.20,1014.33 L594.45,1012.89 L594.70,1011.37 L594.95,1009.75 L595.20,1008.05 L595.45,1006.27 L595.70,1004.41 L595.95,1002.49 L596.20,1000.51 L596.45,998.46 L596.70,996.37 L596.95,994.23 L597.20,992.02 L597.45,989.67 L597.70,987.21 L597.95,984.63 L598.20,981.96 L598.45,979.20 L598.70,976.38 L598.95,973.50 L599.20,970.58 L599.45,967.62 L599.70,964.65 L599.95,961.68 L600.20,958.70 L600.45,955.63 L600.70,952.46 L600.95,949.21 L601.20,945.89 L601.45,942.54 L601.70,939.18 L601.95,935.81 L602.20,932.47 L602.45,929.18 L602.70,925.96 L602.95,922.82 L603.20,919.80 L603.45,916.85 L603.70,913.92 L603.95,911.01 L604.20,908.14 L604.45,905.30 L604.70,902.51 L604.95,899.76 L605.20,897.06 L605.45,894.41 L605.70,891.83 L605.95,889.31 L606.20,886.86 L606.45,884.46 L606.70,882.00 L606.95,879.51 L607.20,877.02 L607.45,874.56 L607.70,872.15 L607.95,869.84 L608.20,867.64 L608.45,865.59 L608.70,863.72 L608.95,862.06 L609.20,860.64 L609.45,859.49 L609.70,858.42 L609.95,857.38 L610.20,856.38 L610.45,855.49 L610.70,854.71 L610.95,854.10 L611.20,853.69 L611.45,853.51 L611.70,853.59 L611.95,853.92 L612.20,854.50 L612.45,855.30 L612.70,856.31 L612.95,857.52 L613.20,858.90 L613.45,860.43 L613.70,862.12 L613.95,863.92 L614.20,866.33 L614.45,870.16 L614.70,875.13 L614.95,880.95 L615.20,887.30 L615.45,893.88 L615.70,900.90 L615.95,909.09 L616.20,918.18 L616.45,927.89 L616.70,937.90 L616.95,947.91 L617.20,957.71 L617.45,967.78 L617.70,978.12 L617.95,988.60 L618.20,999.07 L618.45,1009.36 L618.70,1019.33 L618.95,1028.81 L619.20,1038.01 L619.45,1047.18 L619.70,1056.58 L619.95,1066.47 L620.20,1077.10 L620.45,1089.56 L620.70,1103.70 L620.95,1117.94 L621.20,1130.71 L621.45,1140.52 L621.70,1149.05 L621.95,1156.99 L622.20,1163.60 L622.45,1168.15 L622.70,1170.19 L622.95,1171.54 L623.20,1172.73 L623.45,1173.76 L623.70,1174.62 L623.95,1175.32 L624.20,1175.84 L624.45,1176.20 L624.70,1176.38 L624.95,1176.41 L625.20,1176.43 L625.45,1176.45 L625.70,1176.47 L625.95,1176.49 L626.20,1176.50 L626.45,1176.51 L626.70,1176.53 L626.95,1176.54 L627.20,1176.55 L627.45,1176.56 L627.70,1176.57 L627.95,1176.57 L628.20,1176.58 L628.45,1176.59 L628.70,1176.59 L628.95,1176.59 L629.20,1176.60 L629.45,1176.60 L629.70,1176.60 L629.95,1176.60 L630.20,1176.60 L630.45,1176.60 L630.70,1176.60 L630.95,1176.60 L631.20,1176.60 L631.45,1176.60 L631.70,1176.60 L631.95,1176.60 L632.20,1176.60 L632.45,1176.60 L632.70,1176.60 L632.95,1176.60 L633.20,1176.60 L633.45,1176.60 L633.70,1176.60 L633.95,1176.60 L634.20,1176.60 L634.45,1176.60 L634.70,1176.60 L634.95,1176.60 L635.20,1176.60 L635.45,1176.60 L635.70,1176.60 L635.95,1176.60 L636.20,1176.60 L636.45,1176.60 L636.70,1176.60 L636.95,1176.60 L637.20,1176.60 L637.45,1176.60 L637.70,1176.60 L637.95,1176.60 L638.20,1176.60 L638.45,1176.60 L638.70,1176.60 L638.95,1176.60 L639.20,1176.60 L639.45,1176.60 L639.70,1176.60 L639.95,1176.60 L640.20,1176.60 L640.45,1176.60 L640.70,1176.60 L640.95,1176.60 L641.20,1176.60 L641.45,1176.60 L641.70,1176.60 L641.95,1176.60 L642.20,1176.60 L642.45,1176.60 L642.70,1176.60 L642.95,1176.60 L643.20,1176.60 L643.45,1176.60 L643.70,1176.60 L643.95,1176.60 L644.20,1176.60 L644.45,1176.60 L644.70,1176.60 L644.95,1176.60 L645.20,1176.60 L645.45,1176.60 L645.70,1176.60 L645.95,1176.60 L646.20,1176.60 L646.45,1176.60 L646.70,1176.60 L646.95,1176.60 L647.20,1176.60 L647.45,1176.60 L647.70,1176.60 L647.95,1176.60 L648.20,1176.60 L648.45,1176.60 L648.70,1176.60 L648.95,1176.60 L649.20,1176.60 L649.45,1176.60 L649.70,1176.60 L649.95,1176.60 L650.20,1176.60 L650.45,1176.60 L650.70,1176.60 L650.95,1176.60 L651.20,1176.60 L651.45,1176.60 L651.70,1176.60 L651.95,1176.60 L652.20,1176.60 L652.45,1176.60 L652.70,1176.60 L652.95,1176.60 L653.20,1176.60 L653.45,1176.60 L653.70,1176.60 L653.95,1176.60 L654.20,1176.60 L654.45,1176.60 L654.70,1176.60 L654.95,1176.60 L655.20,1176.60 L655.45,1176.60 L655.70,1176.60 L655.95,1176.60 L656.20,1176.60 L656.45,1176.60 L656.70,1176.60 L656.95,1176.60 L657.20,1176.60 L657.45,1176.60 L657.70,1176.60 L657.95,1176.60 L658.20,1176.60 L658.45,1176.60 L658.70,1176.60 L658.95,1176.60 L659.20,1176.60 L659.45,1176.60 L659.70,1176.60 L659.95,1176.60 L660.20,1176.60 L660.45,1176.60 L660.70,1176.60 L660.95,1176.60 L661.20,1176.60 L661.45,1176.60 L661.70,1176.60 L661.95,1176.60 L662.20,1176.60 L662.45,1176.60 L662.70,1176.60 L662.95,1176.60 L663.20,1176.60 L663.45,1176.60 L663.70,1176.60 L663.95,1176.60 L664.20,1176.60 L664.45,1176.60 L664.70,1176.60 L664.95,1176.60 L665.20,1176.60 L665.45,1176.60 L665.70,1176.60 L665.95,1176.60 L666.20,1176.60 L666.45,1176.60 L666.70,1176.60 L666.95,1176.60 L667.20,1176.60 L667.45,1176.60 L667.70,1176.60 L667.95,1176.60 L668.20,1176.60 L668.45,1176.60 L668.70,1176.60 L668.95,1176.60 L669.20,1176.60 L669.45,1176.60 L669.70,1176.60 L669.95,1176.60 L670.20,1176.60 L670.45,1176.60 L670.70,1176.60 L670.95,1176.60 L671.20,1176.60 L671.45,1176.60 L671.70,1176.60 L671.95,1176.60 L672.20,1176.60 L672.45,1176.60 L672.70,1176.60 L672.95,1176.60 L673.20,1176.60 L673.45,1176.60 L673.70,1176.60 L673.95,1176.60 L674.20,1176.60 L674.45,1176.60 L674.50,1176.60" stroke="#ff1493" stroke-width="5" fill="none" stroke-linejoin="round"/>
<path d="M88.60,1176.50L93.60,1176.50M109.64,1176.50L114.64,1176.50M129.47,1176.15L134.43,1176.85M140.54,1182.95L142.26,1178.25M142.08,1162.59L142.25,1157.60M142.72,1142.48L142.84,1137.48M143.05,1122.36L143.13,1117.36M143.36,1102.86L143.44,1097.86M143.65,1083.05L143.77,1078.05M144.25,1063.55L144.41,1058.56M144.89,1043.44L145.01,1038.44M145.20,1023.32L145.32,1018.32M145.82,1003.20L145.94,998.20M146.13,983.70L146.25,978.70M146.75,963.89L146.86,958.90M147.06,944.40L147.17,939.40M147.68,924.28L147.79,919.28M147.99,904.16L148.10,899.16M148.55,884.04L148.78,879.05M149.72,864.54L150.08,859.55M150.69,845.24L152.21,840.47M154.08,845.04L155.00,849.95M155.90,865.12L156.28,870.11M157.45,885.24L157.83,890.23M159.03,905.36L159.34,910.35M159.96,924.54L160.27,929.53M161.47,944.66L161.85,949.65M162.98,964.79L163.44,969.76M165.00,984.30L165.75,989.25M168.74,1003.49L169.44,1008.44M170.50,1023.62L171.39,1028.54M173.23,1030.83L174.85,1035.56M179.32,1049.96L180.53,1054.81M179.28,1064.07L184.28,1064.22M189.28,1055.05L190.99,1050.35M197.22,1037.78L198.53,1032.95M199.61,1018.64L200.47,1013.71M202.28,1007.69L203.99,1003.00M205.68,1002.52L206.78,997.64M207.85,982.93L209.56,978.23M215.64,973.54L220.34,975.25M219.81,989.93L221.12,994.76M226.42,1006.09L228.13,1010.79M234.60,1018.37L236.32,1023.07M233.59,1020.75L238.29,1019.03M240.02,1018.25L244.79,1016.74M240.40,1016.87L245.10,1018.58M246.59,1021.51L251.29,1023.22M248.25,1024.81L249.96,1020.11M255.69,1007.44L257.41,1002.74M254.33,1004.49L259.03,1006.20M261.14,1009.13L265.84,1010.84M262.64,1013.14L264.36,1008.45M266.36,1004.46L268.08,999.76M267.04,999.79L267.98,1004.70M269.10,1012.59L270.31,1017.44M270.09,1017.07L271.12,1012.18M272.26,1003.33L273.10,998.40M270.73,1000.94L275.43,999.22M275.07,998.46L279.76,996.75M276.79,994.80L278.50,999.49M283.24,1008.45L284.95,1013.14M283.68,1014.50L285.39,1009.80M286.71,1004.95L288.43,1000.26M286.21,1002.94L290.91,1004.65M292.13,1004.58L296.90,1006.09M293.02,1006.82L297.71,1005.11M299.86,996.78L301.58,1001.48M301.85,1016.63L303.56,1021.33M307.55,1018.35L312.25,1016.64M315.99,1012.40L317.71,1007.70M321.45,998.75L326.14,997.03M325.67,1000.76L330.36,1002.47M334.60,1000.51L336.32,1005.20M338.01,1021.86L342.84,1020.57M342.05,1003.22L343.76,998.52M343.04,1014.90L347.73,1016.61M350.73,1006.44L352.45,1001.75M354.45,993.56L356.17,998.25M358.26,1013.38L359.80,1018.13M359.02,1015.19L364.01,1014.83M367.11,1015.87L371.80,1014.16M372.32,1010.16L374.03,1005.47M375.29,1005.72L379.99,1007.43M380.26,1016.14L384.95,1017.85M383.48,1014.88L388.18,1013.16M389.19,1009.19L390.91,1013.89M391.49,1021.25L392.49,1026.15M392.09,1026.16L392.97,1021.24M394.99,1006.55L395.93,1001.64M395.62,1001.67L396.88,1006.51M397.83,1014.15L399.54,1018.85M401.93,1012.98L406.85,1012.08M409.90,1013.44L414.76,1014.60M412.47,1015.87L417.16,1014.16M416.90,1009.81L421.66,1008.30M427.28,1010.93L432.12,1009.66M436.78,1004.70L441.48,1002.99M444.97,991.82L446.69,996.52M448.20,1011.67L449.91,1016.37M453.30,1009.84L458.22,1010.75M460.04,1017.14L464.87,1015.87M462.71,1008.14L467.67,1007.49M465.82,1016.61L470.51,1014.90M474.50,1004.21L479.20,1002.49M484.43,1001.25L489.12,1002.97M487.90,1011.90L489.62,1007.20M488.15,994.55L492.84,996.27M493.36,1012.66L495.08,1017.36M498.69,1007.21L503.64,1007.92M502.29,1017.36L506.99,1015.64M506.76,1004.95L511.46,1003.24M510.48,1011.18L515.18,1012.89M522.89,1017.36L527.58,1015.64M525.37,998.75L530.07,997.03M528.22,1014.37L533.17,1013.67M537.53,998.75L539.24,994.05M544.97,987.83L546.69,983.14M543.79,984.75L548.54,986.30M554.56,986.26L556.28,990.95M559.46,1005.29L560.63,1010.15M564.08,1024.41L565.26,1029.27M568.44,1043.30L570.15,1048.00M576.15,1051.01L577.86,1055.71M577.60,1063.52L582.57,1062.93M584.02,1054.84L585.41,1050.03M588.09,1035.73L589.35,1030.90M593.99,1017.24L595.17,1012.39M597.66,997.87L598.29,992.91M599.34,978.46L599.69,973.47M600.55,958.41L600.94,953.43M602.38,938.68L602.81,933.69M603.87,918.63L604.41,913.66M606.64,899.20L607.19,894.23M608.24,879.16L608.67,874.18M610.08,859.12L610.53,854.14M609.50,838.19L614.20,839.91M613.81,857.22L614.20,862.20M614.83,876.33L615.03,881.33M615.47,896.37L615.62,901.37M616.11,916.42L616.22,921.42M616.41,935.84L616.53,940.84M617.01,955.89L617.17,960.88M617.65,975.93L617.76,980.93M617.98,995.97L618.05,1000.97M618.28,1015.40L618.36,1020.40M618.59,1035.44L618.67,1040.44M618.90,1055.49L618.98,1060.48M619.19,1075.22L619.31,1080.22M619.79,1095.26L619.94,1100.26M620.40,1114.69L620.56,1119.69M621.02,1134.73L621.17,1139.73M621.58,1154.78L621.85,1159.77M622.40,1174.97L624.11,1179.67M630.01,1176.47L635.01,1176.31M650.05,1176.39L655.05,1176.39M670.09,1176.39L675.09,1176.39" stroke="blue" stroke-width="5" fill="none" stroke-linecap="butt"/>
</g>
<rect x="88.70" y="817.50" width="585.80" height="385.60" stroke="#000" stroke-width="2" fill="none"/><path d="M80.00,1176.90H88.70M80.00,1121.97H88.70M80.00,1067.03H88.70M80.00,1012.10H88.70M80.00,957.16H88.70M80.00,902.23H88.70M80.00,847.30H88.70M88.70,1203.10V1211.80M205.86,1203.10V1211.80M323.02,1203.10V1211.80M440.18,1203.10V1211.80M557.34,1203.10V1211.80M674.50,1203.10V1211.80" stroke="#000" stroke-width="2" fill="none"/><text transform="translate(40.90,1185.60) scale(1.05,1)" font-family='"Liberation Serif", serif' font-size="23.5" fill="#000" >0.0</text><text transform="translate(41.32,1130.67) scale(1.05,1)" font-family='"Liberation Serif", serif' font-size="23.5" fill="#000" >0.2</text><text transform="translate(40.34,1075.73) scale(1.05,1)" font-family='"Liberation Serif", serif' font-size="23.5" fill="#000" >0.4</text><text transform="translate(40.69,1020.80) scale(1.05,1)" font-family='"Liberation Serif", serif' font-size="23.5" fill="#000" >0.6</text><text transform="translate(40.90,965.86) scale(1.05,1)" font-family='"Liberation Serif", serif' font-size="23.5" fill="#000" >0.8</text><text transform="translate(40.90,910.93) scale(1.05,1)" font-family='"Liberation Serif", serif' font-size="23.5" fill="#000" >1.0</text><text transform="translate(41.32,856.00) scale(1.05,1)" font-family='"Liberation Serif", serif' font-size="23.5" fill="#000" >1.2</text>
<path d="M111.80,852.20A17.70,17.70 0 0 0 111.80,882.80L111.16,881.84A21.27,21.27 0 0 1 111.16,853.16Z" fill="#000"/>
<text transform="translate(113.17,875.00) scale(1.1,1)" font-family='"Liberation Serif", serif' font-size="30" font-weight="bold" fill="#000" >c</text>
<path d="M130.00,852.20A18.50,18.50 0 0 1 130.00,882.80L130.64,881.84A23.59,23.59 0 0 0 130.64,853.16Z" fill="#000"/>
<rect x="241.4" y="1092.4" width="280.5" height="96.9" rx="5.5" ry="5.5" fill="#fff" fill-opacity="0.8" stroke="#d6d6d6" stroke-width="2"/>
<path d="M248.90,1119.90L255.40,1119.90M262.25,1119.90L268.75,1119.90M276.25,1119.90L282.75,1119.90M290.25,1119.90L296.75,1119.90M303.65,1119.90L310.15,1119.90" stroke="blue" stroke-width="5.2" fill="none" stroke-linecap="butt"/>
<path d="M249.3,1162H309.8" stroke="#ff1493" stroke-width="5.2"/>
<text x="300.94" y="312.60" font-family='"Liberation Serif", serif' font-size="27.5" font-style="italic" fill="#000" >β</text>
<text x="316.32" y="303.00" font-family='"Liberation Serif", serif' font-size="20" fill="#000" >2</text>
<path d="M337.60,292.40L331.40,305.80L337.60,319.20" stroke="#000" stroke-width="1.3" fill="none" stroke-linecap="round"/>
<text transform="translate(339.76,312.60) scale(1.15,1)" font-family='"Liberation Serif", serif' font-size="27.5" font-weight="bold" fill="#000" >F</text>
<path d="M345.00,292.00L348.80,286.80L352.60,292.00" stroke="#000" stroke-width="1.3" fill="none" stroke-linejoin="miter"/>
<path d="M365.09,291.98A18.37,18.37 0 0 0 365.09,319.48L364.70,318.90A26.77,26.77 0 0 1 364.70,292.55Z" fill="#000"/>
<text x="369.26" y="312.60" font-family='"Liberation Serif", serif' font-size="27.5" font-weight="bold" fill="#000" >r</text>
<path d="M383.80,291.98A18.37,18.37 0 0 1 383.80,319.48L384.19,318.90A26.77,26.77 0 0 0 384.19,292.55Z" fill="#000"/>
<path d="M399.20,293.00L403.20,293.00L411.93,306.15L409.53,307.15Z" fill="#000"/><path d="M400.50,293.80H423.00L424.40,298.80" stroke="#000" stroke-width="1.7" fill="none"/><path d="M410.93,306.15L399.80,318.30" stroke="#000" stroke-width="1.4" fill="none"/><path d="M399.20,318.40H423.40L424.50,313.50" stroke="#000" stroke-width="2.0" fill="none"/>
<text x="425.19" y="320.40" font-family='"Liberation Serif", serif' font-size="20" font-style="italic" fill="#000" >i</text>
<text x="439.66" y="312.60" font-family='"Liberation Serif", serif' font-size="27.5" font-style="italic" fill="#000" >V</text>
<text transform="translate(455.00,316.00) scale(1.15,1)" font-family='"Liberation Serif", serif' font-size="20" fill="#000" >ext</text>
<path d="M494.19,291.98A18.37,18.37 0 0 0 494.19,319.48L493.80,318.90A26.77,26.77 0 0 1 493.80,292.55Z" fill="#000"/>
<text x="497.66" y="312.60" font-family='"Liberation Serif", serif' font-size="27.5" font-weight="bold" fill="#000" >r</text>
<text x="508.11" y="316.00" font-family='"Liberation Serif", serif' font-size="19.5" font-style="italic" fill="#000" >i</text>
<path d="M519.30,291.98A18.37,18.37 0 0 1 519.30,319.48L519.68,318.90A26.77,26.77 0 0 0 519.68,292.55Z" fill="#000"/>
<path d="M530.00,292.40L537.60,305.80L530.00,319.20" stroke="#000" stroke-width="1.3" fill="none" stroke-linecap="round"/>
<text x="300.84" y="355.40" font-family='"Liberation Serif", serif' font-size="27.5" font-style="italic" fill="#000" >β</text>
<text transform="translate(316.06,355.40) scale(1.15,1)" font-family='"Liberation Serif", serif' font-size="27.5" font-weight="bold" fill="#000" >F</text>
<text transform="translate(335.60,358.80) scale(1.15,1)" font-family='"Liberation Serif", serif' font-size="20" fill="#000" >ext</text>
<path d="M374.89,334.77A18.37,18.37 0 0 0 374.89,362.27L374.50,361.70A26.77,26.77 0 0 1 374.50,335.35Z" fill="#000"/>
<text x="374.76" y="355.40" font-family='"Liberation Serif", serif' font-size="27.5" font-weight="bold" fill="#000" >r</text>
<path d="M391.80,334.77A18.37,18.37 0 0 1 391.80,362.27L392.19,361.70A26.77,26.77 0 0 0 392.19,335.35Z" fill="#000"/>
<text x="333.44" y="722.10" font-family='"Liberation Serif", serif' font-size="27.5" font-style="italic" fill="#000" >β</text>
<text x="347.92" y="712.50" font-family='"Liberation Serif", serif' font-size="20" fill="#000" >2</text>
<path d="M370.80,701.80L364.00,715.30L370.80,728.80" stroke="#000" stroke-width="1.3" fill="none" stroke-linecap="round"/>
<text transform="translate(372.66,722.10) scale(1.15,1)" font-family='"Liberation Serif", serif' font-size="27.5" font-weight="bold" fill="#000" >F</text>
<path d="M377.90,701.80L381.70,696.60L385.50,701.80" stroke="#000" stroke-width="1.3" fill="none" stroke-linejoin="miter"/>
<path d="M399.69,701.48A18.37,18.37 0 0 0 399.69,728.98L399.30,728.40A26.77,26.77 0 0 1 399.30,702.05Z" fill="#000"/>
<text x="402.26" y="722.10" font-family='"Liberation Serif", serif' font-size="27.5" font-weight="bold" fill="#000" >r</text>
<path d="M418.20,701.48A18.37,18.37 0 0 1 418.20,728.98L418.58,728.40A26.77,26.77 0 0 0 418.58,702.05Z" fill="#000"/>
<text x="426.33" y="722.10" font-family='"Liberation Serif", serif' font-size="27.5" font-style="italic" fill="#000" >u</text>
<path d="M449.09,701.48A18.37,18.37 0 0 0 449.09,728.98L448.70,728.40A26.77,26.77 0 0 1 448.70,702.05Z" fill="#000"/>
<text x="452.56" y="722.10" font-family='"Liberation Serif", serif' font-size="27.5" font-weight="bold" fill="#000" >r</text>
<text transform="translate(466.97,712.00) scale(1.15,1)" font-family='"Liberation Serif", serif' font-size="20" font-style="italic" fill="#000" >N</text>
<path d="M487.40,701.48A18.37,18.37 0 0 1 487.40,728.98L487.78,728.40A26.77,26.77 0 0 0 487.78,702.05Z" fill="#000"/>
<path d="M498.30,701.80L504.30,715.30L498.30,728.80" stroke="#000" stroke-width="1.3" fill="none" stroke-linecap="round"/>
<text x="333.34" y="763.70" font-family='"Liberation Serif", serif' font-size="27.5" font-style="italic" fill="#000" >β</text>
<text transform="translate(349.56,763.70) scale(1.15,1)" font-family='"Liberation Serif", serif' font-size="27.5" font-weight="bold" fill="#000" >F</text>
<text transform="translate(369.62,767.10) scale(1.15,1)" font-family='"Liberation Serif", serif' font-size="20" fill="#000" >int</text>
<path d="M405.19,743.08A18.37,18.37 0 0 0 405.19,770.58L404.80,770.00A26.77,26.77 0 0 1 404.80,743.65Z" fill="#000"/>
<text x="407.16" y="763.70" font-family='"Liberation Serif", serif' font-size="27.5" font-weight="bold" fill="#000" >r</text>
<path d="M421.50,743.08A18.37,18.37 0 0 1 421.50,770.58L421.88,770.00A26.77,26.77 0 0 0 421.88,743.65Z" fill="#000"/>
<rect x="330.9" y="1121.60" width="16.4" height="1.4" fill="#000"/>
<text x="351.74" y="1128.70" font-family='"Liberation Serif", serif' font-size="27.5" font-style="italic" fill="#000" >β</text>
<path d="M376.00,1108.60L369.30,1122.00L376.00,1135.40" stroke="#000" stroke-width="1.3" fill="none" stroke-linecap="round"/>
<text transform="translate(378.06,1128.70) scale(1.15,1)" font-family='"Liberation Serif", serif' font-size="27.5" font-weight="bold" fill="#000" >F</text>
<path d="M383.30,1109.00L387.10,1103.80L390.90,1109.00" stroke="#000" stroke-width="1.3" fill="none" stroke-linejoin="miter"/>
<path d="M406.49,1108.08A18.37,18.37 0 0 0 406.49,1135.58L406.10,1135.00A26.77,26.77 0 0 1 406.10,1108.65Z" fill="#000"/>
<text x="407.56" y="1128.70" font-family='"Liberation Serif", serif' font-size="27.5" font-weight="bold" fill="#000" >r</text>
<path d="M422.50,1108.08A18.37,18.37 0 0 1 422.50,1135.58L422.88,1135.00A26.77,26.77 0 0 0 422.88,1108.65Z" fill="#000"/>
<path d="M437.70,1109.10L441.70,1109.10L450.66,1122.25L448.26,1123.25Z" fill="#000"/><path d="M439.00,1109.90H462.00L463.40,1114.90" stroke="#000" stroke-width="1.7" fill="none"/><path d="M449.66,1122.25L438.30,1134.40" stroke="#000" stroke-width="1.4" fill="none"/><path d="M437.70,1134.50H462.40L463.50,1129.60" stroke="#000" stroke-width="2.0" fill="none"/>
<text x="464.19" y="1136.50" font-family='"Liberation Serif", serif' font-size="20" font-style="italic" fill="#000" >i</text>
<text x="478.36" y="1128.70" font-family='"Liberation Serif", serif' font-size="27.5" font-weight="bold" fill="#000" >r</text>
<text x="490.41" y="1132.10" font-family='"Liberation Serif", serif' font-size="19.5" font-style="italic" fill="#000" >i</text>
<path d="M501.30,1108.90L508.10,1122.00L501.30,1135.10" stroke="#000" stroke-width="1.3" fill="none" stroke-linecap="round"/>
<text x="330.50" y="1171.70" font-family='"Liberation Serif", serif' font-size="27.5" font-style="italic" fill="#000" >ρ</text>
<path d="M351.79,1151.08A18.37,18.37 0 0 0 351.79,1178.58L351.40,1178.00A26.77,26.77 0 0 1 351.40,1151.65Z" fill="#000"/>
<text x="353.56" y="1171.70" font-family='"Liberation Serif", serif' font-size="27.5" font-weight="bold" fill="#000" >r</text>
<path d="M367.90,1151.08A18.37,18.37 0 0 1 367.90,1178.58L368.28,1178.00A26.77,26.77 0 0 0 368.28,1151.65Z" fill="#000"/>
<g transform="translate(24.80,215.00) rotate(-90)"><text x="-0.83" y="0.00" font-family='"Liberation Serif", serif' font-size="28" font-style="italic" fill="#000" >σ</text><rect x="18.3" y="-17.10" width="13.1" height="1.4" fill="#000"/><text x="32.90" y="-10.90" font-family='"Liberation Serif", serif' font-size="20.5" fill="#000" >4</text></g>
<g transform="translate(26.60,623.10) rotate(-90)"><text x="-0.83" y="0.00" font-family='"Liberation Serif", serif' font-size="28" font-style="italic" fill="#000" >σ</text><rect x="18.3" y="-17.10" width="13.1" height="1.4" fill="#000"/><text x="32.90" y="-10.90" font-family='"Liberation Serif", serif' font-size="20.5" fill="#000" >4</text></g>
<g transform="translate(26.60,1031.40) rotate(-90)"><text x="-0.83" y="0.00" font-family='"Liberation Serif", serif' font-size="28" font-style="italic" fill="#000" >σ</text><rect x="18.3" y="-17.10" width="13.1" height="1.4" fill="#000"/><text x="32.32" y="-10.90" font-family='"Liberation Serif", serif' font-size="20.5" fill="#000" >3</text></g>
<text x="359.55" y="1273.00" font-family='"Liberation Serif", serif' font-size="31.6" font-style="italic" fill="#000" >z</text>
<path d="M385.6,1250.6L373.6,1282" stroke="#000" stroke-width="1.3"/>
<text x="387.46" y="1273.00" font-family='"Liberation Serif", serif' font-size="31.6" font-style="italic" fill="#000" >σ</text>
<text x="82.83" y="1236.20" font-family='"Liberation Serif", serif' font-size="23.5" fill="#000" >0</text>
<text x="200.12" y="1236.20" font-family='"Liberation Serif", serif' font-size="23.5" fill="#000" >2</text>
<text x="317.10" y="1236.20" font-family='"Liberation Serif", serif' font-size="23.5" fill="#000" >4</text>
<text x="434.15" y="1236.20" font-family='"Liberation Serif", serif' font-size="23.5" fill="#000" >6</text>
<text x="551.47" y="1236.20" font-family='"Liberation Serif", serif' font-size="23.5" fill="#000" >8</text>
<text x="662.16" y="1236.20" font-family='"Liberation Serif", serif' font-size="23.5" fill="#000" >10</text>
</svg></body></html>
